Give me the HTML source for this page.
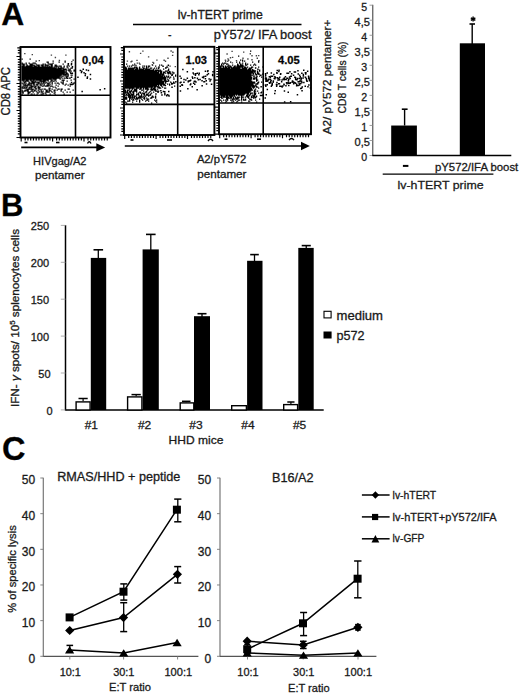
<!DOCTYPE html><html><head><meta charset="utf-8"><style>html,body{margin:0;padding:0;background:#fff;width:520px;height:694px;overflow:hidden;}body{position:relative;}text{stroke:#1a1a1a;stroke-width:.3px}</style></head><body><svg width="520" height="694" viewBox="0 0 520 694" style="position:absolute;left:0;top:0"><g font-family='"Liberation Sans", sans-serif' fill="#1a1a1a"><text x="1.20" y="24.80" font-size="31.5" font-weight="bold" textLength="23.00" lengthAdjust="spacingAndGlyphs" fill="#000">A</text><text x="1.00" y="215.90" font-size="31" font-weight="bold" fill="#000">B</text><text x="2.00" y="460.30" font-size="32.5" font-weight="bold" fill="#000">C</text><path d="M21.5 58.5h1.3v1.3h-1.3zM29.5 58.5h1.3v1.3h-1.3zM72.5 59.5h1.3v1.3h-1.3zM35.5 60.5h1.3v1.3h-1.3zM52.5 60.5h1.3v1.3h-1.3zM64.5 60.5h1.3v1.3h-1.3zM46.5 61.5h1.3v1.3h-1.3zM47.5 61.5h1.3v1.3h-1.3zM58.5 61.5h1.3v1.3h-1.3zM64.5 61.5h1.3v1.3h-1.3zM21.5 62.5h1.3v1.3h-1.3zM25.5 62.5h1.3v1.3h-1.3zM28.5 62.5h1.3v1.3h-1.3zM32.5 62.5h1.3v1.3h-1.3zM33.5 62.5h1.3v1.3h-1.3zM34.5 62.5h1.3v1.3h-1.3zM47.5 62.5h1.3v1.3h-1.3zM52.5 62.5h1.3v1.3h-1.3zM21.5 63.5h1.3v1.3h-1.3zM22.5 63.5h1.3v1.3h-1.3zM23.5 63.5h1.3v1.3h-1.3zM25.5 63.5h1.3v1.3h-1.3zM29.5 63.5h1.3v1.3h-1.3zM30.5 63.5h1.3v1.3h-1.3zM31.5 63.5h1.3v1.3h-1.3zM35.5 63.5h1.3v1.3h-1.3zM42.5 63.5h1.3v1.3h-1.3zM44.5 63.5h1.3v1.3h-1.3zM48.5 63.5h1.3v1.3h-1.3zM49.5 63.5h1.3v1.3h-1.3zM50.5 63.5h1.3v1.3h-1.3zM51.5 63.5h1.3v1.3h-1.3zM62.5 63.5h1.3v1.3h-1.3zM67.5 63.5h1.3v1.3h-1.3zM22.5 64.5h1.3v1.3h-1.3zM23.5 64.5h1.3v1.3h-1.3zM26.5 64.5h1.3v1.3h-1.3zM29.5 64.5h1.3v1.3h-1.3zM30.5 64.5h1.3v1.3h-1.3zM31.5 64.5h1.3v1.3h-1.3zM32.5 64.5h1.3v1.3h-1.3zM33.5 64.5h1.3v1.3h-1.3zM36.5 64.5h1.3v1.3h-1.3zM37.5 64.5h1.3v1.3h-1.3zM38.5 64.5h1.3v1.3h-1.3zM40.5 64.5h1.3v1.3h-1.3zM41.5 64.5h1.3v1.3h-1.3zM42.5 64.5h1.3v1.3h-1.3zM44.5 64.5h1.3v1.3h-1.3zM45.5 64.5h1.3v1.3h-1.3zM46.5 64.5h1.3v1.3h-1.3zM47.5 64.5h1.3v1.3h-1.3zM50.5 64.5h1.3v1.3h-1.3zM51.5 64.5h1.3v1.3h-1.3zM54.5 64.5h1.3v1.3h-1.3zM55.5 64.5h1.3v1.3h-1.3zM67.5 64.5h1.3v1.3h-1.3zM21.5 65.5h1.3v1.3h-1.3zM22.5 65.5h1.3v1.3h-1.3zM23.5 65.5h1.3v1.3h-1.3zM25.5 65.5h1.3v1.3h-1.3zM26.5 65.5h1.3v1.3h-1.3zM27.5 65.5h1.3v1.3h-1.3zM28.5 65.5h1.3v1.3h-1.3zM29.5 65.5h1.3v1.3h-1.3zM30.5 65.5h1.3v1.3h-1.3zM31.5 65.5h1.3v1.3h-1.3zM33.5 65.5h1.3v1.3h-1.3zM34.5 65.5h1.3v1.3h-1.3zM35.5 65.5h1.3v1.3h-1.3zM37.5 65.5h1.3v1.3h-1.3zM38.5 65.5h1.3v1.3h-1.3zM41.5 65.5h1.3v1.3h-1.3zM42.5 65.5h1.3v1.3h-1.3zM44.5 65.5h1.3v1.3h-1.3zM46.5 65.5h1.3v1.3h-1.3zM48.5 65.5h1.3v1.3h-1.3zM50.5 65.5h1.3v1.3h-1.3zM51.5 65.5h1.3v1.3h-1.3zM54.5 65.5h1.3v1.3h-1.3zM55.5 65.5h1.3v1.3h-1.3zM56.5 65.5h1.3v1.3h-1.3zM58.5 65.5h1.3v1.3h-1.3zM59.5 65.5h1.3v1.3h-1.3zM60.5 65.5h1.3v1.3h-1.3zM63.5 65.5h1.3v1.3h-1.3zM66.5 65.5h1.3v1.3h-1.3zM68.5 65.5h1.3v1.3h-1.3zM21.5 66.5h1.3v1.3h-1.3zM22.5 66.5h1.3v1.3h-1.3zM23.5 66.5h1.3v1.3h-1.3zM24.5 66.5h1.3v1.3h-1.3zM25.5 66.5h1.3v1.3h-1.3zM26.5 66.5h1.3v1.3h-1.3zM27.5 66.5h1.3v1.3h-1.3zM28.5 66.5h1.3v1.3h-1.3zM29.5 66.5h1.3v1.3h-1.3zM30.5 66.5h1.3v1.3h-1.3zM31.5 66.5h1.3v1.3h-1.3zM32.5 66.5h1.3v1.3h-1.3zM33.5 66.5h1.3v1.3h-1.3zM34.5 66.5h1.3v1.3h-1.3zM35.5 66.5h1.3v1.3h-1.3zM36.5 66.5h1.3v1.3h-1.3zM37.5 66.5h1.3v1.3h-1.3zM38.5 66.5h1.3v1.3h-1.3zM39.5 66.5h1.3v1.3h-1.3zM40.5 66.5h1.3v1.3h-1.3zM41.5 66.5h1.3v1.3h-1.3zM42.5 66.5h1.3v1.3h-1.3zM43.5 66.5h1.3v1.3h-1.3zM44.5 66.5h1.3v1.3h-1.3zM45.5 66.5h1.3v1.3h-1.3zM46.5 66.5h1.3v1.3h-1.3zM47.5 66.5h1.3v1.3h-1.3zM48.5 66.5h1.3v1.3h-1.3zM49.5 66.5h1.3v1.3h-1.3zM50.5 66.5h1.3v1.3h-1.3zM51.5 66.5h1.3v1.3h-1.3zM53.5 66.5h1.3v1.3h-1.3zM55.5 66.5h1.3v1.3h-1.3zM57.5 66.5h1.3v1.3h-1.3zM60.5 66.5h1.3v1.3h-1.3zM63.5 66.5h1.3v1.3h-1.3zM66.5 66.5h1.3v1.3h-1.3zM21.5 67.5h1.3v1.3h-1.3zM22.5 67.5h1.3v1.3h-1.3zM23.5 67.5h1.3v1.3h-1.3zM24.5 67.5h1.3v1.3h-1.3zM25.5 67.5h1.3v1.3h-1.3zM26.5 67.5h1.3v1.3h-1.3zM27.5 67.5h1.3v1.3h-1.3zM28.5 67.5h1.3v1.3h-1.3zM29.5 67.5h1.3v1.3h-1.3zM30.5 67.5h1.3v1.3h-1.3zM31.5 67.5h1.3v1.3h-1.3zM32.5 67.5h1.3v1.3h-1.3zM33.5 67.5h1.3v1.3h-1.3zM34.5 67.5h1.3v1.3h-1.3zM35.5 67.5h1.3v1.3h-1.3zM36.5 67.5h1.3v1.3h-1.3zM37.5 67.5h1.3v1.3h-1.3zM38.5 67.5h1.3v1.3h-1.3zM39.5 67.5h1.3v1.3h-1.3zM40.5 67.5h1.3v1.3h-1.3zM41.5 67.5h1.3v1.3h-1.3zM42.5 67.5h1.3v1.3h-1.3zM43.5 67.5h1.3v1.3h-1.3zM44.5 67.5h1.3v1.3h-1.3zM45.5 67.5h1.3v1.3h-1.3zM46.5 67.5h1.3v1.3h-1.3zM47.5 67.5h1.3v1.3h-1.3zM48.5 67.5h1.3v1.3h-1.3zM49.5 67.5h1.3v1.3h-1.3zM50.5 67.5h1.3v1.3h-1.3zM51.5 67.5h1.3v1.3h-1.3zM52.5 67.5h1.3v1.3h-1.3zM53.5 67.5h1.3v1.3h-1.3zM54.5 67.5h1.3v1.3h-1.3zM55.5 67.5h1.3v1.3h-1.3zM57.5 67.5h1.3v1.3h-1.3zM58.5 67.5h1.3v1.3h-1.3zM59.5 67.5h1.3v1.3h-1.3zM60.5 67.5h1.3v1.3h-1.3zM61.5 67.5h1.3v1.3h-1.3zM62.5 67.5h1.3v1.3h-1.3zM67.5 67.5h1.3v1.3h-1.3zM70.5 67.5h1.3v1.3h-1.3zM71.5 67.5h1.3v1.3h-1.3zM21.5 68.5h1.3v1.3h-1.3zM22.5 68.5h1.3v1.3h-1.3zM23.5 68.5h1.3v1.3h-1.3zM24.5 68.5h1.3v1.3h-1.3zM25.5 68.5h1.3v1.3h-1.3zM26.5 68.5h1.3v1.3h-1.3zM27.5 68.5h1.3v1.3h-1.3zM28.5 68.5h1.3v1.3h-1.3zM29.5 68.5h1.3v1.3h-1.3zM30.5 68.5h1.3v1.3h-1.3zM31.5 68.5h1.3v1.3h-1.3zM32.5 68.5h1.3v1.3h-1.3zM33.5 68.5h1.3v1.3h-1.3zM34.5 68.5h1.3v1.3h-1.3zM35.5 68.5h1.3v1.3h-1.3zM36.5 68.5h1.3v1.3h-1.3zM37.5 68.5h1.3v1.3h-1.3zM38.5 68.5h1.3v1.3h-1.3zM39.5 68.5h1.3v1.3h-1.3zM40.5 68.5h1.3v1.3h-1.3zM41.5 68.5h1.3v1.3h-1.3zM42.5 68.5h1.3v1.3h-1.3zM43.5 68.5h1.3v1.3h-1.3zM44.5 68.5h1.3v1.3h-1.3zM45.5 68.5h1.3v1.3h-1.3zM46.5 68.5h1.3v1.3h-1.3zM47.5 68.5h1.3v1.3h-1.3zM48.5 68.5h1.3v1.3h-1.3zM49.5 68.5h1.3v1.3h-1.3zM50.5 68.5h1.3v1.3h-1.3zM51.5 68.5h1.3v1.3h-1.3zM52.5 68.5h1.3v1.3h-1.3zM53.5 68.5h1.3v1.3h-1.3zM54.5 68.5h1.3v1.3h-1.3zM55.5 68.5h1.3v1.3h-1.3zM56.5 68.5h1.3v1.3h-1.3zM57.5 68.5h1.3v1.3h-1.3zM58.5 68.5h1.3v1.3h-1.3zM59.5 68.5h1.3v1.3h-1.3zM60.5 68.5h1.3v1.3h-1.3zM62.5 68.5h1.3v1.3h-1.3zM63.5 68.5h1.3v1.3h-1.3zM64.5 68.5h1.3v1.3h-1.3zM65.5 68.5h1.3v1.3h-1.3zM69.5 68.5h1.3v1.3h-1.3zM21.5 69.5h1.3v1.3h-1.3zM22.5 69.5h1.3v1.3h-1.3zM23.5 69.5h1.3v1.3h-1.3zM24.5 69.5h1.3v1.3h-1.3zM25.5 69.5h1.3v1.3h-1.3zM26.5 69.5h1.3v1.3h-1.3zM27.5 69.5h1.3v1.3h-1.3zM28.5 69.5h1.3v1.3h-1.3zM29.5 69.5h1.3v1.3h-1.3zM30.5 69.5h1.3v1.3h-1.3zM31.5 69.5h1.3v1.3h-1.3zM32.5 69.5h1.3v1.3h-1.3zM33.5 69.5h1.3v1.3h-1.3zM34.5 69.5h1.3v1.3h-1.3zM35.5 69.5h1.3v1.3h-1.3zM36.5 69.5h1.3v1.3h-1.3zM37.5 69.5h1.3v1.3h-1.3zM38.5 69.5h1.3v1.3h-1.3zM39.5 69.5h1.3v1.3h-1.3zM40.5 69.5h1.3v1.3h-1.3zM41.5 69.5h1.3v1.3h-1.3zM42.5 69.5h1.3v1.3h-1.3zM43.5 69.5h1.3v1.3h-1.3zM44.5 69.5h1.3v1.3h-1.3zM45.5 69.5h1.3v1.3h-1.3zM46.5 69.5h1.3v1.3h-1.3zM47.5 69.5h1.3v1.3h-1.3zM48.5 69.5h1.3v1.3h-1.3zM49.5 69.5h1.3v1.3h-1.3zM50.5 69.5h1.3v1.3h-1.3zM51.5 69.5h1.3v1.3h-1.3zM52.5 69.5h1.3v1.3h-1.3zM53.5 69.5h1.3v1.3h-1.3zM54.5 69.5h1.3v1.3h-1.3zM55.5 69.5h1.3v1.3h-1.3zM56.5 69.5h1.3v1.3h-1.3zM57.5 69.5h1.3v1.3h-1.3zM58.5 69.5h1.3v1.3h-1.3zM59.5 69.5h1.3v1.3h-1.3zM60.5 69.5h1.3v1.3h-1.3zM61.5 69.5h1.3v1.3h-1.3zM62.5 69.5h1.3v1.3h-1.3zM63.5 69.5h1.3v1.3h-1.3zM65.5 69.5h1.3v1.3h-1.3zM67.5 69.5h1.3v1.3h-1.3zM68.5 69.5h1.3v1.3h-1.3zM69.5 69.5h1.3v1.3h-1.3zM73.5 69.5h1.3v1.3h-1.3zM74.5 69.5h1.3v1.3h-1.3zM21.5 70.5h1.3v1.3h-1.3zM22.5 70.5h1.3v1.3h-1.3zM23.5 70.5h1.3v1.3h-1.3zM24.5 70.5h1.3v1.3h-1.3zM25.5 70.5h1.3v1.3h-1.3zM26.5 70.5h1.3v1.3h-1.3zM27.5 70.5h1.3v1.3h-1.3zM28.5 70.5h1.3v1.3h-1.3zM29.5 70.5h1.3v1.3h-1.3zM30.5 70.5h1.3v1.3h-1.3zM31.5 70.5h1.3v1.3h-1.3zM32.5 70.5h1.3v1.3h-1.3zM33.5 70.5h1.3v1.3h-1.3zM34.5 70.5h1.3v1.3h-1.3zM35.5 70.5h1.3v1.3h-1.3zM36.5 70.5h1.3v1.3h-1.3zM37.5 70.5h1.3v1.3h-1.3zM38.5 70.5h1.3v1.3h-1.3zM39.5 70.5h1.3v1.3h-1.3zM40.5 70.5h1.3v1.3h-1.3zM41.5 70.5h1.3v1.3h-1.3zM42.5 70.5h1.3v1.3h-1.3zM43.5 70.5h1.3v1.3h-1.3zM44.5 70.5h1.3v1.3h-1.3zM45.5 70.5h1.3v1.3h-1.3zM46.5 70.5h1.3v1.3h-1.3zM47.5 70.5h1.3v1.3h-1.3zM48.5 70.5h1.3v1.3h-1.3zM49.5 70.5h1.3v1.3h-1.3zM50.5 70.5h1.3v1.3h-1.3zM51.5 70.5h1.3v1.3h-1.3zM52.5 70.5h1.3v1.3h-1.3zM53.5 70.5h1.3v1.3h-1.3zM54.5 70.5h1.3v1.3h-1.3zM55.5 70.5h1.3v1.3h-1.3zM56.5 70.5h1.3v1.3h-1.3zM57.5 70.5h1.3v1.3h-1.3zM58.5 70.5h1.3v1.3h-1.3zM59.5 70.5h1.3v1.3h-1.3zM60.5 70.5h1.3v1.3h-1.3zM61.5 70.5h1.3v1.3h-1.3zM62.5 70.5h1.3v1.3h-1.3zM63.5 70.5h1.3v1.3h-1.3zM65.5 70.5h1.3v1.3h-1.3zM68.5 70.5h1.3v1.3h-1.3zM70.5 70.5h1.3v1.3h-1.3zM73.5 70.5h1.3v1.3h-1.3zM21.5 71.5h1.3v1.3h-1.3zM22.5 71.5h1.3v1.3h-1.3zM23.5 71.5h1.3v1.3h-1.3zM24.5 71.5h1.3v1.3h-1.3zM25.5 71.5h1.3v1.3h-1.3zM26.5 71.5h1.3v1.3h-1.3zM27.5 71.5h1.3v1.3h-1.3zM28.5 71.5h1.3v1.3h-1.3zM29.5 71.5h1.3v1.3h-1.3zM30.5 71.5h1.3v1.3h-1.3zM31.5 71.5h1.3v1.3h-1.3zM32.5 71.5h1.3v1.3h-1.3zM33.5 71.5h1.3v1.3h-1.3zM34.5 71.5h1.3v1.3h-1.3zM35.5 71.5h1.3v1.3h-1.3zM36.5 71.5h1.3v1.3h-1.3zM37.5 71.5h1.3v1.3h-1.3zM38.5 71.5h1.3v1.3h-1.3zM39.5 71.5h1.3v1.3h-1.3zM40.5 71.5h1.3v1.3h-1.3zM41.5 71.5h1.3v1.3h-1.3zM42.5 71.5h1.3v1.3h-1.3zM43.5 71.5h1.3v1.3h-1.3zM44.5 71.5h1.3v1.3h-1.3zM45.5 71.5h1.3v1.3h-1.3zM46.5 71.5h1.3v1.3h-1.3zM47.5 71.5h1.3v1.3h-1.3zM48.5 71.5h1.3v1.3h-1.3zM49.5 71.5h1.3v1.3h-1.3zM50.5 71.5h1.3v1.3h-1.3zM51.5 71.5h1.3v1.3h-1.3zM52.5 71.5h1.3v1.3h-1.3zM53.5 71.5h1.3v1.3h-1.3zM54.5 71.5h1.3v1.3h-1.3zM55.5 71.5h1.3v1.3h-1.3zM56.5 71.5h1.3v1.3h-1.3zM57.5 71.5h1.3v1.3h-1.3zM58.5 71.5h1.3v1.3h-1.3zM59.5 71.5h1.3v1.3h-1.3zM60.5 71.5h1.3v1.3h-1.3zM61.5 71.5h1.3v1.3h-1.3zM62.5 71.5h1.3v1.3h-1.3zM63.5 71.5h1.3v1.3h-1.3zM64.5 71.5h1.3v1.3h-1.3zM65.5 71.5h1.3v1.3h-1.3zM69.5 71.5h1.3v1.3h-1.3zM21.5 72.5h1.3v1.3h-1.3zM22.5 72.5h1.3v1.3h-1.3zM23.5 72.5h1.3v1.3h-1.3zM24.5 72.5h1.3v1.3h-1.3zM25.5 72.5h1.3v1.3h-1.3zM26.5 72.5h1.3v1.3h-1.3zM27.5 72.5h1.3v1.3h-1.3zM28.5 72.5h1.3v1.3h-1.3zM29.5 72.5h1.3v1.3h-1.3zM30.5 72.5h1.3v1.3h-1.3zM31.5 72.5h1.3v1.3h-1.3zM32.5 72.5h1.3v1.3h-1.3zM33.5 72.5h1.3v1.3h-1.3zM34.5 72.5h1.3v1.3h-1.3zM35.5 72.5h1.3v1.3h-1.3zM36.5 72.5h1.3v1.3h-1.3zM37.5 72.5h1.3v1.3h-1.3zM38.5 72.5h1.3v1.3h-1.3zM39.5 72.5h1.3v1.3h-1.3zM40.5 72.5h1.3v1.3h-1.3zM41.5 72.5h1.3v1.3h-1.3zM42.5 72.5h1.3v1.3h-1.3zM43.5 72.5h1.3v1.3h-1.3zM44.5 72.5h1.3v1.3h-1.3zM45.5 72.5h1.3v1.3h-1.3zM46.5 72.5h1.3v1.3h-1.3zM47.5 72.5h1.3v1.3h-1.3zM48.5 72.5h1.3v1.3h-1.3zM49.5 72.5h1.3v1.3h-1.3zM50.5 72.5h1.3v1.3h-1.3zM51.5 72.5h1.3v1.3h-1.3zM52.5 72.5h1.3v1.3h-1.3zM53.5 72.5h1.3v1.3h-1.3zM54.5 72.5h1.3v1.3h-1.3zM55.5 72.5h1.3v1.3h-1.3zM56.5 72.5h1.3v1.3h-1.3zM57.5 72.5h1.3v1.3h-1.3zM58.5 72.5h1.3v1.3h-1.3zM59.5 72.5h1.3v1.3h-1.3zM60.5 72.5h1.3v1.3h-1.3zM62.5 72.5h1.3v1.3h-1.3zM63.5 72.5h1.3v1.3h-1.3zM65.5 72.5h1.3v1.3h-1.3zM66.5 72.5h1.3v1.3h-1.3zM21.5 73.5h1.3v1.3h-1.3zM22.5 73.5h1.3v1.3h-1.3zM23.5 73.5h1.3v1.3h-1.3zM24.5 73.5h1.3v1.3h-1.3zM25.5 73.5h1.3v1.3h-1.3zM26.5 73.5h1.3v1.3h-1.3zM27.5 73.5h1.3v1.3h-1.3zM28.5 73.5h1.3v1.3h-1.3zM29.5 73.5h1.3v1.3h-1.3zM30.5 73.5h1.3v1.3h-1.3zM31.5 73.5h1.3v1.3h-1.3zM32.5 73.5h1.3v1.3h-1.3zM33.5 73.5h1.3v1.3h-1.3zM34.5 73.5h1.3v1.3h-1.3zM35.5 73.5h1.3v1.3h-1.3zM36.5 73.5h1.3v1.3h-1.3zM37.5 73.5h1.3v1.3h-1.3zM38.5 73.5h1.3v1.3h-1.3zM39.5 73.5h1.3v1.3h-1.3zM40.5 73.5h1.3v1.3h-1.3zM41.5 73.5h1.3v1.3h-1.3zM42.5 73.5h1.3v1.3h-1.3zM43.5 73.5h1.3v1.3h-1.3zM44.5 73.5h1.3v1.3h-1.3zM45.5 73.5h1.3v1.3h-1.3zM46.5 73.5h1.3v1.3h-1.3zM47.5 73.5h1.3v1.3h-1.3zM48.5 73.5h1.3v1.3h-1.3zM49.5 73.5h1.3v1.3h-1.3zM50.5 73.5h1.3v1.3h-1.3zM51.5 73.5h1.3v1.3h-1.3zM52.5 73.5h1.3v1.3h-1.3zM53.5 73.5h1.3v1.3h-1.3zM54.5 73.5h1.3v1.3h-1.3zM55.5 73.5h1.3v1.3h-1.3zM56.5 73.5h1.3v1.3h-1.3zM57.5 73.5h1.3v1.3h-1.3zM58.5 73.5h1.3v1.3h-1.3zM59.5 73.5h1.3v1.3h-1.3zM60.5 73.5h1.3v1.3h-1.3zM61.5 73.5h1.3v1.3h-1.3zM63.5 73.5h1.3v1.3h-1.3zM64.5 73.5h1.3v1.3h-1.3zM65.5 73.5h1.3v1.3h-1.3zM66.5 73.5h1.3v1.3h-1.3zM67.5 73.5h1.3v1.3h-1.3zM21.5 74.5h1.3v1.3h-1.3zM22.5 74.5h1.3v1.3h-1.3zM23.5 74.5h1.3v1.3h-1.3zM24.5 74.5h1.3v1.3h-1.3zM25.5 74.5h1.3v1.3h-1.3zM26.5 74.5h1.3v1.3h-1.3zM27.5 74.5h1.3v1.3h-1.3zM28.5 74.5h1.3v1.3h-1.3zM29.5 74.5h1.3v1.3h-1.3zM30.5 74.5h1.3v1.3h-1.3zM31.5 74.5h1.3v1.3h-1.3zM32.5 74.5h1.3v1.3h-1.3zM33.5 74.5h1.3v1.3h-1.3zM34.5 74.5h1.3v1.3h-1.3zM35.5 74.5h1.3v1.3h-1.3zM36.5 74.5h1.3v1.3h-1.3zM37.5 74.5h1.3v1.3h-1.3zM38.5 74.5h1.3v1.3h-1.3zM39.5 74.5h1.3v1.3h-1.3zM40.5 74.5h1.3v1.3h-1.3zM41.5 74.5h1.3v1.3h-1.3zM42.5 74.5h1.3v1.3h-1.3zM43.5 74.5h1.3v1.3h-1.3zM44.5 74.5h1.3v1.3h-1.3zM45.5 74.5h1.3v1.3h-1.3zM46.5 74.5h1.3v1.3h-1.3zM47.5 74.5h1.3v1.3h-1.3zM48.5 74.5h1.3v1.3h-1.3zM49.5 74.5h1.3v1.3h-1.3zM50.5 74.5h1.3v1.3h-1.3zM51.5 74.5h1.3v1.3h-1.3zM52.5 74.5h1.3v1.3h-1.3zM53.5 74.5h1.3v1.3h-1.3zM54.5 74.5h1.3v1.3h-1.3zM55.5 74.5h1.3v1.3h-1.3zM56.5 74.5h1.3v1.3h-1.3zM57.5 74.5h1.3v1.3h-1.3zM58.5 74.5h1.3v1.3h-1.3zM59.5 74.5h1.3v1.3h-1.3zM60.5 74.5h1.3v1.3h-1.3zM63.5 74.5h1.3v1.3h-1.3zM67.5 74.5h1.3v1.3h-1.3zM70.5 74.5h1.3v1.3h-1.3zM71.5 74.5h1.3v1.3h-1.3zM21.5 75.5h1.3v1.3h-1.3zM22.5 75.5h1.3v1.3h-1.3zM23.5 75.5h1.3v1.3h-1.3zM24.5 75.5h1.3v1.3h-1.3zM25.5 75.5h1.3v1.3h-1.3zM26.5 75.5h1.3v1.3h-1.3zM27.5 75.5h1.3v1.3h-1.3zM28.5 75.5h1.3v1.3h-1.3zM29.5 75.5h1.3v1.3h-1.3zM30.5 75.5h1.3v1.3h-1.3zM31.5 75.5h1.3v1.3h-1.3zM32.5 75.5h1.3v1.3h-1.3zM33.5 75.5h1.3v1.3h-1.3zM34.5 75.5h1.3v1.3h-1.3zM35.5 75.5h1.3v1.3h-1.3zM36.5 75.5h1.3v1.3h-1.3zM37.5 75.5h1.3v1.3h-1.3zM38.5 75.5h1.3v1.3h-1.3zM39.5 75.5h1.3v1.3h-1.3zM40.5 75.5h1.3v1.3h-1.3zM41.5 75.5h1.3v1.3h-1.3zM42.5 75.5h1.3v1.3h-1.3zM43.5 75.5h1.3v1.3h-1.3zM44.5 75.5h1.3v1.3h-1.3zM45.5 75.5h1.3v1.3h-1.3zM46.5 75.5h1.3v1.3h-1.3zM47.5 75.5h1.3v1.3h-1.3zM48.5 75.5h1.3v1.3h-1.3zM49.5 75.5h1.3v1.3h-1.3zM50.5 75.5h1.3v1.3h-1.3zM51.5 75.5h1.3v1.3h-1.3zM52.5 75.5h1.3v1.3h-1.3zM53.5 75.5h1.3v1.3h-1.3zM54.5 75.5h1.3v1.3h-1.3zM55.5 75.5h1.3v1.3h-1.3zM56.5 75.5h1.3v1.3h-1.3zM57.5 75.5h1.3v1.3h-1.3zM58.5 75.5h1.3v1.3h-1.3zM59.5 75.5h1.3v1.3h-1.3zM61.5 75.5h1.3v1.3h-1.3zM62.5 75.5h1.3v1.3h-1.3zM64.5 75.5h1.3v1.3h-1.3zM67.5 75.5h1.3v1.3h-1.3zM21.5 76.5h1.3v1.3h-1.3zM22.5 76.5h1.3v1.3h-1.3zM23.5 76.5h1.3v1.3h-1.3zM24.5 76.5h1.3v1.3h-1.3zM25.5 76.5h1.3v1.3h-1.3zM26.5 76.5h1.3v1.3h-1.3zM27.5 76.5h1.3v1.3h-1.3zM28.5 76.5h1.3v1.3h-1.3zM29.5 76.5h1.3v1.3h-1.3zM30.5 76.5h1.3v1.3h-1.3zM31.5 76.5h1.3v1.3h-1.3zM32.5 76.5h1.3v1.3h-1.3zM33.5 76.5h1.3v1.3h-1.3zM34.5 76.5h1.3v1.3h-1.3zM35.5 76.5h1.3v1.3h-1.3zM36.5 76.5h1.3v1.3h-1.3zM37.5 76.5h1.3v1.3h-1.3zM38.5 76.5h1.3v1.3h-1.3zM39.5 76.5h1.3v1.3h-1.3zM40.5 76.5h1.3v1.3h-1.3zM41.5 76.5h1.3v1.3h-1.3zM42.5 76.5h1.3v1.3h-1.3zM43.5 76.5h1.3v1.3h-1.3zM44.5 76.5h1.3v1.3h-1.3zM45.5 76.5h1.3v1.3h-1.3zM46.5 76.5h1.3v1.3h-1.3zM47.5 76.5h1.3v1.3h-1.3zM48.5 76.5h1.3v1.3h-1.3zM49.5 76.5h1.3v1.3h-1.3zM50.5 76.5h1.3v1.3h-1.3zM51.5 76.5h1.3v1.3h-1.3zM52.5 76.5h1.3v1.3h-1.3zM53.5 76.5h1.3v1.3h-1.3zM54.5 76.5h1.3v1.3h-1.3zM55.5 76.5h1.3v1.3h-1.3zM56.5 76.5h1.3v1.3h-1.3zM57.5 76.5h1.3v1.3h-1.3zM58.5 76.5h1.3v1.3h-1.3zM60.5 76.5h1.3v1.3h-1.3zM21.5 77.5h1.3v1.3h-1.3zM22.5 77.5h1.3v1.3h-1.3zM23.5 77.5h1.3v1.3h-1.3zM24.5 77.5h1.3v1.3h-1.3zM25.5 77.5h1.3v1.3h-1.3zM26.5 77.5h1.3v1.3h-1.3zM27.5 77.5h1.3v1.3h-1.3zM28.5 77.5h1.3v1.3h-1.3zM29.5 77.5h1.3v1.3h-1.3zM30.5 77.5h1.3v1.3h-1.3zM31.5 77.5h1.3v1.3h-1.3zM32.5 77.5h1.3v1.3h-1.3zM33.5 77.5h1.3v1.3h-1.3zM34.5 77.5h1.3v1.3h-1.3zM35.5 77.5h1.3v1.3h-1.3zM36.5 77.5h1.3v1.3h-1.3zM37.5 77.5h1.3v1.3h-1.3zM38.5 77.5h1.3v1.3h-1.3zM39.5 77.5h1.3v1.3h-1.3zM40.5 77.5h1.3v1.3h-1.3zM41.5 77.5h1.3v1.3h-1.3zM42.5 77.5h1.3v1.3h-1.3zM43.5 77.5h1.3v1.3h-1.3zM44.5 77.5h1.3v1.3h-1.3zM45.5 77.5h1.3v1.3h-1.3zM46.5 77.5h1.3v1.3h-1.3zM47.5 77.5h1.3v1.3h-1.3zM48.5 77.5h1.3v1.3h-1.3zM49.5 77.5h1.3v1.3h-1.3zM50.5 77.5h1.3v1.3h-1.3zM51.5 77.5h1.3v1.3h-1.3zM52.5 77.5h1.3v1.3h-1.3zM53.5 77.5h1.3v1.3h-1.3zM54.5 77.5h1.3v1.3h-1.3zM55.5 77.5h1.3v1.3h-1.3zM56.5 77.5h1.3v1.3h-1.3zM57.5 77.5h1.3v1.3h-1.3zM58.5 77.5h1.3v1.3h-1.3zM59.5 77.5h1.3v1.3h-1.3zM61.5 77.5h1.3v1.3h-1.3zM63.5 77.5h1.3v1.3h-1.3zM64.5 77.5h1.3v1.3h-1.3zM66.5 77.5h1.3v1.3h-1.3zM68.5 77.5h1.3v1.3h-1.3zM69.5 77.5h1.3v1.3h-1.3zM21.5 78.5h1.3v1.3h-1.3zM22.5 78.5h1.3v1.3h-1.3zM23.5 78.5h1.3v1.3h-1.3zM24.5 78.5h1.3v1.3h-1.3zM25.5 78.5h1.3v1.3h-1.3zM26.5 78.5h1.3v1.3h-1.3zM27.5 78.5h1.3v1.3h-1.3zM28.5 78.5h1.3v1.3h-1.3zM29.5 78.5h1.3v1.3h-1.3zM30.5 78.5h1.3v1.3h-1.3zM31.5 78.5h1.3v1.3h-1.3zM32.5 78.5h1.3v1.3h-1.3zM33.5 78.5h1.3v1.3h-1.3zM34.5 78.5h1.3v1.3h-1.3zM35.5 78.5h1.3v1.3h-1.3zM36.5 78.5h1.3v1.3h-1.3zM37.5 78.5h1.3v1.3h-1.3zM38.5 78.5h1.3v1.3h-1.3zM39.5 78.5h1.3v1.3h-1.3zM40.5 78.5h1.3v1.3h-1.3zM41.5 78.5h1.3v1.3h-1.3zM42.5 78.5h1.3v1.3h-1.3zM43.5 78.5h1.3v1.3h-1.3zM44.5 78.5h1.3v1.3h-1.3zM45.5 78.5h1.3v1.3h-1.3zM46.5 78.5h1.3v1.3h-1.3zM47.5 78.5h1.3v1.3h-1.3zM48.5 78.5h1.3v1.3h-1.3zM49.5 78.5h1.3v1.3h-1.3zM50.5 78.5h1.3v1.3h-1.3zM52.5 78.5h1.3v1.3h-1.3zM53.5 78.5h1.3v1.3h-1.3zM54.5 78.5h1.3v1.3h-1.3zM55.5 78.5h1.3v1.3h-1.3zM59.5 78.5h1.3v1.3h-1.3zM73.5 78.5h1.3v1.3h-1.3zM21.5 79.5h1.3v1.3h-1.3zM22.5 79.5h1.3v1.3h-1.3zM23.5 79.5h1.3v1.3h-1.3zM25.5 79.5h1.3v1.3h-1.3zM26.5 79.5h1.3v1.3h-1.3zM27.5 79.5h1.3v1.3h-1.3zM29.5 79.5h1.3v1.3h-1.3zM30.5 79.5h1.3v1.3h-1.3zM32.5 79.5h1.3v1.3h-1.3zM33.5 79.5h1.3v1.3h-1.3zM35.5 79.5h1.3v1.3h-1.3zM36.5 79.5h1.3v1.3h-1.3zM37.5 79.5h1.3v1.3h-1.3zM38.5 79.5h1.3v1.3h-1.3zM39.5 79.5h1.3v1.3h-1.3zM40.5 79.5h1.3v1.3h-1.3zM42.5 79.5h1.3v1.3h-1.3zM43.5 79.5h1.3v1.3h-1.3zM44.5 79.5h1.3v1.3h-1.3zM45.5 79.5h1.3v1.3h-1.3zM46.5 79.5h1.3v1.3h-1.3zM47.5 79.5h1.3v1.3h-1.3zM50.5 79.5h1.3v1.3h-1.3zM51.5 79.5h1.3v1.3h-1.3zM54.5 79.5h1.3v1.3h-1.3zM61.5 79.5h1.3v1.3h-1.3zM62.5 79.5h1.3v1.3h-1.3zM63.5 79.5h1.3v1.3h-1.3zM70.5 79.5h1.3v1.3h-1.3zM22.5 80.5h1.3v1.3h-1.3zM24.5 80.5h1.3v1.3h-1.3zM25.5 80.5h1.3v1.3h-1.3zM26.5 80.5h1.3v1.3h-1.3zM27.5 80.5h1.3v1.3h-1.3zM30.5 80.5h1.3v1.3h-1.3zM31.5 80.5h1.3v1.3h-1.3zM32.5 80.5h1.3v1.3h-1.3zM34.5 80.5h1.3v1.3h-1.3zM39.5 80.5h1.3v1.3h-1.3zM40.5 80.5h1.3v1.3h-1.3zM41.5 80.5h1.3v1.3h-1.3zM42.5 80.5h1.3v1.3h-1.3zM43.5 80.5h1.3v1.3h-1.3zM44.5 80.5h1.3v1.3h-1.3zM47.5 80.5h1.3v1.3h-1.3zM50.5 80.5h1.3v1.3h-1.3zM52.5 80.5h1.3v1.3h-1.3zM53.5 80.5h1.3v1.3h-1.3zM55.5 80.5h1.3v1.3h-1.3zM62.5 80.5h1.3v1.3h-1.3zM66.5 80.5h1.3v1.3h-1.3zM23.5 81.5h1.3v1.3h-1.3zM24.5 81.5h1.3v1.3h-1.3zM28.5 81.5h1.3v1.3h-1.3zM31.5 81.5h1.3v1.3h-1.3zM32.5 81.5h1.3v1.3h-1.3zM33.5 81.5h1.3v1.3h-1.3zM34.5 81.5h1.3v1.3h-1.3zM35.5 81.5h1.3v1.3h-1.3zM36.5 81.5h1.3v1.3h-1.3zM37.5 81.5h1.3v1.3h-1.3zM38.5 81.5h1.3v1.3h-1.3zM40.5 81.5h1.3v1.3h-1.3zM42.5 81.5h1.3v1.3h-1.3zM43.5 81.5h1.3v1.3h-1.3zM45.5 81.5h1.3v1.3h-1.3zM49.5 81.5h1.3v1.3h-1.3zM51.5 81.5h1.3v1.3h-1.3zM60.5 81.5h1.3v1.3h-1.3zM62.5 81.5h1.3v1.3h-1.3zM21.5 82.5h1.3v1.3h-1.3zM23.5 82.5h1.3v1.3h-1.3zM25.5 82.5h1.3v1.3h-1.3zM28.5 82.5h1.3v1.3h-1.3zM29.5 82.5h1.3v1.3h-1.3zM30.5 82.5h1.3v1.3h-1.3zM31.5 82.5h1.3v1.3h-1.3zM32.5 82.5h1.3v1.3h-1.3zM33.5 82.5h1.3v1.3h-1.3zM37.5 82.5h1.3v1.3h-1.3zM38.5 82.5h1.3v1.3h-1.3zM40.5 82.5h1.3v1.3h-1.3zM42.5 82.5h1.3v1.3h-1.3zM44.5 82.5h1.3v1.3h-1.3zM46.5 82.5h1.3v1.3h-1.3zM47.5 82.5h1.3v1.3h-1.3zM48.5 82.5h1.3v1.3h-1.3zM51.5 82.5h1.3v1.3h-1.3zM54.5 82.5h1.3v1.3h-1.3zM56.5 82.5h1.3v1.3h-1.3zM57.5 82.5h1.3v1.3h-1.3zM61.5 82.5h1.3v1.3h-1.3zM62.5 82.5h1.3v1.3h-1.3zM22.5 83.5h1.3v1.3h-1.3zM24.5 83.5h1.3v1.3h-1.3zM27.5 83.5h1.3v1.3h-1.3zM28.5 83.5h1.3v1.3h-1.3zM30.5 83.5h1.3v1.3h-1.3zM32.5 83.5h1.3v1.3h-1.3zM33.5 83.5h1.3v1.3h-1.3zM35.5 83.5h1.3v1.3h-1.3zM36.5 83.5h1.3v1.3h-1.3zM37.5 83.5h1.3v1.3h-1.3zM39.5 83.5h1.3v1.3h-1.3zM41.5 83.5h1.3v1.3h-1.3zM43.5 83.5h1.3v1.3h-1.3zM47.5 83.5h1.3v1.3h-1.3zM49.5 83.5h1.3v1.3h-1.3zM51.5 83.5h1.3v1.3h-1.3zM58.5 83.5h1.3v1.3h-1.3zM62.5 83.5h1.3v1.3h-1.3zM65.5 83.5h1.3v1.3h-1.3zM69.5 83.5h1.3v1.3h-1.3zM23.5 84.5h1.3v1.3h-1.3zM24.5 84.5h1.3v1.3h-1.3zM25.5 84.5h1.3v1.3h-1.3zM26.5 84.5h1.3v1.3h-1.3zM27.5 84.5h1.3v1.3h-1.3zM28.5 84.5h1.3v1.3h-1.3zM29.5 84.5h1.3v1.3h-1.3zM30.5 84.5h1.3v1.3h-1.3zM33.5 84.5h1.3v1.3h-1.3zM36.5 84.5h1.3v1.3h-1.3zM39.5 84.5h1.3v1.3h-1.3zM40.5 84.5h1.3v1.3h-1.3zM43.5 84.5h1.3v1.3h-1.3zM46.5 84.5h1.3v1.3h-1.3zM47.5 84.5h1.3v1.3h-1.3zM48.5 84.5h1.3v1.3h-1.3zM55.5 84.5h1.3v1.3h-1.3zM64.5 84.5h1.3v1.3h-1.3zM67.5 84.5h1.3v1.3h-1.3zM22.5 85.5h1.3v1.3h-1.3zM24.5 85.5h1.3v1.3h-1.3zM26.5 85.5h1.3v1.3h-1.3zM30.5 85.5h1.3v1.3h-1.3zM31.5 85.5h1.3v1.3h-1.3zM32.5 85.5h1.3v1.3h-1.3zM34.5 85.5h1.3v1.3h-1.3zM35.5 85.5h1.3v1.3h-1.3zM37.5 85.5h1.3v1.3h-1.3zM41.5 85.5h1.3v1.3h-1.3zM42.5 85.5h1.3v1.3h-1.3zM44.5 85.5h1.3v1.3h-1.3zM45.5 85.5h1.3v1.3h-1.3zM46.5 85.5h1.3v1.3h-1.3zM47.5 85.5h1.3v1.3h-1.3zM49.5 85.5h1.3v1.3h-1.3zM50.5 85.5h1.3v1.3h-1.3zM51.5 85.5h1.3v1.3h-1.3zM57.5 85.5h1.3v1.3h-1.3zM69.5 85.5h1.3v1.3h-1.3zM21.5 86.5h1.3v1.3h-1.3zM23.5 86.5h1.3v1.3h-1.3zM25.5 86.5h1.3v1.3h-1.3zM26.5 86.5h1.3v1.3h-1.3zM28.5 86.5h1.3v1.3h-1.3zM29.5 86.5h1.3v1.3h-1.3zM30.5 86.5h1.3v1.3h-1.3zM31.5 86.5h1.3v1.3h-1.3zM33.5 86.5h1.3v1.3h-1.3zM34.5 86.5h1.3v1.3h-1.3zM37.5 86.5h1.3v1.3h-1.3zM38.5 86.5h1.3v1.3h-1.3zM39.5 86.5h1.3v1.3h-1.3zM52.5 86.5h1.3v1.3h-1.3zM54.5 86.5h1.3v1.3h-1.3zM21.5 87.5h1.3v1.3h-1.3zM22.5 87.5h1.3v1.3h-1.3zM23.5 87.5h1.3v1.3h-1.3zM24.5 87.5h1.3v1.3h-1.3zM25.5 87.5h1.3v1.3h-1.3zM28.5 87.5h1.3v1.3h-1.3zM30.5 87.5h1.3v1.3h-1.3zM34.5 87.5h1.3v1.3h-1.3zM35.5 87.5h1.3v1.3h-1.3zM37.5 87.5h1.3v1.3h-1.3zM38.5 87.5h1.3v1.3h-1.3zM48.5 87.5h1.3v1.3h-1.3zM49.5 87.5h1.3v1.3h-1.3zM55.5 87.5h1.3v1.3h-1.3zM26.5 88.5h1.3v1.3h-1.3zM27.5 88.5h1.3v1.3h-1.3zM28.5 88.5h1.3v1.3h-1.3zM29.5 88.5h1.3v1.3h-1.3zM30.5 88.5h1.3v1.3h-1.3zM31.5 88.5h1.3v1.3h-1.3zM32.5 88.5h1.3v1.3h-1.3zM35.5 88.5h1.3v1.3h-1.3zM38.5 88.5h1.3v1.3h-1.3zM39.5 88.5h1.3v1.3h-1.3zM41.5 88.5h1.3v1.3h-1.3zM43.5 88.5h1.3v1.3h-1.3zM44.5 88.5h1.3v1.3h-1.3zM48.5 88.5h1.3v1.3h-1.3zM51.5 88.5h1.3v1.3h-1.3zM57.5 88.5h1.3v1.3h-1.3zM58.5 88.5h1.3v1.3h-1.3zM60.5 88.5h1.3v1.3h-1.3zM61.5 88.5h1.3v1.3h-1.3zM67.5 88.5h1.3v1.3h-1.3zM68.5 88.5h1.3v1.3h-1.3zM21.5 89.5h1.3v1.3h-1.3zM24.5 89.5h1.3v1.3h-1.3zM25.5 89.5h1.3v1.3h-1.3zM26.5 89.5h1.3v1.3h-1.3zM27.5 89.5h1.3v1.3h-1.3zM31.5 89.5h1.3v1.3h-1.3zM33.5 89.5h1.3v1.3h-1.3zM34.5 89.5h1.3v1.3h-1.3zM37.5 89.5h1.3v1.3h-1.3zM40.5 89.5h1.3v1.3h-1.3zM45.5 89.5h1.3v1.3h-1.3zM46.5 89.5h1.3v1.3h-1.3zM48.5 89.5h1.3v1.3h-1.3zM49.5 89.5h1.3v1.3h-1.3zM53.5 89.5h1.3v1.3h-1.3zM54.5 89.5h1.3v1.3h-1.3zM56.5 89.5h1.3v1.3h-1.3zM60.5 89.5h1.3v1.3h-1.3zM64.5 89.5h1.3v1.3h-1.3zM72.5 89.5h1.3v1.3h-1.3zM21.5 90.5h1.3v1.3h-1.3zM23.5 90.5h1.3v1.3h-1.3zM24.5 90.5h1.3v1.3h-1.3zM26.5 90.5h1.3v1.3h-1.3zM27.5 90.5h1.3v1.3h-1.3zM30.5 90.5h1.3v1.3h-1.3zM31.5 90.5h1.3v1.3h-1.3zM33.5 90.5h1.3v1.3h-1.3zM35.5 90.5h1.3v1.3h-1.3zM38.5 90.5h1.3v1.3h-1.3zM40.5 90.5h1.3v1.3h-1.3zM42.5 90.5h1.3v1.3h-1.3zM45.5 90.5h1.3v1.3h-1.3zM46.5 90.5h1.3v1.3h-1.3zM48.5 90.5h1.3v1.3h-1.3zM50.5 90.5h1.3v1.3h-1.3zM53.5 90.5h1.3v1.3h-1.3zM60.5 90.5h1.3v1.3h-1.3zM21.5 91.5h1.3v1.3h-1.3zM22.5 91.5h1.3v1.3h-1.3zM27.5 91.5h1.3v1.3h-1.3zM28.5 91.5h1.3v1.3h-1.3zM29.5 91.5h1.3v1.3h-1.3zM32.5 91.5h1.3v1.3h-1.3zM36.5 91.5h1.3v1.3h-1.3zM38.5 91.5h1.3v1.3h-1.3zM40.5 91.5h1.3v1.3h-1.3zM41.5 91.5h1.3v1.3h-1.3zM45.5 91.5h1.3v1.3h-1.3zM46.5 91.5h1.3v1.3h-1.3zM47.5 91.5h1.3v1.3h-1.3zM48.5 91.5h1.3v1.3h-1.3zM51.5 91.5h1.3v1.3h-1.3zM54.5 91.5h1.3v1.3h-1.3zM62.5 91.5h1.3v1.3h-1.3zM66.5 91.5h1.3v1.3h-1.3zM69.5 91.5h1.3v1.3h-1.3zM22.5 92.5h1.3v1.3h-1.3zM27.5 92.5h1.3v1.3h-1.3zM28.5 92.5h1.3v1.3h-1.3zM37.5 92.5h1.3v1.3h-1.3zM42.5 92.5h1.3v1.3h-1.3zM44.5 92.5h1.3v1.3h-1.3zM53.5 92.5h1.3v1.3h-1.3zM21.5 93.5h1.3v1.3h-1.3zM27.5 93.5h1.3v1.3h-1.3zM30.5 93.5h1.3v1.3h-1.3zM31.5 93.5h1.3v1.3h-1.3zM33.5 93.5h1.3v1.3h-1.3zM36.5 93.5h1.3v1.3h-1.3zM40.5 93.5h1.3v1.3h-1.3zM41.5 93.5h1.3v1.3h-1.3zM42.5 93.5h1.3v1.3h-1.3zM45.5 93.5h1.3v1.3h-1.3zM49.5 93.5h1.3v1.3h-1.3zM54.5 93.5h1.3v1.3h-1.3zM63.5 93.5h1.3v1.3h-1.3zM65.1 73.9h1.5v1.5h-1.5zM68.0 69.2h1.5v1.5h-1.5zM71.7 65.9h1.5v1.5h-1.5zM70.1 72.6h1.5v1.5h-1.5zM67.6 63.0h1.5v1.5h-1.5zM70.9 72.5h1.5v1.5h-1.5zM73.4 82.2h1.5v1.5h-1.5zM61.1 72.2h1.5v1.5h-1.5zM64.8 68.8h1.5v1.5h-1.5zM62.9 72.1h1.5v1.5h-1.5zM61.1 70.1h1.5v1.5h-1.5zM70.8 81.8h1.5v1.5h-1.5zM70.1 83.7h1.5v1.5h-1.5zM71.6 72.6h1.5v1.5h-1.5zM66.1 75.5h1.5v1.5h-1.5zM70.7 64.0h1.5v1.5h-1.5zM71.3 83.8h1.5v1.5h-1.5zM66.0 76.9h1.5v1.5h-1.5zM70.8 76.6h1.5v1.5h-1.5zM62.7 73.5h1.5v1.5h-1.5zM66.6 77.5h1.5v1.5h-1.5zM72.4 83.2h1.5v1.5h-1.5zM70.8 62.7h1.5v1.5h-1.5zM86.5 77.4h1.5v1.5h-1.5zM87.7 69.8h1.5v1.5h-1.5zM85.7 69.3h1.5v1.5h-1.5zM79.6 69.8h1.5v1.5h-1.5zM84.5 74.7h1.5v1.5h-1.5zM77.2 76.4h1.5v1.5h-1.5zM89.7 78.3h1.5v1.5h-1.5zM84.7 73.0h1.5v1.5h-1.5zM81.1 70.4h1.5v1.5h-1.5zM82.5 68.6h1.5v1.5h-1.5zM89.7 73.7h1.5v1.5h-1.5zM86.7 76.2h1.5v1.5h-1.5zM80.7 71.8h1.5v1.5h-1.5zM83.3 71.9h1.5v1.5h-1.5zM103.9 88.0h1.5v1.5h-1.5zM99.4 89.0h1.5v1.5h-1.5zM81.4 90.8h1.5v1.5h-1.5zM153.0 62.5h1.3v1.3h-1.3zM126.0 63.5h1.3v1.3h-1.3zM134.0 63.5h1.3v1.3h-1.3zM132.0 64.5h1.3v1.3h-1.3zM152.0 64.5h1.3v1.3h-1.3zM159.0 64.5h1.3v1.3h-1.3zM161.0 64.5h1.3v1.3h-1.3zM127.0 65.5h1.3v1.3h-1.3zM129.0 65.5h1.3v1.3h-1.3zM131.0 65.5h1.3v1.3h-1.3zM144.0 65.5h1.3v1.3h-1.3zM146.0 65.5h1.3v1.3h-1.3zM148.0 65.5h1.3v1.3h-1.3zM149.0 65.5h1.3v1.3h-1.3zM155.0 65.5h1.3v1.3h-1.3zM125.0 66.5h1.3v1.3h-1.3zM134.0 66.5h1.3v1.3h-1.3zM135.0 66.5h1.3v1.3h-1.3zM136.0 66.5h1.3v1.3h-1.3zM139.0 66.5h1.3v1.3h-1.3zM142.0 66.5h1.3v1.3h-1.3zM146.0 66.5h1.3v1.3h-1.3zM148.0 66.5h1.3v1.3h-1.3zM125.0 67.5h1.3v1.3h-1.3zM126.0 67.5h1.3v1.3h-1.3zM128.0 67.5h1.3v1.3h-1.3zM129.0 67.5h1.3v1.3h-1.3zM130.0 67.5h1.3v1.3h-1.3zM131.0 67.5h1.3v1.3h-1.3zM132.0 67.5h1.3v1.3h-1.3zM133.0 67.5h1.3v1.3h-1.3zM134.0 67.5h1.3v1.3h-1.3zM136.0 67.5h1.3v1.3h-1.3zM137.0 67.5h1.3v1.3h-1.3zM139.0 67.5h1.3v1.3h-1.3zM143.0 67.5h1.3v1.3h-1.3zM144.0 67.5h1.3v1.3h-1.3zM146.0 67.5h1.3v1.3h-1.3zM150.0 67.5h1.3v1.3h-1.3zM151.0 67.5h1.3v1.3h-1.3zM154.0 67.5h1.3v1.3h-1.3zM156.0 67.5h1.3v1.3h-1.3zM158.0 67.5h1.3v1.3h-1.3zM165.0 67.5h1.3v1.3h-1.3zM125.0 68.5h1.3v1.3h-1.3zM126.0 68.5h1.3v1.3h-1.3zM128.0 68.5h1.3v1.3h-1.3zM129.0 68.5h1.3v1.3h-1.3zM130.0 68.5h1.3v1.3h-1.3zM131.0 68.5h1.3v1.3h-1.3zM132.0 68.5h1.3v1.3h-1.3zM133.0 68.5h1.3v1.3h-1.3zM135.0 68.5h1.3v1.3h-1.3zM136.0 68.5h1.3v1.3h-1.3zM137.0 68.5h1.3v1.3h-1.3zM139.0 68.5h1.3v1.3h-1.3zM140.0 68.5h1.3v1.3h-1.3zM141.0 68.5h1.3v1.3h-1.3zM142.0 68.5h1.3v1.3h-1.3zM143.0 68.5h1.3v1.3h-1.3zM145.0 68.5h1.3v1.3h-1.3zM146.0 68.5h1.3v1.3h-1.3zM147.0 68.5h1.3v1.3h-1.3zM148.0 68.5h1.3v1.3h-1.3zM149.0 68.5h1.3v1.3h-1.3zM153.0 68.5h1.3v1.3h-1.3zM163.0 68.5h1.3v1.3h-1.3zM168.0 68.5h1.3v1.3h-1.3zM125.0 69.5h1.3v1.3h-1.3zM126.0 69.5h1.3v1.3h-1.3zM127.0 69.5h1.3v1.3h-1.3zM128.0 69.5h1.3v1.3h-1.3zM129.0 69.5h1.3v1.3h-1.3zM130.0 69.5h1.3v1.3h-1.3zM131.0 69.5h1.3v1.3h-1.3zM132.0 69.5h1.3v1.3h-1.3zM133.0 69.5h1.3v1.3h-1.3zM134.0 69.5h1.3v1.3h-1.3zM135.0 69.5h1.3v1.3h-1.3zM136.0 69.5h1.3v1.3h-1.3zM137.0 69.5h1.3v1.3h-1.3zM138.0 69.5h1.3v1.3h-1.3zM139.0 69.5h1.3v1.3h-1.3zM140.0 69.5h1.3v1.3h-1.3zM141.0 69.5h1.3v1.3h-1.3zM142.0 69.5h1.3v1.3h-1.3zM143.0 69.5h1.3v1.3h-1.3zM144.0 69.5h1.3v1.3h-1.3zM145.0 69.5h1.3v1.3h-1.3zM146.0 69.5h1.3v1.3h-1.3zM147.0 69.5h1.3v1.3h-1.3zM148.0 69.5h1.3v1.3h-1.3zM149.0 69.5h1.3v1.3h-1.3zM150.0 69.5h1.3v1.3h-1.3zM151.0 69.5h1.3v1.3h-1.3zM152.0 69.5h1.3v1.3h-1.3zM153.0 69.5h1.3v1.3h-1.3zM155.0 69.5h1.3v1.3h-1.3zM156.0 69.5h1.3v1.3h-1.3zM157.0 69.5h1.3v1.3h-1.3zM158.0 69.5h1.3v1.3h-1.3zM125.0 70.5h1.3v1.3h-1.3zM126.0 70.5h1.3v1.3h-1.3zM127.0 70.5h1.3v1.3h-1.3zM128.0 70.5h1.3v1.3h-1.3zM129.0 70.5h1.3v1.3h-1.3zM130.0 70.5h1.3v1.3h-1.3zM131.0 70.5h1.3v1.3h-1.3zM132.0 70.5h1.3v1.3h-1.3zM133.0 70.5h1.3v1.3h-1.3zM134.0 70.5h1.3v1.3h-1.3zM135.0 70.5h1.3v1.3h-1.3zM136.0 70.5h1.3v1.3h-1.3zM137.0 70.5h1.3v1.3h-1.3zM138.0 70.5h1.3v1.3h-1.3zM139.0 70.5h1.3v1.3h-1.3zM140.0 70.5h1.3v1.3h-1.3zM141.0 70.5h1.3v1.3h-1.3zM142.0 70.5h1.3v1.3h-1.3zM143.0 70.5h1.3v1.3h-1.3zM144.0 70.5h1.3v1.3h-1.3zM145.0 70.5h1.3v1.3h-1.3zM146.0 70.5h1.3v1.3h-1.3zM147.0 70.5h1.3v1.3h-1.3zM148.0 70.5h1.3v1.3h-1.3zM149.0 70.5h1.3v1.3h-1.3zM150.0 70.5h1.3v1.3h-1.3zM151.0 70.5h1.3v1.3h-1.3zM152.0 70.5h1.3v1.3h-1.3zM153.0 70.5h1.3v1.3h-1.3zM154.0 70.5h1.3v1.3h-1.3zM155.0 70.5h1.3v1.3h-1.3zM156.0 70.5h1.3v1.3h-1.3zM158.0 70.5h1.3v1.3h-1.3zM159.0 70.5h1.3v1.3h-1.3zM160.0 70.5h1.3v1.3h-1.3zM161.0 70.5h1.3v1.3h-1.3zM165.0 70.5h1.3v1.3h-1.3zM166.0 70.5h1.3v1.3h-1.3zM167.0 70.5h1.3v1.3h-1.3zM125.0 71.5h1.3v1.3h-1.3zM126.0 71.5h1.3v1.3h-1.3zM127.0 71.5h1.3v1.3h-1.3zM128.0 71.5h1.3v1.3h-1.3zM129.0 71.5h1.3v1.3h-1.3zM130.0 71.5h1.3v1.3h-1.3zM131.0 71.5h1.3v1.3h-1.3zM132.0 71.5h1.3v1.3h-1.3zM133.0 71.5h1.3v1.3h-1.3zM134.0 71.5h1.3v1.3h-1.3zM135.0 71.5h1.3v1.3h-1.3zM136.0 71.5h1.3v1.3h-1.3zM137.0 71.5h1.3v1.3h-1.3zM138.0 71.5h1.3v1.3h-1.3zM139.0 71.5h1.3v1.3h-1.3zM140.0 71.5h1.3v1.3h-1.3zM141.0 71.5h1.3v1.3h-1.3zM142.0 71.5h1.3v1.3h-1.3zM143.0 71.5h1.3v1.3h-1.3zM144.0 71.5h1.3v1.3h-1.3zM145.0 71.5h1.3v1.3h-1.3zM146.0 71.5h1.3v1.3h-1.3zM147.0 71.5h1.3v1.3h-1.3zM148.0 71.5h1.3v1.3h-1.3zM149.0 71.5h1.3v1.3h-1.3zM150.0 71.5h1.3v1.3h-1.3zM151.0 71.5h1.3v1.3h-1.3zM152.0 71.5h1.3v1.3h-1.3zM153.0 71.5h1.3v1.3h-1.3zM154.0 71.5h1.3v1.3h-1.3zM155.0 71.5h1.3v1.3h-1.3zM156.0 71.5h1.3v1.3h-1.3zM157.0 71.5h1.3v1.3h-1.3zM158.0 71.5h1.3v1.3h-1.3zM160.0 71.5h1.3v1.3h-1.3zM161.0 71.5h1.3v1.3h-1.3zM163.0 71.5h1.3v1.3h-1.3zM164.0 71.5h1.3v1.3h-1.3zM170.0 71.5h1.3v1.3h-1.3zM172.0 71.5h1.3v1.3h-1.3zM125.0 72.5h1.3v1.3h-1.3zM126.0 72.5h1.3v1.3h-1.3zM127.0 72.5h1.3v1.3h-1.3zM128.0 72.5h1.3v1.3h-1.3zM129.0 72.5h1.3v1.3h-1.3zM130.0 72.5h1.3v1.3h-1.3zM131.0 72.5h1.3v1.3h-1.3zM132.0 72.5h1.3v1.3h-1.3zM133.0 72.5h1.3v1.3h-1.3zM134.0 72.5h1.3v1.3h-1.3zM135.0 72.5h1.3v1.3h-1.3zM136.0 72.5h1.3v1.3h-1.3zM137.0 72.5h1.3v1.3h-1.3zM138.0 72.5h1.3v1.3h-1.3zM139.0 72.5h1.3v1.3h-1.3zM140.0 72.5h1.3v1.3h-1.3zM141.0 72.5h1.3v1.3h-1.3zM142.0 72.5h1.3v1.3h-1.3zM143.0 72.5h1.3v1.3h-1.3zM144.0 72.5h1.3v1.3h-1.3zM145.0 72.5h1.3v1.3h-1.3zM146.0 72.5h1.3v1.3h-1.3zM147.0 72.5h1.3v1.3h-1.3zM148.0 72.5h1.3v1.3h-1.3zM149.0 72.5h1.3v1.3h-1.3zM150.0 72.5h1.3v1.3h-1.3zM151.0 72.5h1.3v1.3h-1.3zM152.0 72.5h1.3v1.3h-1.3zM153.0 72.5h1.3v1.3h-1.3zM154.0 72.5h1.3v1.3h-1.3zM155.0 72.5h1.3v1.3h-1.3zM156.0 72.5h1.3v1.3h-1.3zM157.0 72.5h1.3v1.3h-1.3zM158.0 72.5h1.3v1.3h-1.3zM160.0 72.5h1.3v1.3h-1.3zM161.0 72.5h1.3v1.3h-1.3zM163.0 72.5h1.3v1.3h-1.3zM165.0 72.5h1.3v1.3h-1.3zM169.0 72.5h1.3v1.3h-1.3zM125.0 73.5h1.3v1.3h-1.3zM126.0 73.5h1.3v1.3h-1.3zM127.0 73.5h1.3v1.3h-1.3zM128.0 73.5h1.3v1.3h-1.3zM129.0 73.5h1.3v1.3h-1.3zM130.0 73.5h1.3v1.3h-1.3zM131.0 73.5h1.3v1.3h-1.3zM132.0 73.5h1.3v1.3h-1.3zM133.0 73.5h1.3v1.3h-1.3zM134.0 73.5h1.3v1.3h-1.3zM135.0 73.5h1.3v1.3h-1.3zM136.0 73.5h1.3v1.3h-1.3zM137.0 73.5h1.3v1.3h-1.3zM138.0 73.5h1.3v1.3h-1.3zM139.0 73.5h1.3v1.3h-1.3zM140.0 73.5h1.3v1.3h-1.3zM141.0 73.5h1.3v1.3h-1.3zM142.0 73.5h1.3v1.3h-1.3zM143.0 73.5h1.3v1.3h-1.3zM144.0 73.5h1.3v1.3h-1.3zM145.0 73.5h1.3v1.3h-1.3zM146.0 73.5h1.3v1.3h-1.3zM147.0 73.5h1.3v1.3h-1.3zM148.0 73.5h1.3v1.3h-1.3zM149.0 73.5h1.3v1.3h-1.3zM150.0 73.5h1.3v1.3h-1.3zM151.0 73.5h1.3v1.3h-1.3zM152.0 73.5h1.3v1.3h-1.3zM153.0 73.5h1.3v1.3h-1.3zM154.0 73.5h1.3v1.3h-1.3zM155.0 73.5h1.3v1.3h-1.3zM156.0 73.5h1.3v1.3h-1.3zM157.0 73.5h1.3v1.3h-1.3zM158.0 73.5h1.3v1.3h-1.3zM159.0 73.5h1.3v1.3h-1.3zM160.0 73.5h1.3v1.3h-1.3zM161.0 73.5h1.3v1.3h-1.3zM162.0 73.5h1.3v1.3h-1.3zM163.0 73.5h1.3v1.3h-1.3zM172.0 73.5h1.3v1.3h-1.3zM125.0 74.5h1.3v1.3h-1.3zM126.0 74.5h1.3v1.3h-1.3zM127.0 74.5h1.3v1.3h-1.3zM128.0 74.5h1.3v1.3h-1.3zM129.0 74.5h1.3v1.3h-1.3zM130.0 74.5h1.3v1.3h-1.3zM131.0 74.5h1.3v1.3h-1.3zM132.0 74.5h1.3v1.3h-1.3zM133.0 74.5h1.3v1.3h-1.3zM134.0 74.5h1.3v1.3h-1.3zM135.0 74.5h1.3v1.3h-1.3zM136.0 74.5h1.3v1.3h-1.3zM137.0 74.5h1.3v1.3h-1.3zM138.0 74.5h1.3v1.3h-1.3zM139.0 74.5h1.3v1.3h-1.3zM140.0 74.5h1.3v1.3h-1.3zM141.0 74.5h1.3v1.3h-1.3zM142.0 74.5h1.3v1.3h-1.3zM143.0 74.5h1.3v1.3h-1.3zM144.0 74.5h1.3v1.3h-1.3zM145.0 74.5h1.3v1.3h-1.3zM146.0 74.5h1.3v1.3h-1.3zM147.0 74.5h1.3v1.3h-1.3zM148.0 74.5h1.3v1.3h-1.3zM149.0 74.5h1.3v1.3h-1.3zM150.0 74.5h1.3v1.3h-1.3zM151.0 74.5h1.3v1.3h-1.3zM152.0 74.5h1.3v1.3h-1.3zM153.0 74.5h1.3v1.3h-1.3zM154.0 74.5h1.3v1.3h-1.3zM155.0 74.5h1.3v1.3h-1.3zM156.0 74.5h1.3v1.3h-1.3zM157.0 74.5h1.3v1.3h-1.3zM158.0 74.5h1.3v1.3h-1.3zM159.0 74.5h1.3v1.3h-1.3zM160.0 74.5h1.3v1.3h-1.3zM162.0 74.5h1.3v1.3h-1.3zM163.0 74.5h1.3v1.3h-1.3zM171.0 74.5h1.3v1.3h-1.3zM175.0 74.5h1.3v1.3h-1.3zM125.0 75.5h1.3v1.3h-1.3zM126.0 75.5h1.3v1.3h-1.3zM127.0 75.5h1.3v1.3h-1.3zM128.0 75.5h1.3v1.3h-1.3zM129.0 75.5h1.3v1.3h-1.3zM130.0 75.5h1.3v1.3h-1.3zM131.0 75.5h1.3v1.3h-1.3zM132.0 75.5h1.3v1.3h-1.3zM133.0 75.5h1.3v1.3h-1.3zM134.0 75.5h1.3v1.3h-1.3zM135.0 75.5h1.3v1.3h-1.3zM136.0 75.5h1.3v1.3h-1.3zM137.0 75.5h1.3v1.3h-1.3zM138.0 75.5h1.3v1.3h-1.3zM139.0 75.5h1.3v1.3h-1.3zM140.0 75.5h1.3v1.3h-1.3zM141.0 75.5h1.3v1.3h-1.3zM142.0 75.5h1.3v1.3h-1.3zM143.0 75.5h1.3v1.3h-1.3zM144.0 75.5h1.3v1.3h-1.3zM145.0 75.5h1.3v1.3h-1.3zM146.0 75.5h1.3v1.3h-1.3zM147.0 75.5h1.3v1.3h-1.3zM148.0 75.5h1.3v1.3h-1.3zM149.0 75.5h1.3v1.3h-1.3zM150.0 75.5h1.3v1.3h-1.3zM151.0 75.5h1.3v1.3h-1.3zM152.0 75.5h1.3v1.3h-1.3zM153.0 75.5h1.3v1.3h-1.3zM154.0 75.5h1.3v1.3h-1.3zM155.0 75.5h1.3v1.3h-1.3zM156.0 75.5h1.3v1.3h-1.3zM157.0 75.5h1.3v1.3h-1.3zM158.0 75.5h1.3v1.3h-1.3zM159.0 75.5h1.3v1.3h-1.3zM160.0 75.5h1.3v1.3h-1.3zM161.0 75.5h1.3v1.3h-1.3zM162.0 75.5h1.3v1.3h-1.3zM164.0 75.5h1.3v1.3h-1.3zM166.0 75.5h1.3v1.3h-1.3zM168.0 75.5h1.3v1.3h-1.3zM175.0 75.5h1.3v1.3h-1.3zM125.0 76.5h1.3v1.3h-1.3zM126.0 76.5h1.3v1.3h-1.3zM127.0 76.5h1.3v1.3h-1.3zM128.0 76.5h1.3v1.3h-1.3zM129.0 76.5h1.3v1.3h-1.3zM130.0 76.5h1.3v1.3h-1.3zM131.0 76.5h1.3v1.3h-1.3zM132.0 76.5h1.3v1.3h-1.3zM133.0 76.5h1.3v1.3h-1.3zM134.0 76.5h1.3v1.3h-1.3zM135.0 76.5h1.3v1.3h-1.3zM136.0 76.5h1.3v1.3h-1.3zM137.0 76.5h1.3v1.3h-1.3zM138.0 76.5h1.3v1.3h-1.3zM139.0 76.5h1.3v1.3h-1.3zM140.0 76.5h1.3v1.3h-1.3zM141.0 76.5h1.3v1.3h-1.3zM142.0 76.5h1.3v1.3h-1.3zM143.0 76.5h1.3v1.3h-1.3zM144.0 76.5h1.3v1.3h-1.3zM145.0 76.5h1.3v1.3h-1.3zM146.0 76.5h1.3v1.3h-1.3zM147.0 76.5h1.3v1.3h-1.3zM148.0 76.5h1.3v1.3h-1.3zM149.0 76.5h1.3v1.3h-1.3zM150.0 76.5h1.3v1.3h-1.3zM151.0 76.5h1.3v1.3h-1.3zM152.0 76.5h1.3v1.3h-1.3zM153.0 76.5h1.3v1.3h-1.3zM154.0 76.5h1.3v1.3h-1.3zM155.0 76.5h1.3v1.3h-1.3zM156.0 76.5h1.3v1.3h-1.3zM157.0 76.5h1.3v1.3h-1.3zM158.0 76.5h1.3v1.3h-1.3zM159.0 76.5h1.3v1.3h-1.3zM160.0 76.5h1.3v1.3h-1.3zM161.0 76.5h1.3v1.3h-1.3zM162.0 76.5h1.3v1.3h-1.3zM164.0 76.5h1.3v1.3h-1.3zM167.0 76.5h1.3v1.3h-1.3zM168.0 76.5h1.3v1.3h-1.3zM170.0 76.5h1.3v1.3h-1.3zM173.0 76.5h1.3v1.3h-1.3zM125.0 77.5h1.3v1.3h-1.3zM126.0 77.5h1.3v1.3h-1.3zM127.0 77.5h1.3v1.3h-1.3zM128.0 77.5h1.3v1.3h-1.3zM129.0 77.5h1.3v1.3h-1.3zM130.0 77.5h1.3v1.3h-1.3zM131.0 77.5h1.3v1.3h-1.3zM132.0 77.5h1.3v1.3h-1.3zM133.0 77.5h1.3v1.3h-1.3zM134.0 77.5h1.3v1.3h-1.3zM135.0 77.5h1.3v1.3h-1.3zM136.0 77.5h1.3v1.3h-1.3zM137.0 77.5h1.3v1.3h-1.3zM138.0 77.5h1.3v1.3h-1.3zM139.0 77.5h1.3v1.3h-1.3zM140.0 77.5h1.3v1.3h-1.3zM141.0 77.5h1.3v1.3h-1.3zM142.0 77.5h1.3v1.3h-1.3zM143.0 77.5h1.3v1.3h-1.3zM144.0 77.5h1.3v1.3h-1.3zM145.0 77.5h1.3v1.3h-1.3zM146.0 77.5h1.3v1.3h-1.3zM147.0 77.5h1.3v1.3h-1.3zM148.0 77.5h1.3v1.3h-1.3zM149.0 77.5h1.3v1.3h-1.3zM150.0 77.5h1.3v1.3h-1.3zM151.0 77.5h1.3v1.3h-1.3zM152.0 77.5h1.3v1.3h-1.3zM153.0 77.5h1.3v1.3h-1.3zM154.0 77.5h1.3v1.3h-1.3zM155.0 77.5h1.3v1.3h-1.3zM156.0 77.5h1.3v1.3h-1.3zM157.0 77.5h1.3v1.3h-1.3zM158.0 77.5h1.3v1.3h-1.3zM159.0 77.5h1.3v1.3h-1.3zM160.0 77.5h1.3v1.3h-1.3zM161.0 77.5h1.3v1.3h-1.3zM162.0 77.5h1.3v1.3h-1.3zM163.0 77.5h1.3v1.3h-1.3zM164.0 77.5h1.3v1.3h-1.3zM165.0 77.5h1.3v1.3h-1.3zM169.0 77.5h1.3v1.3h-1.3zM125.0 78.5h1.3v1.3h-1.3zM126.0 78.5h1.3v1.3h-1.3zM127.0 78.5h1.3v1.3h-1.3zM128.0 78.5h1.3v1.3h-1.3zM129.0 78.5h1.3v1.3h-1.3zM130.0 78.5h1.3v1.3h-1.3zM131.0 78.5h1.3v1.3h-1.3zM132.0 78.5h1.3v1.3h-1.3zM133.0 78.5h1.3v1.3h-1.3zM134.0 78.5h1.3v1.3h-1.3zM135.0 78.5h1.3v1.3h-1.3zM136.0 78.5h1.3v1.3h-1.3zM137.0 78.5h1.3v1.3h-1.3zM138.0 78.5h1.3v1.3h-1.3zM139.0 78.5h1.3v1.3h-1.3zM140.0 78.5h1.3v1.3h-1.3zM141.0 78.5h1.3v1.3h-1.3zM142.0 78.5h1.3v1.3h-1.3zM143.0 78.5h1.3v1.3h-1.3zM144.0 78.5h1.3v1.3h-1.3zM145.0 78.5h1.3v1.3h-1.3zM146.0 78.5h1.3v1.3h-1.3zM147.0 78.5h1.3v1.3h-1.3zM148.0 78.5h1.3v1.3h-1.3zM149.0 78.5h1.3v1.3h-1.3zM150.0 78.5h1.3v1.3h-1.3zM151.0 78.5h1.3v1.3h-1.3zM152.0 78.5h1.3v1.3h-1.3zM153.0 78.5h1.3v1.3h-1.3zM154.0 78.5h1.3v1.3h-1.3zM155.0 78.5h1.3v1.3h-1.3zM156.0 78.5h1.3v1.3h-1.3zM157.0 78.5h1.3v1.3h-1.3zM158.0 78.5h1.3v1.3h-1.3zM159.0 78.5h1.3v1.3h-1.3zM160.0 78.5h1.3v1.3h-1.3zM161.0 78.5h1.3v1.3h-1.3zM162.0 78.5h1.3v1.3h-1.3zM163.0 78.5h1.3v1.3h-1.3zM164.0 78.5h1.3v1.3h-1.3zM165.0 78.5h1.3v1.3h-1.3zM167.0 78.5h1.3v1.3h-1.3zM125.0 79.5h1.3v1.3h-1.3zM126.0 79.5h1.3v1.3h-1.3zM127.0 79.5h1.3v1.3h-1.3zM128.0 79.5h1.3v1.3h-1.3zM129.0 79.5h1.3v1.3h-1.3zM130.0 79.5h1.3v1.3h-1.3zM131.0 79.5h1.3v1.3h-1.3zM132.0 79.5h1.3v1.3h-1.3zM133.0 79.5h1.3v1.3h-1.3zM134.0 79.5h1.3v1.3h-1.3zM135.0 79.5h1.3v1.3h-1.3zM136.0 79.5h1.3v1.3h-1.3zM137.0 79.5h1.3v1.3h-1.3zM138.0 79.5h1.3v1.3h-1.3zM139.0 79.5h1.3v1.3h-1.3zM140.0 79.5h1.3v1.3h-1.3zM141.0 79.5h1.3v1.3h-1.3zM142.0 79.5h1.3v1.3h-1.3zM143.0 79.5h1.3v1.3h-1.3zM144.0 79.5h1.3v1.3h-1.3zM145.0 79.5h1.3v1.3h-1.3zM146.0 79.5h1.3v1.3h-1.3zM147.0 79.5h1.3v1.3h-1.3zM148.0 79.5h1.3v1.3h-1.3zM149.0 79.5h1.3v1.3h-1.3zM150.0 79.5h1.3v1.3h-1.3zM151.0 79.5h1.3v1.3h-1.3zM152.0 79.5h1.3v1.3h-1.3zM153.0 79.5h1.3v1.3h-1.3zM154.0 79.5h1.3v1.3h-1.3zM155.0 79.5h1.3v1.3h-1.3zM156.0 79.5h1.3v1.3h-1.3zM157.0 79.5h1.3v1.3h-1.3zM158.0 79.5h1.3v1.3h-1.3zM159.0 79.5h1.3v1.3h-1.3zM160.0 79.5h1.3v1.3h-1.3zM161.0 79.5h1.3v1.3h-1.3zM164.0 79.5h1.3v1.3h-1.3zM165.0 79.5h1.3v1.3h-1.3zM168.0 79.5h1.3v1.3h-1.3zM125.0 80.5h1.3v1.3h-1.3zM126.0 80.5h1.3v1.3h-1.3zM127.0 80.5h1.3v1.3h-1.3zM128.0 80.5h1.3v1.3h-1.3zM129.0 80.5h1.3v1.3h-1.3zM130.0 80.5h1.3v1.3h-1.3zM131.0 80.5h1.3v1.3h-1.3zM132.0 80.5h1.3v1.3h-1.3zM133.0 80.5h1.3v1.3h-1.3zM134.0 80.5h1.3v1.3h-1.3zM135.0 80.5h1.3v1.3h-1.3zM136.0 80.5h1.3v1.3h-1.3zM137.0 80.5h1.3v1.3h-1.3zM138.0 80.5h1.3v1.3h-1.3zM139.0 80.5h1.3v1.3h-1.3zM140.0 80.5h1.3v1.3h-1.3zM141.0 80.5h1.3v1.3h-1.3zM142.0 80.5h1.3v1.3h-1.3zM143.0 80.5h1.3v1.3h-1.3zM144.0 80.5h1.3v1.3h-1.3zM145.0 80.5h1.3v1.3h-1.3zM146.0 80.5h1.3v1.3h-1.3zM147.0 80.5h1.3v1.3h-1.3zM148.0 80.5h1.3v1.3h-1.3zM149.0 80.5h1.3v1.3h-1.3zM150.0 80.5h1.3v1.3h-1.3zM151.0 80.5h1.3v1.3h-1.3zM152.0 80.5h1.3v1.3h-1.3zM153.0 80.5h1.3v1.3h-1.3zM154.0 80.5h1.3v1.3h-1.3zM155.0 80.5h1.3v1.3h-1.3zM156.0 80.5h1.3v1.3h-1.3zM157.0 80.5h1.3v1.3h-1.3zM158.0 80.5h1.3v1.3h-1.3zM159.0 80.5h1.3v1.3h-1.3zM160.0 80.5h1.3v1.3h-1.3zM161.0 80.5h1.3v1.3h-1.3zM162.0 80.5h1.3v1.3h-1.3zM163.0 80.5h1.3v1.3h-1.3zM164.0 80.5h1.3v1.3h-1.3zM165.0 80.5h1.3v1.3h-1.3zM166.0 80.5h1.3v1.3h-1.3zM168.0 80.5h1.3v1.3h-1.3zM125.0 81.5h1.3v1.3h-1.3zM126.0 81.5h1.3v1.3h-1.3zM127.0 81.5h1.3v1.3h-1.3zM128.0 81.5h1.3v1.3h-1.3zM129.0 81.5h1.3v1.3h-1.3zM130.0 81.5h1.3v1.3h-1.3zM131.0 81.5h1.3v1.3h-1.3zM132.0 81.5h1.3v1.3h-1.3zM133.0 81.5h1.3v1.3h-1.3zM134.0 81.5h1.3v1.3h-1.3zM135.0 81.5h1.3v1.3h-1.3zM136.0 81.5h1.3v1.3h-1.3zM137.0 81.5h1.3v1.3h-1.3zM138.0 81.5h1.3v1.3h-1.3zM139.0 81.5h1.3v1.3h-1.3zM140.0 81.5h1.3v1.3h-1.3zM141.0 81.5h1.3v1.3h-1.3zM142.0 81.5h1.3v1.3h-1.3zM143.0 81.5h1.3v1.3h-1.3zM144.0 81.5h1.3v1.3h-1.3zM145.0 81.5h1.3v1.3h-1.3zM146.0 81.5h1.3v1.3h-1.3zM147.0 81.5h1.3v1.3h-1.3zM148.0 81.5h1.3v1.3h-1.3zM149.0 81.5h1.3v1.3h-1.3zM150.0 81.5h1.3v1.3h-1.3zM151.0 81.5h1.3v1.3h-1.3zM152.0 81.5h1.3v1.3h-1.3zM153.0 81.5h1.3v1.3h-1.3zM154.0 81.5h1.3v1.3h-1.3zM155.0 81.5h1.3v1.3h-1.3zM156.0 81.5h1.3v1.3h-1.3zM157.0 81.5h1.3v1.3h-1.3zM158.0 81.5h1.3v1.3h-1.3zM159.0 81.5h1.3v1.3h-1.3zM160.0 81.5h1.3v1.3h-1.3zM161.0 81.5h1.3v1.3h-1.3zM162.0 81.5h1.3v1.3h-1.3zM163.0 81.5h1.3v1.3h-1.3zM165.0 81.5h1.3v1.3h-1.3zM170.0 81.5h1.3v1.3h-1.3zM173.0 81.5h1.3v1.3h-1.3zM125.0 82.5h1.3v1.3h-1.3zM126.0 82.5h1.3v1.3h-1.3zM127.0 82.5h1.3v1.3h-1.3zM128.0 82.5h1.3v1.3h-1.3zM129.0 82.5h1.3v1.3h-1.3zM130.0 82.5h1.3v1.3h-1.3zM131.0 82.5h1.3v1.3h-1.3zM132.0 82.5h1.3v1.3h-1.3zM133.0 82.5h1.3v1.3h-1.3zM134.0 82.5h1.3v1.3h-1.3zM135.0 82.5h1.3v1.3h-1.3zM136.0 82.5h1.3v1.3h-1.3zM137.0 82.5h1.3v1.3h-1.3zM138.0 82.5h1.3v1.3h-1.3zM139.0 82.5h1.3v1.3h-1.3zM140.0 82.5h1.3v1.3h-1.3zM141.0 82.5h1.3v1.3h-1.3zM142.0 82.5h1.3v1.3h-1.3zM143.0 82.5h1.3v1.3h-1.3zM144.0 82.5h1.3v1.3h-1.3zM145.0 82.5h1.3v1.3h-1.3zM146.0 82.5h1.3v1.3h-1.3zM147.0 82.5h1.3v1.3h-1.3zM148.0 82.5h1.3v1.3h-1.3zM149.0 82.5h1.3v1.3h-1.3zM150.0 82.5h1.3v1.3h-1.3zM151.0 82.5h1.3v1.3h-1.3zM152.0 82.5h1.3v1.3h-1.3zM153.0 82.5h1.3v1.3h-1.3zM154.0 82.5h1.3v1.3h-1.3zM155.0 82.5h1.3v1.3h-1.3zM156.0 82.5h1.3v1.3h-1.3zM157.0 82.5h1.3v1.3h-1.3zM158.0 82.5h1.3v1.3h-1.3zM159.0 82.5h1.3v1.3h-1.3zM160.0 82.5h1.3v1.3h-1.3zM161.0 82.5h1.3v1.3h-1.3zM162.0 82.5h1.3v1.3h-1.3zM171.0 82.5h1.3v1.3h-1.3zM173.0 82.5h1.3v1.3h-1.3zM174.0 82.5h1.3v1.3h-1.3zM125.0 83.5h1.3v1.3h-1.3zM126.0 83.5h1.3v1.3h-1.3zM127.0 83.5h1.3v1.3h-1.3zM128.0 83.5h1.3v1.3h-1.3zM129.0 83.5h1.3v1.3h-1.3zM130.0 83.5h1.3v1.3h-1.3zM131.0 83.5h1.3v1.3h-1.3zM132.0 83.5h1.3v1.3h-1.3zM133.0 83.5h1.3v1.3h-1.3zM134.0 83.5h1.3v1.3h-1.3zM135.0 83.5h1.3v1.3h-1.3zM136.0 83.5h1.3v1.3h-1.3zM137.0 83.5h1.3v1.3h-1.3zM138.0 83.5h1.3v1.3h-1.3zM139.0 83.5h1.3v1.3h-1.3zM140.0 83.5h1.3v1.3h-1.3zM141.0 83.5h1.3v1.3h-1.3zM142.0 83.5h1.3v1.3h-1.3zM143.0 83.5h1.3v1.3h-1.3zM144.0 83.5h1.3v1.3h-1.3zM145.0 83.5h1.3v1.3h-1.3zM146.0 83.5h1.3v1.3h-1.3zM147.0 83.5h1.3v1.3h-1.3zM148.0 83.5h1.3v1.3h-1.3zM149.0 83.5h1.3v1.3h-1.3zM150.0 83.5h1.3v1.3h-1.3zM151.0 83.5h1.3v1.3h-1.3zM152.0 83.5h1.3v1.3h-1.3zM153.0 83.5h1.3v1.3h-1.3zM154.0 83.5h1.3v1.3h-1.3zM155.0 83.5h1.3v1.3h-1.3zM156.0 83.5h1.3v1.3h-1.3zM157.0 83.5h1.3v1.3h-1.3zM158.0 83.5h1.3v1.3h-1.3zM159.0 83.5h1.3v1.3h-1.3zM160.0 83.5h1.3v1.3h-1.3zM161.0 83.5h1.3v1.3h-1.3zM162.0 83.5h1.3v1.3h-1.3zM163.0 83.5h1.3v1.3h-1.3zM167.0 83.5h1.3v1.3h-1.3zM169.0 83.5h1.3v1.3h-1.3zM171.0 83.5h1.3v1.3h-1.3zM125.0 84.5h1.3v1.3h-1.3zM126.0 84.5h1.3v1.3h-1.3zM127.0 84.5h1.3v1.3h-1.3zM128.0 84.5h1.3v1.3h-1.3zM129.0 84.5h1.3v1.3h-1.3zM130.0 84.5h1.3v1.3h-1.3zM131.0 84.5h1.3v1.3h-1.3zM132.0 84.5h1.3v1.3h-1.3zM133.0 84.5h1.3v1.3h-1.3zM134.0 84.5h1.3v1.3h-1.3zM135.0 84.5h1.3v1.3h-1.3zM136.0 84.5h1.3v1.3h-1.3zM137.0 84.5h1.3v1.3h-1.3zM138.0 84.5h1.3v1.3h-1.3zM139.0 84.5h1.3v1.3h-1.3zM140.0 84.5h1.3v1.3h-1.3zM141.0 84.5h1.3v1.3h-1.3zM142.0 84.5h1.3v1.3h-1.3zM143.0 84.5h1.3v1.3h-1.3zM144.0 84.5h1.3v1.3h-1.3zM145.0 84.5h1.3v1.3h-1.3zM146.0 84.5h1.3v1.3h-1.3zM147.0 84.5h1.3v1.3h-1.3zM148.0 84.5h1.3v1.3h-1.3zM149.0 84.5h1.3v1.3h-1.3zM150.0 84.5h1.3v1.3h-1.3zM151.0 84.5h1.3v1.3h-1.3zM152.0 84.5h1.3v1.3h-1.3zM153.0 84.5h1.3v1.3h-1.3zM154.0 84.5h1.3v1.3h-1.3zM155.0 84.5h1.3v1.3h-1.3zM156.0 84.5h1.3v1.3h-1.3zM158.0 84.5h1.3v1.3h-1.3zM160.0 84.5h1.3v1.3h-1.3zM161.0 84.5h1.3v1.3h-1.3zM163.0 84.5h1.3v1.3h-1.3zM164.0 84.5h1.3v1.3h-1.3zM169.0 84.5h1.3v1.3h-1.3zM125.0 85.5h1.3v1.3h-1.3zM126.0 85.5h1.3v1.3h-1.3zM127.0 85.5h1.3v1.3h-1.3zM128.0 85.5h1.3v1.3h-1.3zM129.0 85.5h1.3v1.3h-1.3zM130.0 85.5h1.3v1.3h-1.3zM131.0 85.5h1.3v1.3h-1.3zM132.0 85.5h1.3v1.3h-1.3zM133.0 85.5h1.3v1.3h-1.3zM134.0 85.5h1.3v1.3h-1.3zM135.0 85.5h1.3v1.3h-1.3zM136.0 85.5h1.3v1.3h-1.3zM137.0 85.5h1.3v1.3h-1.3zM138.0 85.5h1.3v1.3h-1.3zM139.0 85.5h1.3v1.3h-1.3zM140.0 85.5h1.3v1.3h-1.3zM141.0 85.5h1.3v1.3h-1.3zM142.0 85.5h1.3v1.3h-1.3zM143.0 85.5h1.3v1.3h-1.3zM144.0 85.5h1.3v1.3h-1.3zM145.0 85.5h1.3v1.3h-1.3zM146.0 85.5h1.3v1.3h-1.3zM147.0 85.5h1.3v1.3h-1.3zM148.0 85.5h1.3v1.3h-1.3zM149.0 85.5h1.3v1.3h-1.3zM150.0 85.5h1.3v1.3h-1.3zM151.0 85.5h1.3v1.3h-1.3zM152.0 85.5h1.3v1.3h-1.3zM153.0 85.5h1.3v1.3h-1.3zM154.0 85.5h1.3v1.3h-1.3zM155.0 85.5h1.3v1.3h-1.3zM156.0 85.5h1.3v1.3h-1.3zM161.0 85.5h1.3v1.3h-1.3zM174.0 85.5h1.3v1.3h-1.3zM125.0 86.5h1.3v1.3h-1.3zM126.0 86.5h1.3v1.3h-1.3zM127.0 86.5h1.3v1.3h-1.3zM128.0 86.5h1.3v1.3h-1.3zM129.0 86.5h1.3v1.3h-1.3zM130.0 86.5h1.3v1.3h-1.3zM131.0 86.5h1.3v1.3h-1.3zM132.0 86.5h1.3v1.3h-1.3zM133.0 86.5h1.3v1.3h-1.3zM134.0 86.5h1.3v1.3h-1.3zM135.0 86.5h1.3v1.3h-1.3zM136.0 86.5h1.3v1.3h-1.3zM137.0 86.5h1.3v1.3h-1.3zM138.0 86.5h1.3v1.3h-1.3zM139.0 86.5h1.3v1.3h-1.3zM140.0 86.5h1.3v1.3h-1.3zM141.0 86.5h1.3v1.3h-1.3zM142.0 86.5h1.3v1.3h-1.3zM143.0 86.5h1.3v1.3h-1.3zM144.0 86.5h1.3v1.3h-1.3zM145.0 86.5h1.3v1.3h-1.3zM146.0 86.5h1.3v1.3h-1.3zM147.0 86.5h1.3v1.3h-1.3zM148.0 86.5h1.3v1.3h-1.3zM149.0 86.5h1.3v1.3h-1.3zM150.0 86.5h1.3v1.3h-1.3zM151.0 86.5h1.3v1.3h-1.3zM152.0 86.5h1.3v1.3h-1.3zM154.0 86.5h1.3v1.3h-1.3zM155.0 86.5h1.3v1.3h-1.3zM157.0 86.5h1.3v1.3h-1.3zM159.0 86.5h1.3v1.3h-1.3zM162.0 86.5h1.3v1.3h-1.3zM125.0 87.5h1.3v1.3h-1.3zM126.0 87.5h1.3v1.3h-1.3zM127.0 87.5h1.3v1.3h-1.3zM128.0 87.5h1.3v1.3h-1.3zM129.0 87.5h1.3v1.3h-1.3zM130.0 87.5h1.3v1.3h-1.3zM131.0 87.5h1.3v1.3h-1.3zM132.0 87.5h1.3v1.3h-1.3zM133.0 87.5h1.3v1.3h-1.3zM136.0 87.5h1.3v1.3h-1.3zM137.0 87.5h1.3v1.3h-1.3zM138.0 87.5h1.3v1.3h-1.3zM140.0 87.5h1.3v1.3h-1.3zM141.0 87.5h1.3v1.3h-1.3zM143.0 87.5h1.3v1.3h-1.3zM145.0 87.5h1.3v1.3h-1.3zM146.0 87.5h1.3v1.3h-1.3zM147.0 87.5h1.3v1.3h-1.3zM151.0 87.5h1.3v1.3h-1.3zM153.0 87.5h1.3v1.3h-1.3zM154.0 87.5h1.3v1.3h-1.3zM159.0 87.5h1.3v1.3h-1.3zM160.0 87.5h1.3v1.3h-1.3zM164.0 87.5h1.3v1.3h-1.3zM165.0 87.5h1.3v1.3h-1.3zM129.0 88.5h1.3v1.3h-1.3zM132.0 88.5h1.3v1.3h-1.3zM134.0 88.5h1.3v1.3h-1.3zM135.0 88.5h1.3v1.3h-1.3zM136.0 88.5h1.3v1.3h-1.3zM139.0 88.5h1.3v1.3h-1.3zM140.0 88.5h1.3v1.3h-1.3zM143.0 88.5h1.3v1.3h-1.3zM145.0 88.5h1.3v1.3h-1.3zM146.0 88.5h1.3v1.3h-1.3zM147.0 88.5h1.3v1.3h-1.3zM148.0 88.5h1.3v1.3h-1.3zM150.0 88.5h1.3v1.3h-1.3zM151.0 88.5h1.3v1.3h-1.3zM152.0 88.5h1.3v1.3h-1.3zM153.0 88.5h1.3v1.3h-1.3zM154.0 88.5h1.3v1.3h-1.3zM155.0 88.5h1.3v1.3h-1.3zM157.0 88.5h1.3v1.3h-1.3zM125.0 89.5h1.3v1.3h-1.3zM127.0 89.5h1.3v1.3h-1.3zM128.0 89.5h1.3v1.3h-1.3zM131.0 89.5h1.3v1.3h-1.3zM134.0 89.5h1.3v1.3h-1.3zM135.0 89.5h1.3v1.3h-1.3zM136.0 89.5h1.3v1.3h-1.3zM141.0 89.5h1.3v1.3h-1.3zM142.0 89.5h1.3v1.3h-1.3zM147.0 89.5h1.3v1.3h-1.3zM151.0 89.5h1.3v1.3h-1.3zM152.0 89.5h1.3v1.3h-1.3zM155.0 89.5h1.3v1.3h-1.3zM125.0 90.5h1.3v1.3h-1.3zM127.0 90.5h1.3v1.3h-1.3zM129.0 90.5h1.3v1.3h-1.3zM130.0 90.5h1.3v1.3h-1.3zM131.0 90.5h1.3v1.3h-1.3zM133.0 90.5h1.3v1.3h-1.3zM134.0 90.5h1.3v1.3h-1.3zM135.0 90.5h1.3v1.3h-1.3zM136.0 90.5h1.3v1.3h-1.3zM143.0 90.5h1.3v1.3h-1.3zM146.0 90.5h1.3v1.3h-1.3zM150.0 90.5h1.3v1.3h-1.3zM155.0 90.5h1.3v1.3h-1.3zM156.0 90.5h1.3v1.3h-1.3zM157.0 90.5h1.3v1.3h-1.3zM158.0 90.5h1.3v1.3h-1.3zM125.0 91.5h1.3v1.3h-1.3zM126.0 91.5h1.3v1.3h-1.3zM127.0 91.5h1.3v1.3h-1.3zM129.0 91.5h1.3v1.3h-1.3zM130.0 91.5h1.3v1.3h-1.3zM132.0 91.5h1.3v1.3h-1.3zM133.0 91.5h1.3v1.3h-1.3zM136.0 91.5h1.3v1.3h-1.3zM139.0 91.5h1.3v1.3h-1.3zM140.0 91.5h1.3v1.3h-1.3zM145.0 91.5h1.3v1.3h-1.3zM146.0 91.5h1.3v1.3h-1.3zM149.0 91.5h1.3v1.3h-1.3zM153.0 91.5h1.3v1.3h-1.3zM125.0 92.5h1.3v1.3h-1.3zM127.0 92.5h1.3v1.3h-1.3zM128.0 92.5h1.3v1.3h-1.3zM130.0 92.5h1.3v1.3h-1.3zM133.0 92.5h1.3v1.3h-1.3zM138.0 92.5h1.3v1.3h-1.3zM140.0 92.5h1.3v1.3h-1.3zM142.0 92.5h1.3v1.3h-1.3zM143.0 92.5h1.3v1.3h-1.3zM144.0 92.5h1.3v1.3h-1.3zM148.0 92.5h1.3v1.3h-1.3zM151.0 92.5h1.3v1.3h-1.3zM126.0 93.5h1.3v1.3h-1.3zM128.0 93.5h1.3v1.3h-1.3zM129.0 93.5h1.3v1.3h-1.3zM131.0 93.5h1.3v1.3h-1.3zM132.0 93.5h1.3v1.3h-1.3zM133.0 93.5h1.3v1.3h-1.3zM136.0 93.5h1.3v1.3h-1.3zM137.0 93.5h1.3v1.3h-1.3zM138.0 93.5h1.3v1.3h-1.3zM141.0 93.5h1.3v1.3h-1.3zM143.0 93.5h1.3v1.3h-1.3zM144.0 93.5h1.3v1.3h-1.3zM146.0 93.5h1.3v1.3h-1.3zM147.0 93.5h1.3v1.3h-1.3zM150.0 93.5h1.3v1.3h-1.3zM125.0 94.5h1.3v1.3h-1.3zM126.0 94.5h1.3v1.3h-1.3zM127.0 94.5h1.3v1.3h-1.3zM128.0 94.5h1.3v1.3h-1.3zM129.0 94.5h1.3v1.3h-1.3zM130.0 94.5h1.3v1.3h-1.3zM131.0 94.5h1.3v1.3h-1.3zM132.0 94.5h1.3v1.3h-1.3zM133.0 94.5h1.3v1.3h-1.3zM136.0 94.5h1.3v1.3h-1.3zM138.0 94.5h1.3v1.3h-1.3zM141.0 94.5h1.3v1.3h-1.3zM144.0 94.5h1.3v1.3h-1.3zM146.0 94.5h1.3v1.3h-1.3zM147.0 94.5h1.3v1.3h-1.3zM148.0 94.5h1.3v1.3h-1.3zM149.0 94.5h1.3v1.3h-1.3zM150.0 94.5h1.3v1.3h-1.3zM168.0 94.5h1.3v1.3h-1.3zM128.0 95.5h1.3v1.3h-1.3zM129.0 95.5h1.3v1.3h-1.3zM130.0 95.5h1.3v1.3h-1.3zM132.0 95.5h1.3v1.3h-1.3zM134.0 95.5h1.3v1.3h-1.3zM135.0 95.5h1.3v1.3h-1.3zM139.0 95.5h1.3v1.3h-1.3zM140.0 95.5h1.3v1.3h-1.3zM141.0 95.5h1.3v1.3h-1.3zM143.0 95.5h1.3v1.3h-1.3zM145.0 95.5h1.3v1.3h-1.3zM148.0 95.5h1.3v1.3h-1.3zM152.0 95.5h1.3v1.3h-1.3zM155.0 95.5h1.3v1.3h-1.3zM125.0 96.5h1.3v1.3h-1.3zM126.0 96.5h1.3v1.3h-1.3zM128.0 96.5h1.3v1.3h-1.3zM129.0 96.5h1.3v1.3h-1.3zM130.0 96.5h1.3v1.3h-1.3zM131.0 96.5h1.3v1.3h-1.3zM132.0 96.5h1.3v1.3h-1.3zM133.0 96.5h1.3v1.3h-1.3zM134.0 96.5h1.3v1.3h-1.3zM136.0 96.5h1.3v1.3h-1.3zM138.0 96.5h1.3v1.3h-1.3zM139.0 96.5h1.3v1.3h-1.3zM140.0 96.5h1.3v1.3h-1.3zM141.0 96.5h1.3v1.3h-1.3zM142.0 96.5h1.3v1.3h-1.3zM144.0 96.5h1.3v1.3h-1.3zM151.0 96.5h1.3v1.3h-1.3zM152.0 96.5h1.3v1.3h-1.3zM153.0 96.5h1.3v1.3h-1.3zM155.0 96.5h1.3v1.3h-1.3zM125.0 97.5h1.3v1.3h-1.3zM126.0 97.5h1.3v1.3h-1.3zM129.0 97.5h1.3v1.3h-1.3zM130.0 97.5h1.3v1.3h-1.3zM132.0 97.5h1.3v1.3h-1.3zM134.0 97.5h1.3v1.3h-1.3zM136.0 97.5h1.3v1.3h-1.3zM137.0 97.5h1.3v1.3h-1.3zM138.0 97.5h1.3v1.3h-1.3zM139.0 97.5h1.3v1.3h-1.3zM140.0 97.5h1.3v1.3h-1.3zM143.0 97.5h1.3v1.3h-1.3zM144.0 97.5h1.3v1.3h-1.3zM146.0 97.5h1.3v1.3h-1.3zM150.0 97.5h1.3v1.3h-1.3zM151.0 97.5h1.3v1.3h-1.3zM155.0 97.5h1.3v1.3h-1.3zM125.0 98.5h1.3v1.3h-1.3zM126.0 98.5h1.3v1.3h-1.3zM129.0 98.5h1.3v1.3h-1.3zM131.0 98.5h1.3v1.3h-1.3zM133.0 98.5h1.3v1.3h-1.3zM135.0 98.5h1.3v1.3h-1.3zM136.0 98.5h1.3v1.3h-1.3zM137.0 98.5h1.3v1.3h-1.3zM141.0 98.5h1.3v1.3h-1.3zM144.0 98.5h1.3v1.3h-1.3zM147.0 98.5h1.3v1.3h-1.3zM148.0 98.5h1.3v1.3h-1.3zM129.0 99.5h1.3v1.3h-1.3zM132.0 99.5h1.3v1.3h-1.3zM133.0 99.5h1.3v1.3h-1.3zM139.0 99.5h1.3v1.3h-1.3zM142.0 99.5h1.3v1.3h-1.3zM146.0 99.5h1.3v1.3h-1.3zM147.0 99.5h1.3v1.3h-1.3zM154.0 99.5h1.3v1.3h-1.3zM156.0 99.5h1.3v1.3h-1.3zM127.0 100.5h1.3v1.3h-1.3zM128.0 100.5h1.3v1.3h-1.3zM129.0 100.5h1.3v1.3h-1.3zM136.0 100.5h1.3v1.3h-1.3zM139.0 100.5h1.3v1.3h-1.3zM145.0 100.5h1.3v1.3h-1.3zM148.0 100.5h1.3v1.3h-1.3zM155.0 100.5h1.3v1.3h-1.3zM125.0 101.5h1.3v1.3h-1.3zM132.0 101.5h1.3v1.3h-1.3zM139.0 101.5h1.3v1.3h-1.3zM156.0 101.5h1.3v1.3h-1.3zM126.0 102.5h1.3v1.3h-1.3zM151.0 102.5h1.3v1.3h-1.3zM153.7 89.2h1.5v1.5h-1.5zM166.4 80.4h1.5v1.5h-1.5zM168.7 71.1h1.5v1.5h-1.5zM162.7 90.8h1.5v1.5h-1.5zM164.1 93.9h1.5v1.5h-1.5zM173.2 78.3h1.5v1.5h-1.5zM167.0 72.1h1.5v1.5h-1.5zM162.6 82.4h1.5v1.5h-1.5zM164.0 91.1h1.5v1.5h-1.5zM168.0 90.8h1.5v1.5h-1.5zM160.0 71.6h1.5v1.5h-1.5zM163.0 76.5h1.5v1.5h-1.5zM155.3 78.6h1.5v1.5h-1.5zM171.6 82.9h1.5v1.5h-1.5zM175.1 81.0h1.5v1.5h-1.5zM164.9 82.2h1.5v1.5h-1.5zM160.1 90.0h1.5v1.5h-1.5zM165.0 76.7h1.5v1.5h-1.5zM161.5 73.9h1.5v1.5h-1.5zM158.2 86.9h1.5v1.5h-1.5zM164.6 84.8h1.5v1.5h-1.5zM163.7 71.8h1.5v1.5h-1.5zM164.1 92.8h1.5v1.5h-1.5zM167.7 73.1h1.5v1.5h-1.5zM157.4 85.7h1.5v1.5h-1.5zM171.3 86.5h1.5v1.5h-1.5zM171.4 74.5h1.5v1.5h-1.5zM166.0 95.1h1.5v1.5h-1.5zM155.2 93.3h1.5v1.5h-1.5zM157.1 79.7h1.5v1.5h-1.5zM150.9 70.8h1.5v1.5h-1.5zM157.9 67.6h1.5v1.5h-1.5zM167.8 69.4h1.5v1.5h-1.5zM168.0 72.0h1.5v1.5h-1.5zM159.6 69.4h1.5v1.5h-1.5zM160.6 70.6h1.5v1.5h-1.5zM162.2 81.1h1.5v1.5h-1.5zM157.4 83.4h1.5v1.5h-1.5zM166.6 94.1h1.5v1.5h-1.5zM167.6 64.6h1.5v1.5h-1.5zM162.3 65.4h1.5v1.5h-1.5zM157.3 91.6h1.5v1.5h-1.5zM160.8 71.8h1.5v1.5h-1.5zM160.6 92.1h1.5v1.5h-1.5zM173.1 72.2h1.5v1.5h-1.5zM160.5 84.6h1.5v1.5h-1.5zM159.4 81.3h1.5v1.5h-1.5zM158.3 66.3h1.5v1.5h-1.5zM156.8 69.5h1.5v1.5h-1.5zM163.7 83.8h1.5v1.5h-1.5zM161.2 94.2h1.5v1.5h-1.5zM168.3 95.3h1.5v1.5h-1.5zM165.4 67.0h1.5v1.5h-1.5zM170.0 73.1h1.5v1.5h-1.5zM187.5 81.0h1.5v1.5h-1.5zM191.6 76.3h1.5v1.5h-1.5zM205.8 83.3h1.5v1.5h-1.5zM186.6 77.6h1.5v1.5h-1.5zM179.3 75.6h1.5v1.5h-1.5zM202.7 76.9h1.5v1.5h-1.5zM205.5 80.1h1.5v1.5h-1.5zM180.2 81.4h1.5v1.5h-1.5zM204.7 77.9h1.5v1.5h-1.5zM192.3 68.2h1.5v1.5h-1.5zM189.6 84.1h1.5v1.5h-1.5zM196.4 88.9h1.5v1.5h-1.5zM194.0 83.4h1.5v1.5h-1.5zM207.2 70.1h1.5v1.5h-1.5zM195.2 81.3h1.5v1.5h-1.5zM209.3 80.2h1.5v1.5h-1.5zM192.9 82.6h1.5v1.5h-1.5zM194.7 74.6h1.5v1.5h-1.5zM198.5 72.6h1.5v1.5h-1.5zM208.4 78.2h1.5v1.5h-1.5zM181.7 84.4h1.5v1.5h-1.5zM212.3 71.0h1.5v1.5h-1.5zM179.5 85.6h1.5v1.5h-1.5zM207.7 73.1h1.5v1.5h-1.5zM195.0 72.9h1.5v1.5h-1.5zM203.2 80.9h1.5v1.5h-1.5zM203.8 81.1h1.5v1.5h-1.5zM201.3 80.0h1.5v1.5h-1.5zM201.4 84.9h1.5v1.5h-1.5zM190.0 83.3h1.5v1.5h-1.5zM199.3 78.7h1.5v1.5h-1.5zM201.8 76.6h1.5v1.5h-1.5zM188.8 80.2h1.5v1.5h-1.5zM197.6 79.1h1.5v1.5h-1.5zM206.5 73.9h1.5v1.5h-1.5zM181.3 84.1h1.5v1.5h-1.5zM210.8 83.4h1.5v1.5h-1.5zM191.5 85.9h1.5v1.5h-1.5zM185.1 79.3h1.5v1.5h-1.5zM193.1 73.3h1.5v1.5h-1.5zM183.2 81.6h1.5v1.5h-1.5zM211.9 73.8h1.5v1.5h-1.5zM192.0 77.4h1.5v1.5h-1.5zM211.9 74.7h1.5v1.5h-1.5zM189.9 79.4h1.5v1.5h-1.5zM192.4 72.3h1.5v1.5h-1.5zM204.7 70.5h1.5v1.5h-1.5zM180.4 77.6h1.5v1.5h-1.5zM194.3 80.4h1.5v1.5h-1.5zM194.0 80.4h1.5v1.5h-1.5zM204.9 75.6h1.5v1.5h-1.5zM196.7 77.5h1.5v1.5h-1.5zM193.5 80.8h1.5v1.5h-1.5zM187.1 87.9h1.5v1.5h-1.5zM198.1 74.0h1.5v1.5h-1.5zM194.1 76.9h1.5v1.5h-1.5zM210.1 78.7h1.5v1.5h-1.5zM203.2 75.8h1.5v1.5h-1.5zM181.1 84.3h1.5v1.5h-1.5zM189.3 80.1h1.5v1.5h-1.5zM179.7 90.3h1.5v1.5h-1.5zM183.3 78.8h1.5v1.5h-1.5zM179.5 82.1h1.5v1.5h-1.5zM186.6 71.1h1.5v1.5h-1.5zM182.1 68.8h1.5v1.5h-1.5zM196.6 72.6h1.5v1.5h-1.5zM206.9 70.7h1.5v1.5h-1.5zM187.6 80.2h1.5v1.5h-1.5zM250.0 50.5h1.3v1.3h-1.3zM238.0 55.5h1.3v1.3h-1.3zM228.0 59.5h1.3v1.3h-1.3zM240.0 59.5h1.3v1.3h-1.3zM242.0 59.5h1.3v1.3h-1.3zM225.0 60.5h1.3v1.3h-1.3zM242.0 60.5h1.3v1.3h-1.3zM244.0 60.5h1.3v1.3h-1.3zM258.0 60.5h1.3v1.3h-1.3zM230.0 61.5h1.3v1.3h-1.3zM236.0 61.5h1.3v1.3h-1.3zM239.0 61.5h1.3v1.3h-1.3zM252.0 61.5h1.3v1.3h-1.3zM258.0 61.5h1.3v1.3h-1.3zM222.0 62.5h1.3v1.3h-1.3zM224.0 62.5h1.3v1.3h-1.3zM225.0 62.5h1.3v1.3h-1.3zM239.0 62.5h1.3v1.3h-1.3zM242.0 62.5h1.3v1.3h-1.3zM245.0 62.5h1.3v1.3h-1.3zM221.0 63.5h1.3v1.3h-1.3zM223.0 63.5h1.3v1.3h-1.3zM226.0 63.5h1.3v1.3h-1.3zM227.0 63.5h1.3v1.3h-1.3zM237.0 63.5h1.3v1.3h-1.3zM240.0 63.5h1.3v1.3h-1.3zM245.0 63.5h1.3v1.3h-1.3zM247.0 63.5h1.3v1.3h-1.3zM254.0 63.5h1.3v1.3h-1.3zM221.0 64.5h1.3v1.3h-1.3zM228.0 64.5h1.3v1.3h-1.3zM232.0 64.5h1.3v1.3h-1.3zM237.0 64.5h1.3v1.3h-1.3zM238.0 64.5h1.3v1.3h-1.3zM240.0 64.5h1.3v1.3h-1.3zM241.0 64.5h1.3v1.3h-1.3zM242.0 64.5h1.3v1.3h-1.3zM245.0 64.5h1.3v1.3h-1.3zM246.0 64.5h1.3v1.3h-1.3zM250.0 64.5h1.3v1.3h-1.3zM253.0 64.5h1.3v1.3h-1.3zM255.0 64.5h1.3v1.3h-1.3zM220.0 65.5h1.3v1.3h-1.3zM221.0 65.5h1.3v1.3h-1.3zM222.0 65.5h1.3v1.3h-1.3zM223.0 65.5h1.3v1.3h-1.3zM225.0 65.5h1.3v1.3h-1.3zM227.0 65.5h1.3v1.3h-1.3zM228.0 65.5h1.3v1.3h-1.3zM229.0 65.5h1.3v1.3h-1.3zM230.0 65.5h1.3v1.3h-1.3zM234.0 65.5h1.3v1.3h-1.3zM235.0 65.5h1.3v1.3h-1.3zM237.0 65.5h1.3v1.3h-1.3zM238.0 65.5h1.3v1.3h-1.3zM239.0 65.5h1.3v1.3h-1.3zM240.0 65.5h1.3v1.3h-1.3zM241.0 65.5h1.3v1.3h-1.3zM242.0 65.5h1.3v1.3h-1.3zM243.0 65.5h1.3v1.3h-1.3zM220.0 66.5h1.3v1.3h-1.3zM223.0 66.5h1.3v1.3h-1.3zM225.0 66.5h1.3v1.3h-1.3zM226.0 66.5h1.3v1.3h-1.3zM228.0 66.5h1.3v1.3h-1.3zM229.0 66.5h1.3v1.3h-1.3zM230.0 66.5h1.3v1.3h-1.3zM231.0 66.5h1.3v1.3h-1.3zM233.0 66.5h1.3v1.3h-1.3zM234.0 66.5h1.3v1.3h-1.3zM235.0 66.5h1.3v1.3h-1.3zM236.0 66.5h1.3v1.3h-1.3zM237.0 66.5h1.3v1.3h-1.3zM238.0 66.5h1.3v1.3h-1.3zM239.0 66.5h1.3v1.3h-1.3zM240.0 66.5h1.3v1.3h-1.3zM241.0 66.5h1.3v1.3h-1.3zM242.0 66.5h1.3v1.3h-1.3zM244.0 66.5h1.3v1.3h-1.3zM245.0 66.5h1.3v1.3h-1.3zM247.0 66.5h1.3v1.3h-1.3zM251.0 66.5h1.3v1.3h-1.3zM252.0 66.5h1.3v1.3h-1.3zM258.0 66.5h1.3v1.3h-1.3zM220.0 67.5h1.3v1.3h-1.3zM221.0 67.5h1.3v1.3h-1.3zM222.0 67.5h1.3v1.3h-1.3zM223.0 67.5h1.3v1.3h-1.3zM224.0 67.5h1.3v1.3h-1.3zM225.0 67.5h1.3v1.3h-1.3zM226.0 67.5h1.3v1.3h-1.3zM227.0 67.5h1.3v1.3h-1.3zM228.0 67.5h1.3v1.3h-1.3zM229.0 67.5h1.3v1.3h-1.3zM231.0 67.5h1.3v1.3h-1.3zM232.0 67.5h1.3v1.3h-1.3zM233.0 67.5h1.3v1.3h-1.3zM234.0 67.5h1.3v1.3h-1.3zM235.0 67.5h1.3v1.3h-1.3zM236.0 67.5h1.3v1.3h-1.3zM237.0 67.5h1.3v1.3h-1.3zM238.0 67.5h1.3v1.3h-1.3zM239.0 67.5h1.3v1.3h-1.3zM242.0 67.5h1.3v1.3h-1.3zM243.0 67.5h1.3v1.3h-1.3zM244.0 67.5h1.3v1.3h-1.3zM245.0 67.5h1.3v1.3h-1.3zM246.0 67.5h1.3v1.3h-1.3zM249.0 67.5h1.3v1.3h-1.3zM250.0 67.5h1.3v1.3h-1.3zM251.0 67.5h1.3v1.3h-1.3zM220.0 68.5h1.3v1.3h-1.3zM221.0 68.5h1.3v1.3h-1.3zM222.0 68.5h1.3v1.3h-1.3zM223.0 68.5h1.3v1.3h-1.3zM224.0 68.5h1.3v1.3h-1.3zM225.0 68.5h1.3v1.3h-1.3zM226.0 68.5h1.3v1.3h-1.3zM227.0 68.5h1.3v1.3h-1.3zM228.0 68.5h1.3v1.3h-1.3zM229.0 68.5h1.3v1.3h-1.3zM230.0 68.5h1.3v1.3h-1.3zM231.0 68.5h1.3v1.3h-1.3zM232.0 68.5h1.3v1.3h-1.3zM233.0 68.5h1.3v1.3h-1.3zM234.0 68.5h1.3v1.3h-1.3zM235.0 68.5h1.3v1.3h-1.3zM236.0 68.5h1.3v1.3h-1.3zM237.0 68.5h1.3v1.3h-1.3zM238.0 68.5h1.3v1.3h-1.3zM239.0 68.5h1.3v1.3h-1.3zM240.0 68.5h1.3v1.3h-1.3zM241.0 68.5h1.3v1.3h-1.3zM242.0 68.5h1.3v1.3h-1.3zM243.0 68.5h1.3v1.3h-1.3zM244.0 68.5h1.3v1.3h-1.3zM245.0 68.5h1.3v1.3h-1.3zM246.0 68.5h1.3v1.3h-1.3zM248.0 68.5h1.3v1.3h-1.3zM249.0 68.5h1.3v1.3h-1.3zM250.0 68.5h1.3v1.3h-1.3zM220.0 69.5h1.3v1.3h-1.3zM221.0 69.5h1.3v1.3h-1.3zM222.0 69.5h1.3v1.3h-1.3zM223.0 69.5h1.3v1.3h-1.3zM224.0 69.5h1.3v1.3h-1.3zM225.0 69.5h1.3v1.3h-1.3zM226.0 69.5h1.3v1.3h-1.3zM227.0 69.5h1.3v1.3h-1.3zM228.0 69.5h1.3v1.3h-1.3zM229.0 69.5h1.3v1.3h-1.3zM230.0 69.5h1.3v1.3h-1.3zM231.0 69.5h1.3v1.3h-1.3zM232.0 69.5h1.3v1.3h-1.3zM233.0 69.5h1.3v1.3h-1.3zM234.0 69.5h1.3v1.3h-1.3zM235.0 69.5h1.3v1.3h-1.3zM236.0 69.5h1.3v1.3h-1.3zM237.0 69.5h1.3v1.3h-1.3zM238.0 69.5h1.3v1.3h-1.3zM239.0 69.5h1.3v1.3h-1.3zM240.0 69.5h1.3v1.3h-1.3zM241.0 69.5h1.3v1.3h-1.3zM242.0 69.5h1.3v1.3h-1.3zM243.0 69.5h1.3v1.3h-1.3zM244.0 69.5h1.3v1.3h-1.3zM245.0 69.5h1.3v1.3h-1.3zM246.0 69.5h1.3v1.3h-1.3zM247.0 69.5h1.3v1.3h-1.3zM248.0 69.5h1.3v1.3h-1.3zM249.0 69.5h1.3v1.3h-1.3zM250.0 69.5h1.3v1.3h-1.3zM259.0 69.5h1.3v1.3h-1.3zM220.0 70.5h1.3v1.3h-1.3zM221.0 70.5h1.3v1.3h-1.3zM222.0 70.5h1.3v1.3h-1.3zM223.0 70.5h1.3v1.3h-1.3zM224.0 70.5h1.3v1.3h-1.3zM225.0 70.5h1.3v1.3h-1.3zM226.0 70.5h1.3v1.3h-1.3zM227.0 70.5h1.3v1.3h-1.3zM228.0 70.5h1.3v1.3h-1.3zM229.0 70.5h1.3v1.3h-1.3zM230.0 70.5h1.3v1.3h-1.3zM231.0 70.5h1.3v1.3h-1.3zM232.0 70.5h1.3v1.3h-1.3zM233.0 70.5h1.3v1.3h-1.3zM234.0 70.5h1.3v1.3h-1.3zM235.0 70.5h1.3v1.3h-1.3zM236.0 70.5h1.3v1.3h-1.3zM237.0 70.5h1.3v1.3h-1.3zM238.0 70.5h1.3v1.3h-1.3zM239.0 70.5h1.3v1.3h-1.3zM240.0 70.5h1.3v1.3h-1.3zM241.0 70.5h1.3v1.3h-1.3zM242.0 70.5h1.3v1.3h-1.3zM243.0 70.5h1.3v1.3h-1.3zM244.0 70.5h1.3v1.3h-1.3zM245.0 70.5h1.3v1.3h-1.3zM246.0 70.5h1.3v1.3h-1.3zM247.0 70.5h1.3v1.3h-1.3zM248.0 70.5h1.3v1.3h-1.3zM249.0 70.5h1.3v1.3h-1.3zM250.0 70.5h1.3v1.3h-1.3zM251.0 70.5h1.3v1.3h-1.3zM252.0 70.5h1.3v1.3h-1.3zM257.0 70.5h1.3v1.3h-1.3zM259.0 70.5h1.3v1.3h-1.3zM220.0 71.5h1.3v1.3h-1.3zM221.0 71.5h1.3v1.3h-1.3zM222.0 71.5h1.3v1.3h-1.3zM223.0 71.5h1.3v1.3h-1.3zM224.0 71.5h1.3v1.3h-1.3zM225.0 71.5h1.3v1.3h-1.3zM226.0 71.5h1.3v1.3h-1.3zM227.0 71.5h1.3v1.3h-1.3zM228.0 71.5h1.3v1.3h-1.3zM229.0 71.5h1.3v1.3h-1.3zM230.0 71.5h1.3v1.3h-1.3zM231.0 71.5h1.3v1.3h-1.3zM232.0 71.5h1.3v1.3h-1.3zM233.0 71.5h1.3v1.3h-1.3zM234.0 71.5h1.3v1.3h-1.3zM235.0 71.5h1.3v1.3h-1.3zM236.0 71.5h1.3v1.3h-1.3zM237.0 71.5h1.3v1.3h-1.3zM238.0 71.5h1.3v1.3h-1.3zM239.0 71.5h1.3v1.3h-1.3zM240.0 71.5h1.3v1.3h-1.3zM241.0 71.5h1.3v1.3h-1.3zM242.0 71.5h1.3v1.3h-1.3zM243.0 71.5h1.3v1.3h-1.3zM244.0 71.5h1.3v1.3h-1.3zM245.0 71.5h1.3v1.3h-1.3zM246.0 71.5h1.3v1.3h-1.3zM247.0 71.5h1.3v1.3h-1.3zM248.0 71.5h1.3v1.3h-1.3zM249.0 71.5h1.3v1.3h-1.3zM250.0 71.5h1.3v1.3h-1.3zM251.0 71.5h1.3v1.3h-1.3zM252.0 71.5h1.3v1.3h-1.3zM254.0 71.5h1.3v1.3h-1.3zM257.0 71.5h1.3v1.3h-1.3zM220.0 72.5h1.3v1.3h-1.3zM221.0 72.5h1.3v1.3h-1.3zM222.0 72.5h1.3v1.3h-1.3zM223.0 72.5h1.3v1.3h-1.3zM224.0 72.5h1.3v1.3h-1.3zM225.0 72.5h1.3v1.3h-1.3zM226.0 72.5h1.3v1.3h-1.3zM227.0 72.5h1.3v1.3h-1.3zM228.0 72.5h1.3v1.3h-1.3zM229.0 72.5h1.3v1.3h-1.3zM230.0 72.5h1.3v1.3h-1.3zM231.0 72.5h1.3v1.3h-1.3zM232.0 72.5h1.3v1.3h-1.3zM233.0 72.5h1.3v1.3h-1.3zM234.0 72.5h1.3v1.3h-1.3zM235.0 72.5h1.3v1.3h-1.3zM236.0 72.5h1.3v1.3h-1.3zM237.0 72.5h1.3v1.3h-1.3zM238.0 72.5h1.3v1.3h-1.3zM239.0 72.5h1.3v1.3h-1.3zM240.0 72.5h1.3v1.3h-1.3zM241.0 72.5h1.3v1.3h-1.3zM242.0 72.5h1.3v1.3h-1.3zM243.0 72.5h1.3v1.3h-1.3zM244.0 72.5h1.3v1.3h-1.3zM245.0 72.5h1.3v1.3h-1.3zM246.0 72.5h1.3v1.3h-1.3zM247.0 72.5h1.3v1.3h-1.3zM248.0 72.5h1.3v1.3h-1.3zM249.0 72.5h1.3v1.3h-1.3zM250.0 72.5h1.3v1.3h-1.3zM251.0 72.5h1.3v1.3h-1.3zM252.0 72.5h1.3v1.3h-1.3zM253.0 72.5h1.3v1.3h-1.3zM255.0 72.5h1.3v1.3h-1.3zM257.0 72.5h1.3v1.3h-1.3zM258.0 72.5h1.3v1.3h-1.3zM220.0 73.5h1.3v1.3h-1.3zM221.0 73.5h1.3v1.3h-1.3zM222.0 73.5h1.3v1.3h-1.3zM223.0 73.5h1.3v1.3h-1.3zM224.0 73.5h1.3v1.3h-1.3zM225.0 73.5h1.3v1.3h-1.3zM226.0 73.5h1.3v1.3h-1.3zM227.0 73.5h1.3v1.3h-1.3zM228.0 73.5h1.3v1.3h-1.3zM229.0 73.5h1.3v1.3h-1.3zM230.0 73.5h1.3v1.3h-1.3zM231.0 73.5h1.3v1.3h-1.3zM232.0 73.5h1.3v1.3h-1.3zM233.0 73.5h1.3v1.3h-1.3zM234.0 73.5h1.3v1.3h-1.3zM235.0 73.5h1.3v1.3h-1.3zM236.0 73.5h1.3v1.3h-1.3zM237.0 73.5h1.3v1.3h-1.3zM238.0 73.5h1.3v1.3h-1.3zM239.0 73.5h1.3v1.3h-1.3zM240.0 73.5h1.3v1.3h-1.3zM241.0 73.5h1.3v1.3h-1.3zM242.0 73.5h1.3v1.3h-1.3zM243.0 73.5h1.3v1.3h-1.3zM244.0 73.5h1.3v1.3h-1.3zM245.0 73.5h1.3v1.3h-1.3zM246.0 73.5h1.3v1.3h-1.3zM247.0 73.5h1.3v1.3h-1.3zM248.0 73.5h1.3v1.3h-1.3zM249.0 73.5h1.3v1.3h-1.3zM250.0 73.5h1.3v1.3h-1.3zM253.0 73.5h1.3v1.3h-1.3zM255.0 73.5h1.3v1.3h-1.3zM262.0 73.5h1.3v1.3h-1.3zM220.0 74.5h1.3v1.3h-1.3zM221.0 74.5h1.3v1.3h-1.3zM222.0 74.5h1.3v1.3h-1.3zM223.0 74.5h1.3v1.3h-1.3zM224.0 74.5h1.3v1.3h-1.3zM225.0 74.5h1.3v1.3h-1.3zM226.0 74.5h1.3v1.3h-1.3zM227.0 74.5h1.3v1.3h-1.3zM228.0 74.5h1.3v1.3h-1.3zM229.0 74.5h1.3v1.3h-1.3zM230.0 74.5h1.3v1.3h-1.3zM231.0 74.5h1.3v1.3h-1.3zM232.0 74.5h1.3v1.3h-1.3zM233.0 74.5h1.3v1.3h-1.3zM234.0 74.5h1.3v1.3h-1.3zM235.0 74.5h1.3v1.3h-1.3zM236.0 74.5h1.3v1.3h-1.3zM237.0 74.5h1.3v1.3h-1.3zM238.0 74.5h1.3v1.3h-1.3zM239.0 74.5h1.3v1.3h-1.3zM240.0 74.5h1.3v1.3h-1.3zM241.0 74.5h1.3v1.3h-1.3zM242.0 74.5h1.3v1.3h-1.3zM243.0 74.5h1.3v1.3h-1.3zM244.0 74.5h1.3v1.3h-1.3zM245.0 74.5h1.3v1.3h-1.3zM246.0 74.5h1.3v1.3h-1.3zM247.0 74.5h1.3v1.3h-1.3zM248.0 74.5h1.3v1.3h-1.3zM249.0 74.5h1.3v1.3h-1.3zM250.0 74.5h1.3v1.3h-1.3zM251.0 74.5h1.3v1.3h-1.3zM252.0 74.5h1.3v1.3h-1.3zM220.0 75.5h1.3v1.3h-1.3zM221.0 75.5h1.3v1.3h-1.3zM222.0 75.5h1.3v1.3h-1.3zM223.0 75.5h1.3v1.3h-1.3zM224.0 75.5h1.3v1.3h-1.3zM225.0 75.5h1.3v1.3h-1.3zM226.0 75.5h1.3v1.3h-1.3zM227.0 75.5h1.3v1.3h-1.3zM228.0 75.5h1.3v1.3h-1.3zM229.0 75.5h1.3v1.3h-1.3zM230.0 75.5h1.3v1.3h-1.3zM231.0 75.5h1.3v1.3h-1.3zM232.0 75.5h1.3v1.3h-1.3zM233.0 75.5h1.3v1.3h-1.3zM234.0 75.5h1.3v1.3h-1.3zM235.0 75.5h1.3v1.3h-1.3zM236.0 75.5h1.3v1.3h-1.3zM237.0 75.5h1.3v1.3h-1.3zM238.0 75.5h1.3v1.3h-1.3zM239.0 75.5h1.3v1.3h-1.3zM240.0 75.5h1.3v1.3h-1.3zM241.0 75.5h1.3v1.3h-1.3zM242.0 75.5h1.3v1.3h-1.3zM243.0 75.5h1.3v1.3h-1.3zM244.0 75.5h1.3v1.3h-1.3zM245.0 75.5h1.3v1.3h-1.3zM246.0 75.5h1.3v1.3h-1.3zM247.0 75.5h1.3v1.3h-1.3zM248.0 75.5h1.3v1.3h-1.3zM249.0 75.5h1.3v1.3h-1.3zM250.0 75.5h1.3v1.3h-1.3zM253.0 75.5h1.3v1.3h-1.3zM254.0 75.5h1.3v1.3h-1.3zM259.0 75.5h1.3v1.3h-1.3zM220.0 76.5h1.3v1.3h-1.3zM221.0 76.5h1.3v1.3h-1.3zM222.0 76.5h1.3v1.3h-1.3zM223.0 76.5h1.3v1.3h-1.3zM224.0 76.5h1.3v1.3h-1.3zM225.0 76.5h1.3v1.3h-1.3zM226.0 76.5h1.3v1.3h-1.3zM227.0 76.5h1.3v1.3h-1.3zM228.0 76.5h1.3v1.3h-1.3zM229.0 76.5h1.3v1.3h-1.3zM230.0 76.5h1.3v1.3h-1.3zM231.0 76.5h1.3v1.3h-1.3zM232.0 76.5h1.3v1.3h-1.3zM233.0 76.5h1.3v1.3h-1.3zM234.0 76.5h1.3v1.3h-1.3zM235.0 76.5h1.3v1.3h-1.3zM236.0 76.5h1.3v1.3h-1.3zM237.0 76.5h1.3v1.3h-1.3zM238.0 76.5h1.3v1.3h-1.3zM239.0 76.5h1.3v1.3h-1.3zM240.0 76.5h1.3v1.3h-1.3zM241.0 76.5h1.3v1.3h-1.3zM242.0 76.5h1.3v1.3h-1.3zM243.0 76.5h1.3v1.3h-1.3zM244.0 76.5h1.3v1.3h-1.3zM245.0 76.5h1.3v1.3h-1.3zM246.0 76.5h1.3v1.3h-1.3zM247.0 76.5h1.3v1.3h-1.3zM248.0 76.5h1.3v1.3h-1.3zM249.0 76.5h1.3v1.3h-1.3zM250.0 76.5h1.3v1.3h-1.3zM251.0 76.5h1.3v1.3h-1.3zM261.0 76.5h1.3v1.3h-1.3zM220.0 77.5h1.3v1.3h-1.3zM221.0 77.5h1.3v1.3h-1.3zM222.0 77.5h1.3v1.3h-1.3zM223.0 77.5h1.3v1.3h-1.3zM224.0 77.5h1.3v1.3h-1.3zM225.0 77.5h1.3v1.3h-1.3zM226.0 77.5h1.3v1.3h-1.3zM227.0 77.5h1.3v1.3h-1.3zM228.0 77.5h1.3v1.3h-1.3zM229.0 77.5h1.3v1.3h-1.3zM230.0 77.5h1.3v1.3h-1.3zM231.0 77.5h1.3v1.3h-1.3zM232.0 77.5h1.3v1.3h-1.3zM233.0 77.5h1.3v1.3h-1.3zM234.0 77.5h1.3v1.3h-1.3zM235.0 77.5h1.3v1.3h-1.3zM236.0 77.5h1.3v1.3h-1.3zM237.0 77.5h1.3v1.3h-1.3zM238.0 77.5h1.3v1.3h-1.3zM239.0 77.5h1.3v1.3h-1.3zM240.0 77.5h1.3v1.3h-1.3zM241.0 77.5h1.3v1.3h-1.3zM242.0 77.5h1.3v1.3h-1.3zM243.0 77.5h1.3v1.3h-1.3zM244.0 77.5h1.3v1.3h-1.3zM245.0 77.5h1.3v1.3h-1.3zM246.0 77.5h1.3v1.3h-1.3zM247.0 77.5h1.3v1.3h-1.3zM248.0 77.5h1.3v1.3h-1.3zM249.0 77.5h1.3v1.3h-1.3zM250.0 77.5h1.3v1.3h-1.3zM251.0 77.5h1.3v1.3h-1.3zM253.0 77.5h1.3v1.3h-1.3zM254.0 77.5h1.3v1.3h-1.3zM256.0 77.5h1.3v1.3h-1.3zM220.0 78.5h1.3v1.3h-1.3zM221.0 78.5h1.3v1.3h-1.3zM222.0 78.5h1.3v1.3h-1.3zM223.0 78.5h1.3v1.3h-1.3zM224.0 78.5h1.3v1.3h-1.3zM225.0 78.5h1.3v1.3h-1.3zM226.0 78.5h1.3v1.3h-1.3zM227.0 78.5h1.3v1.3h-1.3zM228.0 78.5h1.3v1.3h-1.3zM229.0 78.5h1.3v1.3h-1.3zM230.0 78.5h1.3v1.3h-1.3zM231.0 78.5h1.3v1.3h-1.3zM232.0 78.5h1.3v1.3h-1.3zM233.0 78.5h1.3v1.3h-1.3zM234.0 78.5h1.3v1.3h-1.3zM235.0 78.5h1.3v1.3h-1.3zM236.0 78.5h1.3v1.3h-1.3zM237.0 78.5h1.3v1.3h-1.3zM238.0 78.5h1.3v1.3h-1.3zM239.0 78.5h1.3v1.3h-1.3zM240.0 78.5h1.3v1.3h-1.3zM241.0 78.5h1.3v1.3h-1.3zM242.0 78.5h1.3v1.3h-1.3zM243.0 78.5h1.3v1.3h-1.3zM244.0 78.5h1.3v1.3h-1.3zM245.0 78.5h1.3v1.3h-1.3zM246.0 78.5h1.3v1.3h-1.3zM247.0 78.5h1.3v1.3h-1.3zM248.0 78.5h1.3v1.3h-1.3zM249.0 78.5h1.3v1.3h-1.3zM250.0 78.5h1.3v1.3h-1.3zM251.0 78.5h1.3v1.3h-1.3zM253.0 78.5h1.3v1.3h-1.3zM254.0 78.5h1.3v1.3h-1.3zM256.0 78.5h1.3v1.3h-1.3zM220.0 79.5h1.3v1.3h-1.3zM221.0 79.5h1.3v1.3h-1.3zM222.0 79.5h1.3v1.3h-1.3zM223.0 79.5h1.3v1.3h-1.3zM224.0 79.5h1.3v1.3h-1.3zM225.0 79.5h1.3v1.3h-1.3zM226.0 79.5h1.3v1.3h-1.3zM227.0 79.5h1.3v1.3h-1.3zM228.0 79.5h1.3v1.3h-1.3zM229.0 79.5h1.3v1.3h-1.3zM230.0 79.5h1.3v1.3h-1.3zM231.0 79.5h1.3v1.3h-1.3zM232.0 79.5h1.3v1.3h-1.3zM233.0 79.5h1.3v1.3h-1.3zM234.0 79.5h1.3v1.3h-1.3zM235.0 79.5h1.3v1.3h-1.3zM236.0 79.5h1.3v1.3h-1.3zM237.0 79.5h1.3v1.3h-1.3zM238.0 79.5h1.3v1.3h-1.3zM239.0 79.5h1.3v1.3h-1.3zM240.0 79.5h1.3v1.3h-1.3zM241.0 79.5h1.3v1.3h-1.3zM242.0 79.5h1.3v1.3h-1.3zM243.0 79.5h1.3v1.3h-1.3zM244.0 79.5h1.3v1.3h-1.3zM245.0 79.5h1.3v1.3h-1.3zM246.0 79.5h1.3v1.3h-1.3zM247.0 79.5h1.3v1.3h-1.3zM248.0 79.5h1.3v1.3h-1.3zM249.0 79.5h1.3v1.3h-1.3zM250.0 79.5h1.3v1.3h-1.3zM256.0 79.5h1.3v1.3h-1.3zM257.0 79.5h1.3v1.3h-1.3zM220.0 80.5h1.3v1.3h-1.3zM221.0 80.5h1.3v1.3h-1.3zM222.0 80.5h1.3v1.3h-1.3zM223.0 80.5h1.3v1.3h-1.3zM224.0 80.5h1.3v1.3h-1.3zM225.0 80.5h1.3v1.3h-1.3zM226.0 80.5h1.3v1.3h-1.3zM227.0 80.5h1.3v1.3h-1.3zM228.0 80.5h1.3v1.3h-1.3zM229.0 80.5h1.3v1.3h-1.3zM230.0 80.5h1.3v1.3h-1.3zM231.0 80.5h1.3v1.3h-1.3zM232.0 80.5h1.3v1.3h-1.3zM233.0 80.5h1.3v1.3h-1.3zM234.0 80.5h1.3v1.3h-1.3zM235.0 80.5h1.3v1.3h-1.3zM236.0 80.5h1.3v1.3h-1.3zM237.0 80.5h1.3v1.3h-1.3zM238.0 80.5h1.3v1.3h-1.3zM239.0 80.5h1.3v1.3h-1.3zM240.0 80.5h1.3v1.3h-1.3zM241.0 80.5h1.3v1.3h-1.3zM242.0 80.5h1.3v1.3h-1.3zM243.0 80.5h1.3v1.3h-1.3zM244.0 80.5h1.3v1.3h-1.3zM245.0 80.5h1.3v1.3h-1.3zM246.0 80.5h1.3v1.3h-1.3zM247.0 80.5h1.3v1.3h-1.3zM248.0 80.5h1.3v1.3h-1.3zM249.0 80.5h1.3v1.3h-1.3zM250.0 80.5h1.3v1.3h-1.3zM251.0 80.5h1.3v1.3h-1.3zM256.0 80.5h1.3v1.3h-1.3zM220.0 81.5h1.3v1.3h-1.3zM221.0 81.5h1.3v1.3h-1.3zM222.0 81.5h1.3v1.3h-1.3zM223.0 81.5h1.3v1.3h-1.3zM224.0 81.5h1.3v1.3h-1.3zM225.0 81.5h1.3v1.3h-1.3zM226.0 81.5h1.3v1.3h-1.3zM227.0 81.5h1.3v1.3h-1.3zM228.0 81.5h1.3v1.3h-1.3zM229.0 81.5h1.3v1.3h-1.3zM230.0 81.5h1.3v1.3h-1.3zM231.0 81.5h1.3v1.3h-1.3zM232.0 81.5h1.3v1.3h-1.3zM233.0 81.5h1.3v1.3h-1.3zM234.0 81.5h1.3v1.3h-1.3zM235.0 81.5h1.3v1.3h-1.3zM236.0 81.5h1.3v1.3h-1.3zM237.0 81.5h1.3v1.3h-1.3zM238.0 81.5h1.3v1.3h-1.3zM239.0 81.5h1.3v1.3h-1.3zM240.0 81.5h1.3v1.3h-1.3zM241.0 81.5h1.3v1.3h-1.3zM242.0 81.5h1.3v1.3h-1.3zM243.0 81.5h1.3v1.3h-1.3zM244.0 81.5h1.3v1.3h-1.3zM245.0 81.5h1.3v1.3h-1.3zM246.0 81.5h1.3v1.3h-1.3zM247.0 81.5h1.3v1.3h-1.3zM248.0 81.5h1.3v1.3h-1.3zM249.0 81.5h1.3v1.3h-1.3zM250.0 81.5h1.3v1.3h-1.3zM251.0 81.5h1.3v1.3h-1.3zM252.0 81.5h1.3v1.3h-1.3zM253.0 81.5h1.3v1.3h-1.3zM254.0 81.5h1.3v1.3h-1.3zM258.0 81.5h1.3v1.3h-1.3zM261.0 81.5h1.3v1.3h-1.3zM220.0 82.5h1.3v1.3h-1.3zM221.0 82.5h1.3v1.3h-1.3zM222.0 82.5h1.3v1.3h-1.3zM223.0 82.5h1.3v1.3h-1.3zM224.0 82.5h1.3v1.3h-1.3zM225.0 82.5h1.3v1.3h-1.3zM226.0 82.5h1.3v1.3h-1.3zM227.0 82.5h1.3v1.3h-1.3zM228.0 82.5h1.3v1.3h-1.3zM229.0 82.5h1.3v1.3h-1.3zM230.0 82.5h1.3v1.3h-1.3zM231.0 82.5h1.3v1.3h-1.3zM232.0 82.5h1.3v1.3h-1.3zM233.0 82.5h1.3v1.3h-1.3zM234.0 82.5h1.3v1.3h-1.3zM235.0 82.5h1.3v1.3h-1.3zM236.0 82.5h1.3v1.3h-1.3zM237.0 82.5h1.3v1.3h-1.3zM238.0 82.5h1.3v1.3h-1.3zM239.0 82.5h1.3v1.3h-1.3zM240.0 82.5h1.3v1.3h-1.3zM241.0 82.5h1.3v1.3h-1.3zM242.0 82.5h1.3v1.3h-1.3zM243.0 82.5h1.3v1.3h-1.3zM244.0 82.5h1.3v1.3h-1.3zM245.0 82.5h1.3v1.3h-1.3zM246.0 82.5h1.3v1.3h-1.3zM247.0 82.5h1.3v1.3h-1.3zM248.0 82.5h1.3v1.3h-1.3zM249.0 82.5h1.3v1.3h-1.3zM250.0 82.5h1.3v1.3h-1.3zM251.0 82.5h1.3v1.3h-1.3zM252.0 82.5h1.3v1.3h-1.3zM253.0 82.5h1.3v1.3h-1.3zM254.0 82.5h1.3v1.3h-1.3zM257.0 82.5h1.3v1.3h-1.3zM220.0 83.5h1.3v1.3h-1.3zM221.0 83.5h1.3v1.3h-1.3zM222.0 83.5h1.3v1.3h-1.3zM223.0 83.5h1.3v1.3h-1.3zM224.0 83.5h1.3v1.3h-1.3zM225.0 83.5h1.3v1.3h-1.3zM226.0 83.5h1.3v1.3h-1.3zM227.0 83.5h1.3v1.3h-1.3zM228.0 83.5h1.3v1.3h-1.3zM229.0 83.5h1.3v1.3h-1.3zM230.0 83.5h1.3v1.3h-1.3zM231.0 83.5h1.3v1.3h-1.3zM232.0 83.5h1.3v1.3h-1.3zM233.0 83.5h1.3v1.3h-1.3zM234.0 83.5h1.3v1.3h-1.3zM235.0 83.5h1.3v1.3h-1.3zM236.0 83.5h1.3v1.3h-1.3zM237.0 83.5h1.3v1.3h-1.3zM238.0 83.5h1.3v1.3h-1.3zM239.0 83.5h1.3v1.3h-1.3zM240.0 83.5h1.3v1.3h-1.3zM241.0 83.5h1.3v1.3h-1.3zM242.0 83.5h1.3v1.3h-1.3zM243.0 83.5h1.3v1.3h-1.3zM244.0 83.5h1.3v1.3h-1.3zM245.0 83.5h1.3v1.3h-1.3zM246.0 83.5h1.3v1.3h-1.3zM247.0 83.5h1.3v1.3h-1.3zM248.0 83.5h1.3v1.3h-1.3zM249.0 83.5h1.3v1.3h-1.3zM250.0 83.5h1.3v1.3h-1.3zM251.0 83.5h1.3v1.3h-1.3zM252.0 83.5h1.3v1.3h-1.3zM257.0 83.5h1.3v1.3h-1.3zM220.0 84.5h1.3v1.3h-1.3zM221.0 84.5h1.3v1.3h-1.3zM222.0 84.5h1.3v1.3h-1.3zM223.0 84.5h1.3v1.3h-1.3zM224.0 84.5h1.3v1.3h-1.3zM225.0 84.5h1.3v1.3h-1.3zM226.0 84.5h1.3v1.3h-1.3zM227.0 84.5h1.3v1.3h-1.3zM228.0 84.5h1.3v1.3h-1.3zM229.0 84.5h1.3v1.3h-1.3zM230.0 84.5h1.3v1.3h-1.3zM231.0 84.5h1.3v1.3h-1.3zM232.0 84.5h1.3v1.3h-1.3zM233.0 84.5h1.3v1.3h-1.3zM234.0 84.5h1.3v1.3h-1.3zM235.0 84.5h1.3v1.3h-1.3zM236.0 84.5h1.3v1.3h-1.3zM237.0 84.5h1.3v1.3h-1.3zM238.0 84.5h1.3v1.3h-1.3zM239.0 84.5h1.3v1.3h-1.3zM240.0 84.5h1.3v1.3h-1.3zM241.0 84.5h1.3v1.3h-1.3zM242.0 84.5h1.3v1.3h-1.3zM243.0 84.5h1.3v1.3h-1.3zM244.0 84.5h1.3v1.3h-1.3zM245.0 84.5h1.3v1.3h-1.3zM246.0 84.5h1.3v1.3h-1.3zM247.0 84.5h1.3v1.3h-1.3zM248.0 84.5h1.3v1.3h-1.3zM249.0 84.5h1.3v1.3h-1.3zM250.0 84.5h1.3v1.3h-1.3zM251.0 84.5h1.3v1.3h-1.3zM252.0 84.5h1.3v1.3h-1.3zM253.0 84.5h1.3v1.3h-1.3zM255.0 84.5h1.3v1.3h-1.3zM220.0 85.5h1.3v1.3h-1.3zM221.0 85.5h1.3v1.3h-1.3zM222.0 85.5h1.3v1.3h-1.3zM223.0 85.5h1.3v1.3h-1.3zM224.0 85.5h1.3v1.3h-1.3zM225.0 85.5h1.3v1.3h-1.3zM226.0 85.5h1.3v1.3h-1.3zM227.0 85.5h1.3v1.3h-1.3zM228.0 85.5h1.3v1.3h-1.3zM229.0 85.5h1.3v1.3h-1.3zM230.0 85.5h1.3v1.3h-1.3zM231.0 85.5h1.3v1.3h-1.3zM232.0 85.5h1.3v1.3h-1.3zM233.0 85.5h1.3v1.3h-1.3zM234.0 85.5h1.3v1.3h-1.3zM235.0 85.5h1.3v1.3h-1.3zM236.0 85.5h1.3v1.3h-1.3zM237.0 85.5h1.3v1.3h-1.3zM238.0 85.5h1.3v1.3h-1.3zM239.0 85.5h1.3v1.3h-1.3zM240.0 85.5h1.3v1.3h-1.3zM241.0 85.5h1.3v1.3h-1.3zM242.0 85.5h1.3v1.3h-1.3zM243.0 85.5h1.3v1.3h-1.3zM244.0 85.5h1.3v1.3h-1.3zM245.0 85.5h1.3v1.3h-1.3zM246.0 85.5h1.3v1.3h-1.3zM247.0 85.5h1.3v1.3h-1.3zM248.0 85.5h1.3v1.3h-1.3zM249.0 85.5h1.3v1.3h-1.3zM250.0 85.5h1.3v1.3h-1.3zM251.0 85.5h1.3v1.3h-1.3zM252.0 85.5h1.3v1.3h-1.3zM253.0 85.5h1.3v1.3h-1.3zM254.0 85.5h1.3v1.3h-1.3zM220.0 86.5h1.3v1.3h-1.3zM221.0 86.5h1.3v1.3h-1.3zM222.0 86.5h1.3v1.3h-1.3zM223.0 86.5h1.3v1.3h-1.3zM224.0 86.5h1.3v1.3h-1.3zM225.0 86.5h1.3v1.3h-1.3zM226.0 86.5h1.3v1.3h-1.3zM227.0 86.5h1.3v1.3h-1.3zM228.0 86.5h1.3v1.3h-1.3zM229.0 86.5h1.3v1.3h-1.3zM230.0 86.5h1.3v1.3h-1.3zM231.0 86.5h1.3v1.3h-1.3zM232.0 86.5h1.3v1.3h-1.3zM233.0 86.5h1.3v1.3h-1.3zM234.0 86.5h1.3v1.3h-1.3zM235.0 86.5h1.3v1.3h-1.3zM236.0 86.5h1.3v1.3h-1.3zM237.0 86.5h1.3v1.3h-1.3zM238.0 86.5h1.3v1.3h-1.3zM239.0 86.5h1.3v1.3h-1.3zM240.0 86.5h1.3v1.3h-1.3zM241.0 86.5h1.3v1.3h-1.3zM242.0 86.5h1.3v1.3h-1.3zM243.0 86.5h1.3v1.3h-1.3zM244.0 86.5h1.3v1.3h-1.3zM245.0 86.5h1.3v1.3h-1.3zM246.0 86.5h1.3v1.3h-1.3zM247.0 86.5h1.3v1.3h-1.3zM248.0 86.5h1.3v1.3h-1.3zM249.0 86.5h1.3v1.3h-1.3zM250.0 86.5h1.3v1.3h-1.3zM252.0 86.5h1.3v1.3h-1.3zM253.0 86.5h1.3v1.3h-1.3zM254.0 86.5h1.3v1.3h-1.3zM256.0 86.5h1.3v1.3h-1.3zM257.0 86.5h1.3v1.3h-1.3zM220.0 87.5h1.3v1.3h-1.3zM221.0 87.5h1.3v1.3h-1.3zM222.0 87.5h1.3v1.3h-1.3zM223.0 87.5h1.3v1.3h-1.3zM224.0 87.5h1.3v1.3h-1.3zM225.0 87.5h1.3v1.3h-1.3zM226.0 87.5h1.3v1.3h-1.3zM227.0 87.5h1.3v1.3h-1.3zM228.0 87.5h1.3v1.3h-1.3zM229.0 87.5h1.3v1.3h-1.3zM230.0 87.5h1.3v1.3h-1.3zM231.0 87.5h1.3v1.3h-1.3zM232.0 87.5h1.3v1.3h-1.3zM233.0 87.5h1.3v1.3h-1.3zM234.0 87.5h1.3v1.3h-1.3zM235.0 87.5h1.3v1.3h-1.3zM236.0 87.5h1.3v1.3h-1.3zM237.0 87.5h1.3v1.3h-1.3zM238.0 87.5h1.3v1.3h-1.3zM239.0 87.5h1.3v1.3h-1.3zM240.0 87.5h1.3v1.3h-1.3zM241.0 87.5h1.3v1.3h-1.3zM242.0 87.5h1.3v1.3h-1.3zM243.0 87.5h1.3v1.3h-1.3zM244.0 87.5h1.3v1.3h-1.3zM245.0 87.5h1.3v1.3h-1.3zM246.0 87.5h1.3v1.3h-1.3zM247.0 87.5h1.3v1.3h-1.3zM248.0 87.5h1.3v1.3h-1.3zM249.0 87.5h1.3v1.3h-1.3zM250.0 87.5h1.3v1.3h-1.3zM251.0 87.5h1.3v1.3h-1.3zM253.0 87.5h1.3v1.3h-1.3zM258.0 87.5h1.3v1.3h-1.3zM220.0 88.5h1.3v1.3h-1.3zM221.0 88.5h1.3v1.3h-1.3zM222.0 88.5h1.3v1.3h-1.3zM223.0 88.5h1.3v1.3h-1.3zM224.0 88.5h1.3v1.3h-1.3zM225.0 88.5h1.3v1.3h-1.3zM226.0 88.5h1.3v1.3h-1.3zM227.0 88.5h1.3v1.3h-1.3zM228.0 88.5h1.3v1.3h-1.3zM229.0 88.5h1.3v1.3h-1.3zM230.0 88.5h1.3v1.3h-1.3zM231.0 88.5h1.3v1.3h-1.3zM232.0 88.5h1.3v1.3h-1.3zM233.0 88.5h1.3v1.3h-1.3zM234.0 88.5h1.3v1.3h-1.3zM235.0 88.5h1.3v1.3h-1.3zM236.0 88.5h1.3v1.3h-1.3zM237.0 88.5h1.3v1.3h-1.3zM238.0 88.5h1.3v1.3h-1.3zM239.0 88.5h1.3v1.3h-1.3zM240.0 88.5h1.3v1.3h-1.3zM241.0 88.5h1.3v1.3h-1.3zM242.0 88.5h1.3v1.3h-1.3zM243.0 88.5h1.3v1.3h-1.3zM244.0 88.5h1.3v1.3h-1.3zM245.0 88.5h1.3v1.3h-1.3zM246.0 88.5h1.3v1.3h-1.3zM247.0 88.5h1.3v1.3h-1.3zM248.0 88.5h1.3v1.3h-1.3zM249.0 88.5h1.3v1.3h-1.3zM250.0 88.5h1.3v1.3h-1.3zM251.0 88.5h1.3v1.3h-1.3zM255.0 88.5h1.3v1.3h-1.3zM220.0 89.5h1.3v1.3h-1.3zM221.0 89.5h1.3v1.3h-1.3zM222.0 89.5h1.3v1.3h-1.3zM223.0 89.5h1.3v1.3h-1.3zM224.0 89.5h1.3v1.3h-1.3zM225.0 89.5h1.3v1.3h-1.3zM226.0 89.5h1.3v1.3h-1.3zM227.0 89.5h1.3v1.3h-1.3zM228.0 89.5h1.3v1.3h-1.3zM229.0 89.5h1.3v1.3h-1.3zM230.0 89.5h1.3v1.3h-1.3zM231.0 89.5h1.3v1.3h-1.3zM232.0 89.5h1.3v1.3h-1.3zM233.0 89.5h1.3v1.3h-1.3zM234.0 89.5h1.3v1.3h-1.3zM235.0 89.5h1.3v1.3h-1.3zM236.0 89.5h1.3v1.3h-1.3zM237.0 89.5h1.3v1.3h-1.3zM238.0 89.5h1.3v1.3h-1.3zM239.0 89.5h1.3v1.3h-1.3zM240.0 89.5h1.3v1.3h-1.3zM241.0 89.5h1.3v1.3h-1.3zM242.0 89.5h1.3v1.3h-1.3zM243.0 89.5h1.3v1.3h-1.3zM244.0 89.5h1.3v1.3h-1.3zM245.0 89.5h1.3v1.3h-1.3zM246.0 89.5h1.3v1.3h-1.3zM247.0 89.5h1.3v1.3h-1.3zM248.0 89.5h1.3v1.3h-1.3zM249.0 89.5h1.3v1.3h-1.3zM250.0 89.5h1.3v1.3h-1.3zM251.0 89.5h1.3v1.3h-1.3zM252.0 89.5h1.3v1.3h-1.3zM254.0 89.5h1.3v1.3h-1.3zM220.0 90.5h1.3v1.3h-1.3zM221.0 90.5h1.3v1.3h-1.3zM222.0 90.5h1.3v1.3h-1.3zM223.0 90.5h1.3v1.3h-1.3zM224.0 90.5h1.3v1.3h-1.3zM225.0 90.5h1.3v1.3h-1.3zM226.0 90.5h1.3v1.3h-1.3zM227.0 90.5h1.3v1.3h-1.3zM228.0 90.5h1.3v1.3h-1.3zM229.0 90.5h1.3v1.3h-1.3zM230.0 90.5h1.3v1.3h-1.3zM231.0 90.5h1.3v1.3h-1.3zM232.0 90.5h1.3v1.3h-1.3zM233.0 90.5h1.3v1.3h-1.3zM234.0 90.5h1.3v1.3h-1.3zM235.0 90.5h1.3v1.3h-1.3zM236.0 90.5h1.3v1.3h-1.3zM237.0 90.5h1.3v1.3h-1.3zM238.0 90.5h1.3v1.3h-1.3zM239.0 90.5h1.3v1.3h-1.3zM240.0 90.5h1.3v1.3h-1.3zM241.0 90.5h1.3v1.3h-1.3zM242.0 90.5h1.3v1.3h-1.3zM243.0 90.5h1.3v1.3h-1.3zM244.0 90.5h1.3v1.3h-1.3zM245.0 90.5h1.3v1.3h-1.3zM246.0 90.5h1.3v1.3h-1.3zM247.0 90.5h1.3v1.3h-1.3zM248.0 90.5h1.3v1.3h-1.3zM249.0 90.5h1.3v1.3h-1.3zM250.0 90.5h1.3v1.3h-1.3zM254.0 90.5h1.3v1.3h-1.3zM255.0 90.5h1.3v1.3h-1.3zM257.0 90.5h1.3v1.3h-1.3zM220.0 91.5h1.3v1.3h-1.3zM221.0 91.5h1.3v1.3h-1.3zM222.0 91.5h1.3v1.3h-1.3zM223.0 91.5h1.3v1.3h-1.3zM224.0 91.5h1.3v1.3h-1.3zM225.0 91.5h1.3v1.3h-1.3zM226.0 91.5h1.3v1.3h-1.3zM227.0 91.5h1.3v1.3h-1.3zM228.0 91.5h1.3v1.3h-1.3zM229.0 91.5h1.3v1.3h-1.3zM230.0 91.5h1.3v1.3h-1.3zM231.0 91.5h1.3v1.3h-1.3zM232.0 91.5h1.3v1.3h-1.3zM233.0 91.5h1.3v1.3h-1.3zM234.0 91.5h1.3v1.3h-1.3zM235.0 91.5h1.3v1.3h-1.3zM236.0 91.5h1.3v1.3h-1.3zM237.0 91.5h1.3v1.3h-1.3zM238.0 91.5h1.3v1.3h-1.3zM239.0 91.5h1.3v1.3h-1.3zM240.0 91.5h1.3v1.3h-1.3zM241.0 91.5h1.3v1.3h-1.3zM242.0 91.5h1.3v1.3h-1.3zM243.0 91.5h1.3v1.3h-1.3zM244.0 91.5h1.3v1.3h-1.3zM245.0 91.5h1.3v1.3h-1.3zM246.0 91.5h1.3v1.3h-1.3zM247.0 91.5h1.3v1.3h-1.3zM248.0 91.5h1.3v1.3h-1.3zM249.0 91.5h1.3v1.3h-1.3zM254.0 91.5h1.3v1.3h-1.3zM261.0 91.5h1.3v1.3h-1.3zM220.0 92.5h1.3v1.3h-1.3zM221.0 92.5h1.3v1.3h-1.3zM222.0 92.5h1.3v1.3h-1.3zM223.0 92.5h1.3v1.3h-1.3zM224.0 92.5h1.3v1.3h-1.3zM225.0 92.5h1.3v1.3h-1.3zM226.0 92.5h1.3v1.3h-1.3zM227.0 92.5h1.3v1.3h-1.3zM228.0 92.5h1.3v1.3h-1.3zM229.0 92.5h1.3v1.3h-1.3zM230.0 92.5h1.3v1.3h-1.3zM231.0 92.5h1.3v1.3h-1.3zM232.0 92.5h1.3v1.3h-1.3zM233.0 92.5h1.3v1.3h-1.3zM234.0 92.5h1.3v1.3h-1.3zM235.0 92.5h1.3v1.3h-1.3zM236.0 92.5h1.3v1.3h-1.3zM237.0 92.5h1.3v1.3h-1.3zM238.0 92.5h1.3v1.3h-1.3zM239.0 92.5h1.3v1.3h-1.3zM240.0 92.5h1.3v1.3h-1.3zM241.0 92.5h1.3v1.3h-1.3zM242.0 92.5h1.3v1.3h-1.3zM243.0 92.5h1.3v1.3h-1.3zM244.0 92.5h1.3v1.3h-1.3zM245.0 92.5h1.3v1.3h-1.3zM246.0 92.5h1.3v1.3h-1.3zM247.0 92.5h1.3v1.3h-1.3zM248.0 92.5h1.3v1.3h-1.3zM250.0 92.5h1.3v1.3h-1.3zM251.0 92.5h1.3v1.3h-1.3zM252.0 92.5h1.3v1.3h-1.3zM254.0 92.5h1.3v1.3h-1.3zM255.0 92.5h1.3v1.3h-1.3zM258.0 92.5h1.3v1.3h-1.3zM220.0 93.5h1.3v1.3h-1.3zM221.0 93.5h1.3v1.3h-1.3zM222.0 93.5h1.3v1.3h-1.3zM223.0 93.5h1.3v1.3h-1.3zM224.0 93.5h1.3v1.3h-1.3zM225.0 93.5h1.3v1.3h-1.3zM226.0 93.5h1.3v1.3h-1.3zM227.0 93.5h1.3v1.3h-1.3zM228.0 93.5h1.3v1.3h-1.3zM229.0 93.5h1.3v1.3h-1.3zM230.0 93.5h1.3v1.3h-1.3zM231.0 93.5h1.3v1.3h-1.3zM232.0 93.5h1.3v1.3h-1.3zM233.0 93.5h1.3v1.3h-1.3zM234.0 93.5h1.3v1.3h-1.3zM235.0 93.5h1.3v1.3h-1.3zM236.0 93.5h1.3v1.3h-1.3zM237.0 93.5h1.3v1.3h-1.3zM238.0 93.5h1.3v1.3h-1.3zM239.0 93.5h1.3v1.3h-1.3zM240.0 93.5h1.3v1.3h-1.3zM241.0 93.5h1.3v1.3h-1.3zM242.0 93.5h1.3v1.3h-1.3zM243.0 93.5h1.3v1.3h-1.3zM244.0 93.5h1.3v1.3h-1.3zM247.0 93.5h1.3v1.3h-1.3zM248.0 93.5h1.3v1.3h-1.3zM250.0 93.5h1.3v1.3h-1.3zM220.0 94.5h1.3v1.3h-1.3zM221.0 94.5h1.3v1.3h-1.3zM222.0 94.5h1.3v1.3h-1.3zM223.0 94.5h1.3v1.3h-1.3zM224.0 94.5h1.3v1.3h-1.3zM225.0 94.5h1.3v1.3h-1.3zM226.0 94.5h1.3v1.3h-1.3zM227.0 94.5h1.3v1.3h-1.3zM228.0 94.5h1.3v1.3h-1.3zM229.0 94.5h1.3v1.3h-1.3zM230.0 94.5h1.3v1.3h-1.3zM231.0 94.5h1.3v1.3h-1.3zM232.0 94.5h1.3v1.3h-1.3zM233.0 94.5h1.3v1.3h-1.3zM234.0 94.5h1.3v1.3h-1.3zM236.0 94.5h1.3v1.3h-1.3zM238.0 94.5h1.3v1.3h-1.3zM239.0 94.5h1.3v1.3h-1.3zM240.0 94.5h1.3v1.3h-1.3zM241.0 94.5h1.3v1.3h-1.3zM242.0 94.5h1.3v1.3h-1.3zM243.0 94.5h1.3v1.3h-1.3zM246.0 94.5h1.3v1.3h-1.3zM247.0 94.5h1.3v1.3h-1.3zM249.0 94.5h1.3v1.3h-1.3zM252.0 94.5h1.3v1.3h-1.3zM262.0 94.5h1.3v1.3h-1.3zM221.0 95.5h1.3v1.3h-1.3zM222.0 95.5h1.3v1.3h-1.3zM223.0 95.5h1.3v1.3h-1.3zM224.0 95.5h1.3v1.3h-1.3zM226.0 95.5h1.3v1.3h-1.3zM227.0 95.5h1.3v1.3h-1.3zM229.0 95.5h1.3v1.3h-1.3zM230.0 95.5h1.3v1.3h-1.3zM231.0 95.5h1.3v1.3h-1.3zM232.0 95.5h1.3v1.3h-1.3zM234.0 95.5h1.3v1.3h-1.3zM241.0 95.5h1.3v1.3h-1.3zM246.0 95.5h1.3v1.3h-1.3zM247.0 95.5h1.3v1.3h-1.3zM248.0 95.5h1.3v1.3h-1.3zM251.0 95.5h1.3v1.3h-1.3zM253.0 95.5h1.3v1.3h-1.3zM254.0 95.5h1.3v1.3h-1.3zM256.0 95.5h1.3v1.3h-1.3zM220.0 96.5h1.3v1.3h-1.3zM221.0 96.5h1.3v1.3h-1.3zM223.0 96.5h1.3v1.3h-1.3zM224.0 96.5h1.3v1.3h-1.3zM225.0 96.5h1.3v1.3h-1.3zM226.0 96.5h1.3v1.3h-1.3zM227.0 96.5h1.3v1.3h-1.3zM228.0 96.5h1.3v1.3h-1.3zM230.0 96.5h1.3v1.3h-1.3zM231.0 96.5h1.3v1.3h-1.3zM233.0 96.5h1.3v1.3h-1.3zM235.0 96.5h1.3v1.3h-1.3zM237.0 96.5h1.3v1.3h-1.3zM238.0 96.5h1.3v1.3h-1.3zM239.0 96.5h1.3v1.3h-1.3zM241.0 96.5h1.3v1.3h-1.3zM242.0 96.5h1.3v1.3h-1.3zM243.0 96.5h1.3v1.3h-1.3zM245.0 96.5h1.3v1.3h-1.3zM247.0 96.5h1.3v1.3h-1.3zM248.0 96.5h1.3v1.3h-1.3zM252.0 96.5h1.3v1.3h-1.3zM221.0 97.5h1.3v1.3h-1.3zM222.0 97.5h1.3v1.3h-1.3zM226.0 97.5h1.3v1.3h-1.3zM227.0 97.5h1.3v1.3h-1.3zM228.0 97.5h1.3v1.3h-1.3zM229.0 97.5h1.3v1.3h-1.3zM230.0 97.5h1.3v1.3h-1.3zM231.0 97.5h1.3v1.3h-1.3zM233.0 97.5h1.3v1.3h-1.3zM235.0 97.5h1.3v1.3h-1.3zM236.0 97.5h1.3v1.3h-1.3zM237.0 97.5h1.3v1.3h-1.3zM238.0 97.5h1.3v1.3h-1.3zM241.0 97.5h1.3v1.3h-1.3zM248.0 97.5h1.3v1.3h-1.3zM253.0 97.5h1.3v1.3h-1.3zM226.0 98.5h1.3v1.3h-1.3zM227.0 98.5h1.3v1.3h-1.3zM232.0 98.5h1.3v1.3h-1.3zM233.0 98.5h1.3v1.3h-1.3zM234.0 98.5h1.3v1.3h-1.3zM236.0 98.5h1.3v1.3h-1.3zM237.0 98.5h1.3v1.3h-1.3zM241.0 98.5h1.3v1.3h-1.3zM243.0 98.5h1.3v1.3h-1.3zM245.0 98.5h1.3v1.3h-1.3zM249.0 98.5h1.3v1.3h-1.3zM259.0 98.5h1.3v1.3h-1.3zM220.0 99.5h1.3v1.3h-1.3zM223.0 99.5h1.3v1.3h-1.3zM225.0 99.5h1.3v1.3h-1.3zM227.0 99.5h1.3v1.3h-1.3zM230.0 99.5h1.3v1.3h-1.3zM231.0 99.5h1.3v1.3h-1.3zM232.0 99.5h1.3v1.3h-1.3zM235.0 99.5h1.3v1.3h-1.3zM238.0 99.5h1.3v1.3h-1.3zM239.0 99.5h1.3v1.3h-1.3zM241.0 99.5h1.3v1.3h-1.3zM243.0 99.5h1.3v1.3h-1.3zM244.0 99.5h1.3v1.3h-1.3zM245.0 99.5h1.3v1.3h-1.3zM251.0 99.5h1.3v1.3h-1.3zM255.0 99.5h1.3v1.3h-1.3zM221.0 100.5h1.3v1.3h-1.3zM226.0 100.5h1.3v1.3h-1.3zM233.0 100.5h1.3v1.3h-1.3zM237.0 100.5h1.3v1.3h-1.3zM248.0 100.5h1.3v1.3h-1.3zM249.0 100.5h1.3v1.3h-1.3zM225.0 101.5h1.3v1.3h-1.3zM231.0 101.5h1.3v1.3h-1.3zM232.0 101.5h1.3v1.3h-1.3zM236.0 101.5h1.3v1.3h-1.3zM241.0 101.5h1.3v1.3h-1.3zM256.0 101.5h1.3v1.3h-1.3zM254.9 67.2h1.5v1.5h-1.5zM260.4 91.9h1.5v1.5h-1.5zM254.7 70.2h1.5v1.5h-1.5zM257.6 82.0h1.5v1.5h-1.5zM255.6 77.8h1.5v1.5h-1.5zM250.2 98.8h1.5v1.5h-1.5zM261.3 94.7h1.5v1.5h-1.5zM253.0 85.2h1.5v1.5h-1.5zM255.5 76.9h1.5v1.5h-1.5zM258.3 73.5h1.5v1.5h-1.5zM247.6 92.1h1.5v1.5h-1.5zM251.8 69.0h1.5v1.5h-1.5zM248.9 94.8h1.5v1.5h-1.5zM255.7 74.1h1.5v1.5h-1.5zM249.4 89.7h1.5v1.5h-1.5zM260.4 85.9h1.5v1.5h-1.5zM253.4 70.8h1.5v1.5h-1.5zM248.4 87.5h1.5v1.5h-1.5zM253.8 77.2h1.5v1.5h-1.5zM247.8 82.2h1.5v1.5h-1.5zM257.2 68.5h1.5v1.5h-1.5zM255.6 83.3h1.5v1.5h-1.5zM257.2 73.0h1.5v1.5h-1.5zM255.6 95.9h1.5v1.5h-1.5zM252.1 84.8h1.5v1.5h-1.5zM262.4 66.3h1.5v1.5h-1.5zM253.1 69.8h1.5v1.5h-1.5zM248.6 83.6h1.5v1.5h-1.5zM256.2 75.8h1.5v1.5h-1.5zM254.6 96.9h1.5v1.5h-1.5zM254.6 93.8h1.5v1.5h-1.5zM253.4 96.1h1.5v1.5h-1.5zM260.1 74.4h1.5v1.5h-1.5zM253.8 93.3h1.5v1.5h-1.5zM250.8 96.7h1.5v1.5h-1.5zM255.6 85.5h1.5v1.5h-1.5zM253.6 91.0h1.5v1.5h-1.5zM251.6 83.0h1.5v1.5h-1.5zM256.8 83.3h1.5v1.5h-1.5zM259.8 94.7h1.5v1.5h-1.5zM253.5 94.8h1.5v1.5h-1.5zM287.7 72.5h1.5v1.5h-1.5zM264.8 73.0h1.5v1.5h-1.5zM284.7 76.0h1.5v1.5h-1.5zM285.8 82.0h1.5v1.5h-1.5zM268.0 78.4h1.5v1.5h-1.5zM266.0 78.7h1.5v1.5h-1.5zM300.8 87.4h1.5v1.5h-1.5zM276.2 81.7h1.5v1.5h-1.5zM306.9 70.4h1.5v1.5h-1.5zM307.8 75.6h1.5v1.5h-1.5zM289.3 82.6h1.5v1.5h-1.5zM264.7 78.1h1.5v1.5h-1.5zM276.5 77.0h1.5v1.5h-1.5zM275.9 85.6h1.5v1.5h-1.5zM308.1 84.2h1.5v1.5h-1.5zM296.8 77.7h1.5v1.5h-1.5zM279.0 76.4h1.5v1.5h-1.5zM302.4 77.2h1.5v1.5h-1.5zM300.3 78.7h1.5v1.5h-1.5zM280.0 73.0h1.5v1.5h-1.5zM270.3 75.6h1.5v1.5h-1.5zM290.1 75.6h1.5v1.5h-1.5zM270.6 85.6h1.5v1.5h-1.5zM265.2 79.3h1.5v1.5h-1.5zM266.5 84.1h1.5v1.5h-1.5zM304.9 76.7h1.5v1.5h-1.5zM270.4 79.7h1.5v1.5h-1.5zM278.9 79.0h1.5v1.5h-1.5zM289.2 71.0h1.5v1.5h-1.5zM282.1 85.2h1.5v1.5h-1.5zM308.9 78.7h1.5v1.5h-1.5zM278.6 78.3h1.5v1.5h-1.5zM283.7 90.2h1.5v1.5h-1.5zM304.6 76.4h1.5v1.5h-1.5zM295.9 85.0h1.5v1.5h-1.5zM297.4 84.7h1.5v1.5h-1.5zM287.5 91.5h1.5v1.5h-1.5zM291.7 80.3h1.5v1.5h-1.5zM300.3 77.3h1.5v1.5h-1.5zM267.3 80.1h1.5v1.5h-1.5zM286.3 72.4h1.5v1.5h-1.5zM282.6 78.3h1.5v1.5h-1.5zM285.2 85.1h1.5v1.5h-1.5zM305.0 73.2h1.5v1.5h-1.5zM277.3 77.6h1.5v1.5h-1.5zM269.6 78.6h1.5v1.5h-1.5zM303.1 81.8h1.5v1.5h-1.5zM280.9 81.0h1.5v1.5h-1.5zM305.6 77.9h1.5v1.5h-1.5zM309.7 87.2h1.5v1.5h-1.5zM278.3 69.6h1.5v1.5h-1.5zM287.4 82.1h1.5v1.5h-1.5zM265.2 80.4h1.5v1.5h-1.5zM295.5 78.9h1.5v1.5h-1.5zM271.5 84.1h1.5v1.5h-1.5zM268.6 81.9h1.5v1.5h-1.5zM270.1 81.8h1.5v1.5h-1.5zM304.5 85.4h1.5v1.5h-1.5zM266.4 83.9h1.5v1.5h-1.5zM294.1 81.9h1.5v1.5h-1.5zM278.1 70.8h1.5v1.5h-1.5zM266.6 79.8h1.5v1.5h-1.5zM307.9 77.3h1.5v1.5h-1.5zM298.8 80.8h1.5v1.5h-1.5zM266.6 88.8h1.5v1.5h-1.5zM271.1 84.4h1.5v1.5h-1.5zM294.8 82.6h1.5v1.5h-1.5zM286.2 77.5h1.5v1.5h-1.5zM274.1 76.1h1.5v1.5h-1.5zM295.9 83.4h1.5v1.5h-1.5zM292.8 74.4h1.5v1.5h-1.5zM300.0 87.7h1.5v1.5h-1.5zM287.9 82.5h1.5v1.5h-1.5zM298.9 74.6h1.5v1.5h-1.5zM288.8 76.2h1.5v1.5h-1.5zM274.2 78.1h1.5v1.5h-1.5zM264.7 84.3h1.5v1.5h-1.5zM297.2 70.0h1.5v1.5h-1.5zM274.0 77.8h1.5v1.5h-1.5zM290.9 73.1h1.5v1.5h-1.5zM285.4 78.7h1.5v1.5h-1.5zM304.6 72.1h1.5v1.5h-1.5zM288.0 78.6h1.5v1.5h-1.5zM269.9 80.4h1.5v1.5h-1.5zM276.3 72.4h1.5v1.5h-1.5zM286.8 77.4h1.5v1.5h-1.5zM277.9 82.9h1.5v1.5h-1.5zM281.4 86.3h1.5v1.5h-1.5zM296.3 78.9h1.5v1.5h-1.5zM293.1 81.4h1.5v1.5h-1.5zM308.1 77.8h1.5v1.5h-1.5zM301.1 72.5h1.5v1.5h-1.5zM279.1 85.5h1.5v1.5h-1.5zM283.4 84.0h1.5v1.5h-1.5zM280.4 85.4h1.5v1.5h-1.5zM305.2 71.9h1.5v1.5h-1.5zM306.2 80.6h1.5v1.5h-1.5zM281.3 79.3h1.5v1.5h-1.5zM264.8 76.2h1.5v1.5h-1.5zM272.6 80.3h1.5v1.5h-1.5zM286.2 82.9h1.5v1.5h-1.5zM283.2 83.4h1.5v1.5h-1.5zM275.7 83.8h1.5v1.5h-1.5zM265.6 77.4h1.5v1.5h-1.5zM302.6 75.3h1.5v1.5h-1.5zM277.9 79.2h1.5v1.5h-1.5zM276.5 69.8h1.5v1.5h-1.5zM308.5 78.2h1.5v1.5h-1.5zM294.2 76.6h1.5v1.5h-1.5zM277.4 77.6h1.5v1.5h-1.5zM283.8 78.6h1.5v1.5h-1.5zM291.4 81.5h1.5v1.5h-1.5zM268.0 78.7h1.5v1.5h-1.5zM301.5 86.3h1.5v1.5h-1.5zM298.6 77.7h1.5v1.5h-1.5zM266.3 80.4h1.5v1.5h-1.5zM289.6 82.0h1.5v1.5h-1.5zM272.4 81.5h1.5v1.5h-1.5zM306.4 80.4h1.5v1.5h-1.5zM308.7 79.9h1.5v1.5h-1.5zM271.8 75.4h1.5v1.5h-1.5zM301.2 81.8h1.5v1.5h-1.5zM269.0 82.4h1.5v1.5h-1.5zM300.8 80.4h1.5v1.5h-1.5zM279.8 73.5h1.5v1.5h-1.5zM297.4 81.0h1.5v1.5h-1.5zM287.6 79.5h1.5v1.5h-1.5zM277.2 79.3h1.5v1.5h-1.5zM274.1 76.0h1.5v1.5h-1.5zM271.5 83.1h1.5v1.5h-1.5zM297.5 73.3h1.5v1.5h-1.5zM276.2 83.9h1.5v1.5h-1.5zM299.3 80.2h1.5v1.5h-1.5zM273.5 77.7h1.5v1.5h-1.5zM266.5 72.3h1.5v1.5h-1.5zM264.9 74.6h1.5v1.5h-1.5zM302.6 73.7h1.5v1.5h-1.5zM288.1 82.4h1.5v1.5h-1.5zM294.1 76.4h1.5v1.5h-1.5zM288.0 84.8h1.5v1.5h-1.5zM299.5 76.1h1.5v1.5h-1.5zM289.4 77.8h1.5v1.5h-1.5zM283.3 79.1h1.5v1.5h-1.5zM274.6 76.7h1.5v1.5h-1.5zM278.7 82.9h1.5v1.5h-1.5zM285.3 78.8h1.5v1.5h-1.5zM303.0 69.6h1.5v1.5h-1.5zM298.4 82.8h1.5v1.5h-1.5zM300.0 82.8h1.5v1.5h-1.5zM308.2 76.9h1.5v1.5h-1.5zM292.2 80.8h1.5v1.5h-1.5zM269.6 76.6h1.5v1.5h-1.5zM290.5 75.6h1.5v1.5h-1.5zM294.7 71.2h1.5v1.5h-1.5zM298.9 84.3h1.5v1.5h-1.5zM270.6 72.2h1.5v1.5h-1.5zM309.8 75.8h1.5v1.5h-1.5zM273.1 73.7h1.5v1.5h-1.5zM268.6 76.1h1.5v1.5h-1.5zM294.8 77.0h1.5v1.5h-1.5zM276.1 72.0h1.5v1.5h-1.5zM293.6 71.3h1.5v1.5h-1.5zM305.9 79.6h1.5v1.5h-1.5zM265.1 85.6h1.5v1.5h-1.5zM292.9 83.1h1.5v1.5h-1.5zM283.6 77.3h1.5v1.5h-1.5zM294.9 78.6h1.5v1.5h-1.5zM287.7 80.2h1.5v1.5h-1.5zM300.7 77.7h1.5v1.5h-1.5zM307.2 86.1h1.5v1.5h-1.5zM274.0 92.8h1.5v1.5h-1.5zM274.5 90.0h1.5v1.5h-1.5zM296.7 93.9h1.5v1.5h-1.5zM289.9 101.1h1.5v1.5h-1.5zM283.9 101.3h1.5v1.5h-1.5zM264.5 97.2h1.5v1.5h-1.5zM265.5 93.9h1.5v1.5h-1.5zM301.3 89.9h1.5v1.5h-1.5z" fill="#000"/><path d="M31.6 53.9h1.4v1.4h-1.4zM38.6 59.9h1.4v1.4h-1.4zM50.7 54.4h1.4v1.4h-1.4zM65.2 54.4h1.4v1.4h-1.4zM24.1 52.9h1.4v1.4h-1.4zM54.7 56.8h1.4v1.4h-1.4zM58.7 59.8h1.4v1.4h-1.4zM71.1 60.9h1.4v1.4h-1.4zM164.8 60.5h1.4v1.4h-1.4zM136.3 59.7h1.4v1.4h-1.4zM167.3 57.5h1.4v1.4h-1.4zM163.4 59.6h1.4v1.4h-1.4zM147.9 56.2h1.4v1.4h-1.4zM166.9 66.5h1.4v1.4h-1.4zM130.4 61.1h1.4v1.4h-1.4zM126.7 60.4h1.4v1.4h-1.4zM174.6 65.9h1.4v1.4h-1.4zM138.6 62.4h1.4v1.4h-1.4zM134.0 64.4h1.4v1.4h-1.4zM151.6 64.1h1.4v1.4h-1.4zM170.4 50.3h1.4v1.4h-1.4zM167.3 57.5h1.4v1.4h-1.4zM152.2 61.7h1.4v1.4h-1.4zM135.4 64.7h1.4v1.4h-1.4zM142.3 65.3h1.4v1.4h-1.4zM142.2 50.4h1.4v1.4h-1.4zM128.7 51.1h1.4v1.4h-1.4zM131.2 60.6h1.4v1.4h-1.4zM139.9 52.7h1.4v1.4h-1.4zM171.9 54.7h1.4v1.4h-1.4zM169.4 65.4h1.4v1.4h-1.4zM147.4 66.8h1.4v1.4h-1.4zM139.3 63.5h1.4v1.4h-1.4zM166.3 65.8h1.4v1.4h-1.4zM136.6 62.4h1.4v1.4h-1.4zM172.2 51.6h1.4v1.4h-1.4zM156.2 59.4h1.4v1.4h-1.4zM132.3 64.7h1.4v1.4h-1.4zM226.4 53.3h1.4v1.4h-1.4zM241.7 63.6h1.4v1.4h-1.4zM231.4 50.7h1.4v1.4h-1.4zM227.3 58.2h1.4v1.4h-1.4zM258.0 54.9h1.4v1.4h-1.4zM229.8 57.1h1.4v1.4h-1.4zM224.7 59.6h1.4v1.4h-1.4zM247.2 58.3h1.4v1.4h-1.4zM243.0 51.4h1.4v1.4h-1.4zM251.3 55.0h1.4v1.4h-1.4zM258.2 59.9h1.4v1.4h-1.4zM227.7 59.7h1.4v1.4h-1.4zM249.6 53.0h1.4v1.4h-1.4zM222.6 63.0h1.4v1.4h-1.4zM231.9 56.7h1.4v1.4h-1.4zM256.6 57.5h1.4v1.4h-1.4zM251.3 59.0h1.4v1.4h-1.4zM231.7 62.2h1.4v1.4h-1.4zM235.8 59.9h1.4v1.4h-1.4zM242.3 57.6h1.4v1.4h-1.4zM227.1 60.7h1.4v1.4h-1.4zM226.8 63.4h1.4v1.4h-1.4zM255.7 55.0h1.4v1.4h-1.4zM235.4 65.8h1.4v1.4h-1.4zM221.6 65.2h1.4v1.4h-1.4zM228.4 65.3h1.4v1.4h-1.4z" fill="#444"/><rect x="20.5" y="47" width="90.00" height="90.50" fill="none" stroke="#000" stroke-width="1.9"/><line x1="75.50" y1="47.00" x2="75.50" y2="137.50" stroke="#000" stroke-width="1.6"/><line x1="20.50" y1="95.30" x2="110.50" y2="95.30" stroke="#000" stroke-width="1.6"/><path d="M16.50 137.50H20.50M17.80 113.50H20.50M17.80 116.05H20.50M17.80 118.60H20.50M17.80 121.15H20.50M17.80 123.70H20.50M17.80 126.25H20.50M17.80 128.80H20.50M17.80 131.35H20.50M17.80 133.90H20.50M16.50 110.50H20.50M17.80 86.50H20.50M17.80 89.05H20.50M17.80 91.60H20.50M17.80 94.15H20.50M17.80 96.70H20.50M17.80 99.25H20.50M17.80 101.80H20.50M17.80 104.35H20.50M17.80 106.90H20.50M16.50 83.50H20.50M17.80 59.50H20.50M17.80 62.05H20.50M17.80 64.60H20.50M17.80 67.15H20.50M17.80 69.70H20.50M17.80 72.25H20.50M17.80 74.80H20.50M17.80 77.35H20.50M17.80 79.90H20.50M16.50 56.50H20.50M17.80 47.80H20.50M17.80 50.35H20.50M17.80 52.90H20.50M17.30 47.80H20.50M21.20 137.50V141.50M25.20 137.50V140.50M27.95 137.50V140.50M30.70 137.50V140.50M33.45 137.50V140.50M36.20 137.50V140.50M38.95 137.50V140.50M41.70 137.50V140.50M44.45 137.50V140.50M47.20 137.50V140.50M49.95 137.50V140.50M52.60 137.50V141.50M56.60 137.50V140.50M59.35 137.50V140.50M62.10 137.50V140.50M64.85 137.50V140.50M67.60 137.50V140.50M70.35 137.50V140.50M73.10 137.50V140.50M75.85 137.50V140.50M78.60 137.50V140.50M81.35 137.50V140.50M84.00 137.50V141.50M88.00 137.50V140.50M90.75 137.50V140.50M93.50 137.50V140.50M96.25 137.50V140.50M99.00 137.50V140.50M101.75 137.50V140.50M104.50 137.50V140.50M107.25 137.50V140.50" stroke="#000" stroke-width="1.2" fill="none"/><rect x="24.50" y="141.70" width="3.00" height="1.6" fill="#000"/><rect x="56.00" y="141.70" width="3.50" height="1.6" fill="#000"/><path d="M87.50 143.50Q89.25 140.10 91.00 143.50" stroke="#000" stroke-width="1.4" fill="none"/><rect x="124" y="46.8" width="90.40" height="88.20" fill="none" stroke="#000" stroke-width="1.9"/><line x1="177.70" y1="46.80" x2="177.70" y2="135.00" stroke="#000" stroke-width="1.6"/><line x1="124.00" y1="104.40" x2="214.40" y2="104.40" stroke="#000" stroke-width="1.6"/><path d="M120.00 135.00H124.00M121.30 111.00H124.00M121.30 113.55H124.00M121.30 116.10H124.00M121.30 118.65H124.00M121.30 121.20H124.00M121.30 123.75H124.00M121.30 126.30H124.00M121.30 128.85H124.00M121.30 131.40H124.00M120.00 108.00H124.00M121.30 84.00H124.00M121.30 86.55H124.00M121.30 89.10H124.00M121.30 91.65H124.00M121.30 94.20H124.00M121.30 96.75H124.00M121.30 99.30H124.00M121.30 101.85H124.00M121.30 104.40H124.00M120.00 81.00H124.00M121.30 57.00H124.00M121.30 59.55H124.00M121.30 62.10H124.00M121.30 64.65H124.00M121.30 67.20H124.00M121.30 69.75H124.00M121.30 72.30H124.00M121.30 74.85H124.00M121.30 77.40H124.00M120.00 54.00H124.00M121.30 47.85H124.00M121.30 50.40H124.00M120.80 47.60H124.00M124.70 135.00V139.00M128.70 135.00V138.00M131.45 135.00V138.00M134.20 135.00V138.00M136.95 135.00V138.00M139.70 135.00V138.00M142.45 135.00V138.00M145.20 135.00V138.00M147.95 135.00V138.00M150.70 135.00V138.00M153.45 135.00V138.00M156.10 135.00V139.00M160.10 135.00V138.00M162.85 135.00V138.00M165.60 135.00V138.00M168.35 135.00V138.00M171.10 135.00V138.00M173.85 135.00V138.00M176.60 135.00V138.00M179.35 135.00V138.00M182.10 135.00V138.00M184.85 135.00V138.00M187.50 135.00V139.00M191.50 135.00V138.00M194.25 135.00V138.00M197.00 135.00V138.00M199.75 135.00V138.00M202.50 135.00V138.00M205.25 135.00V138.00M208.00 135.00V138.00M210.75 135.00V138.00" stroke="#000" stroke-width="1.2" fill="none"/><rect x="130.50" y="139.20" width="3.00" height="1.6" fill="#000"/><rect x="167.00" y="139.20" width="5.00" height="1.6" fill="#000"/><path d="M208.00 141.00Q210.50 137.60 213.00 141.00" stroke="#000" stroke-width="1.4" fill="none"/><rect x="219" y="46.8" width="92.00" height="87.40" fill="none" stroke="#000" stroke-width="1.9"/><line x1="263.20" y1="46.80" x2="263.20" y2="134.20" stroke="#000" stroke-width="1.6"/><line x1="219.00" y1="103.00" x2="311.00" y2="103.00" stroke="#000" stroke-width="1.6"/><path d="M215.00 134.20H219.00M216.30 110.20H219.00M216.30 112.75H219.00M216.30 115.30H219.00M216.30 117.85H219.00M216.30 120.40H219.00M216.30 122.95H219.00M216.30 125.50H219.00M216.30 128.05H219.00M216.30 130.60H219.00M215.00 107.20H219.00M216.30 83.20H219.00M216.30 85.75H219.00M216.30 88.30H219.00M216.30 90.85H219.00M216.30 93.40H219.00M216.30 95.95H219.00M216.30 98.50H219.00M216.30 101.05H219.00M216.30 103.60H219.00M215.00 80.20H219.00M216.30 56.20H219.00M216.30 58.75H219.00M216.30 61.30H219.00M216.30 63.85H219.00M216.30 66.40H219.00M216.30 68.95H219.00M216.30 71.50H219.00M216.30 74.05H219.00M216.30 76.60H219.00M215.00 53.20H219.00M216.30 49.60H219.00M215.80 47.60H219.00M219.70 134.20V138.20M223.70 134.20V137.20M226.45 134.20V137.20M229.20 134.20V137.20M231.95 134.20V137.20M234.70 134.20V137.20M237.45 134.20V137.20M240.20 134.20V137.20M242.95 134.20V137.20M245.70 134.20V137.20M248.45 134.20V137.20M251.10 134.20V138.20M255.10 134.20V137.20M257.85 134.20V137.20M260.60 134.20V137.20M263.35 134.20V137.20M266.10 134.20V137.20M268.85 134.20V137.20M271.60 134.20V137.20M274.35 134.20V137.20M277.10 134.20V137.20M279.85 134.20V137.20M282.50 134.20V138.20M286.50 134.20V137.20M289.25 134.20V137.20M292.00 134.20V137.20M294.75 134.20V137.20M297.50 134.20V137.20M300.25 134.20V137.20M303.00 134.20V137.20M305.75 134.20V137.20M308.50 134.20V137.20" stroke="#000" stroke-width="1.2" fill="none"/><rect x="224.50" y="138.40" width="3.00" height="1.6" fill="#000"/><rect x="257.00" y="138.40" width="4.00" height="1.6" fill="#000"/><path d="M289.00 140.20Q291.50 136.80 294.00 140.20" stroke="#000" stroke-width="1.4" fill="none"/><text x="82.10" y="64.20" font-size="11.2" font-weight="bold" textLength="21.70" lengthAdjust="spacingAndGlyphs" fill="#000">0,04</text><text x="185.50" y="63.80" font-size="11.2" font-weight="bold" textLength="21.50" lengthAdjust="spacingAndGlyphs" fill="#000">1.03</text><text x="278.00" y="63.70" font-size="11.2" font-weight="bold" textLength="21.70" lengthAdjust="spacingAndGlyphs" fill="#000">4.05</text><line x1="21.20" y1="147.40" x2="97.00" y2="147.40" stroke="#000" stroke-width="1.6"/><path d="M96.3 143.2L105.2 147.4L96.3 151.6Z" fill="#000"/><line x1="124.80" y1="146.00" x2="302.00" y2="146.00" stroke="#000" stroke-width="1.6"/><path d="M301 141.7L309.8 146L301 150.3Z" fill="#000"/><text x="10.40" y="91.30" font-size="12.3" text-anchor="middle" textLength="48.40" lengthAdjust="spacingAndGlyphs" transform="rotate(-90 10.40 91.30)">CD8 APC</text><text x="33.10" y="165.40" font-size="11" textLength="53.40" lengthAdjust="spacingAndGlyphs">HIVgag/A2</text><text x="35.00" y="179.40" font-size="11" textLength="49.60" lengthAdjust="spacingAndGlyphs">pentamer</text><text x="196.90" y="163.20" font-size="11" textLength="49.30" lengthAdjust="spacingAndGlyphs">A2/pY572</text><text x="197.20" y="178.10" font-size="11" textLength="49.30" lengthAdjust="spacingAndGlyphs">pentamer</text><text x="177.70" y="19.20" font-size="12" textLength="85.10" lengthAdjust="spacingAndGlyphs">lv-hTERT prime</text><line x1="133.00" y1="24.50" x2="301.50" y2="24.50" stroke="#000" stroke-width="1.3"/><text x="168.00" y="38.60" font-size="12" textLength="3.50" lengthAdjust="spacingAndGlyphs">-</text><text x="213.80" y="39.20" font-size="12" textLength="97.70" lengthAdjust="spacingAndGlyphs">pY572/ IFA boost</text><line x1="372.80" y1="4.80" x2="372.80" y2="155.80" stroke="#333" stroke-width="1.0"/><line x1="369.50" y1="155.50" x2="372.80" y2="155.50" stroke="#888" stroke-width="0.8"/><text x="361.30" y="161.20" font-size="11" textLength="5.90" lengthAdjust="spacingAndGlyphs">0</text><line x1="369.50" y1="140.47" x2="372.80" y2="140.47" stroke="#888" stroke-width="0.8"/><text x="354.60" y="146.07" font-size="11" textLength="15.40" lengthAdjust="spacingAndGlyphs">0,5</text><line x1="369.50" y1="125.44" x2="372.80" y2="125.44" stroke="#888" stroke-width="0.8"/><text x="361.30" y="131.14" font-size="11" textLength="5.90" lengthAdjust="spacingAndGlyphs">1</text><line x1="369.50" y1="110.41" x2="372.80" y2="110.41" stroke="#888" stroke-width="0.8"/><text x="354.60" y="116.01" font-size="11" textLength="15.40" lengthAdjust="spacingAndGlyphs">1,5</text><line x1="369.50" y1="95.38" x2="372.80" y2="95.38" stroke="#888" stroke-width="0.8"/><text x="361.30" y="101.08" font-size="11" textLength="5.90" lengthAdjust="spacingAndGlyphs">2</text><line x1="369.50" y1="80.35" x2="372.80" y2="80.35" stroke="#888" stroke-width="0.8"/><text x="354.60" y="85.95" font-size="11" textLength="15.40" lengthAdjust="spacingAndGlyphs">2,5</text><line x1="369.50" y1="65.32" x2="372.80" y2="65.32" stroke="#888" stroke-width="0.8"/><text x="361.30" y="71.02" font-size="11" textLength="5.90" lengthAdjust="spacingAndGlyphs">3</text><line x1="369.50" y1="50.29" x2="372.80" y2="50.29" stroke="#888" stroke-width="0.8"/><text x="354.60" y="55.89" font-size="11" textLength="15.40" lengthAdjust="spacingAndGlyphs">3,5</text><line x1="369.50" y1="35.26" x2="372.80" y2="35.26" stroke="#888" stroke-width="0.8"/><text x="361.30" y="40.96" font-size="11" textLength="5.90" lengthAdjust="spacingAndGlyphs">4</text><line x1="369.50" y1="20.23" x2="372.80" y2="20.23" stroke="#888" stroke-width="0.8"/><text x="354.60" y="25.83" font-size="11" textLength="15.40" lengthAdjust="spacingAndGlyphs">4,5</text><line x1="369.50" y1="5.20" x2="372.80" y2="5.20" stroke="#888" stroke-width="0.8"/><text x="361.30" y="10.90" font-size="11" textLength="5.90" lengthAdjust="spacingAndGlyphs">5</text><line x1="372.30" y1="155.60" x2="511.30" y2="155.60" stroke="#000" stroke-width="1.5"/><rect x="391.20" y="125.53" width="25.70" height="29.97" fill="#000"/><line x1="404.60" y1="109.20" x2="404.60" y2="125.53" stroke="#000" stroke-width="1.4"/><line x1="401.80" y1="109.20" x2="407.60" y2="109.20" stroke="#000" stroke-width="1.6"/><rect x="459.80" y="43.30" width="25.20" height="112.20" fill="#000"/><line x1="472.20" y1="24.00" x2="472.20" y2="44.00" stroke="#000" stroke-width="1.4"/><line x1="469.50" y1="24.00" x2="475.00" y2="24.00" stroke="#000" stroke-width="1.6"/><line x1="473.10" y1="16.60" x2="473.10" y2="21.60" stroke="#000" stroke-width="1.4"/><line x1="470.85" y1="17.85" x2="475.35" y2="20.35" stroke="#000" stroke-width="1.4"/><line x1="475.35" y1="17.85" x2="470.85" y2="20.35" stroke="#000" stroke-width="1.4"/><line x1="402.90" y1="165.90" x2="408.40" y2="165.90" stroke="#000" stroke-width="2.0"/><text x="435.00" y="170.50" font-size="11" textLength="83.20" lengthAdjust="spacingAndGlyphs">pY572/IFA boost</text><line x1="382.70" y1="174.10" x2="493.40" y2="174.10" stroke="#000" stroke-width="1.3"/><text x="397.50" y="188.80" font-size="11.8" textLength="86.20" lengthAdjust="spacingAndGlyphs">lv-hTERT prime</text><text x="330.60" y="77.00" font-size="11.5" text-anchor="middle" textLength="114.70" lengthAdjust="spacingAndGlyphs" transform="rotate(-90 330.60 77.00)">A2/ pY572 pentamer+</text><text x="345.80" y="77.50" font-size="11.2" text-anchor="middle" textLength="72.10" lengthAdjust="spacingAndGlyphs" transform="rotate(-90 345.80 77.50)">CD8 T cells (%)</text><line x1="65.50" y1="225.20" x2="65.50" y2="410.50" stroke="#000" stroke-width="1.5"/><line x1="60.80" y1="225.40" x2="65.50" y2="225.40" stroke="#999" stroke-width="0.8"/><text x="49.20" y="230.40" font-size="11" text-anchor="end">250</text><line x1="60.80" y1="262.30" x2="65.50" y2="262.30" stroke="#999" stroke-width="0.8"/><text x="49.20" y="267.30" font-size="11" text-anchor="end">200</text><line x1="60.80" y1="299.20" x2="65.50" y2="299.20" stroke="#999" stroke-width="0.8"/><text x="49.00" y="304.20" font-size="11" text-anchor="end">150</text><line x1="60.80" y1="336.10" x2="65.50" y2="336.10" stroke="#999" stroke-width="0.8"/><text x="49.00" y="341.10" font-size="11" text-anchor="end">100</text><line x1="60.80" y1="373.00" x2="65.50" y2="373.00" stroke="#999" stroke-width="0.8"/><text x="50.60" y="378.00" font-size="11" text-anchor="end">50</text><line x1="60.80" y1="409.90" x2="65.50" y2="409.90" stroke="#999" stroke-width="0.8"/><text x="52.60" y="414.90" font-size="11" text-anchor="end">0</text><line x1="65.50" y1="410.00" x2="323.70" y2="410.00" stroke="#000" stroke-width="1.5"/><line x1="83.10" y1="398.50" x2="83.10" y2="401.20" stroke="#000" stroke-width="1.2"/><line x1="78.50" y1="398.50" x2="87.70" y2="398.50" stroke="#000" stroke-width="1.5"/><rect x="76.10" y="401.90" width="14.00" height="8.10" fill="#fff" stroke="#000" stroke-width="1.4"/><line x1="136.15" y1="394.60" x2="136.15" y2="396.20" stroke="#000" stroke-width="1.2"/><line x1="131.50" y1="394.60" x2="140.80" y2="394.60" stroke="#000" stroke-width="1.5"/><rect x="127.60" y="396.90" width="14.30" height="13.10" fill="#fff" stroke="#000" stroke-width="1.4"/><line x1="186.25" y1="401.30" x2="186.25" y2="402.20" stroke="#000" stroke-width="1.2"/><line x1="182.00" y1="401.30" x2="190.50" y2="401.30" stroke="#000" stroke-width="1.5"/><rect x="180.20" y="402.90" width="13.60" height="7.10" fill="#fff" stroke="#000" stroke-width="1.4"/><rect x="231.70" y="405.70" width="14.70" height="4.30" fill="#fff" stroke="#000" stroke-width="1.4"/><line x1="290.90" y1="402.00" x2="290.90" y2="403.90" stroke="#000" stroke-width="1.2"/><line x1="287.30" y1="402.00" x2="294.50" y2="402.00" stroke="#000" stroke-width="1.5"/><rect x="283.70" y="404.60" width="13.90" height="5.40" fill="#fff" stroke="#000" stroke-width="1.4"/><line x1="98.30" y1="249.80" x2="98.30" y2="258.90" stroke="#000" stroke-width="1.3"/><line x1="93.50" y1="249.80" x2="103.10" y2="249.80" stroke="#000" stroke-width="1.6"/><rect x="90.80" y="257.90" width="15.40" height="152.10" fill="#000"/><line x1="150.80" y1="234.40" x2="150.80" y2="250.40" stroke="#000" stroke-width="1.3"/><line x1="146.00" y1="234.40" x2="155.60" y2="234.40" stroke="#000" stroke-width="1.6"/><rect x="142.60" y="249.40" width="16.20" height="160.60" fill="#000"/><line x1="202.00" y1="313.70" x2="202.00" y2="317.20" stroke="#000" stroke-width="1.3"/><line x1="197.50" y1="313.70" x2="206.50" y2="313.70" stroke="#000" stroke-width="1.6"/><rect x="194.00" y="316.20" width="16.00" height="93.80" fill="#000"/><line x1="254.50" y1="254.60" x2="254.50" y2="261.80" stroke="#000" stroke-width="1.3"/><line x1="250.20" y1="254.60" x2="258.80" y2="254.60" stroke="#000" stroke-width="1.6"/><rect x="247.10" y="260.80" width="15.40" height="149.20" fill="#000"/><line x1="306.25" y1="245.60" x2="306.25" y2="248.90" stroke="#000" stroke-width="1.3"/><line x1="301.70" y1="245.60" x2="310.80" y2="245.60" stroke="#000" stroke-width="1.6"/><rect x="298.30" y="247.90" width="15.40" height="162.10" fill="#000"/><text x="91.30" y="428.50" font-size="11.5" text-anchor="middle" textLength="13.30" lengthAdjust="spacingAndGlyphs">#1</text><text x="144.60" y="428.50" font-size="11.5" text-anchor="middle" textLength="13.30" lengthAdjust="spacingAndGlyphs">#2</text><text x="196.00" y="428.50" font-size="11.5" text-anchor="middle" textLength="13.30" lengthAdjust="spacingAndGlyphs">#3</text><text x="248.00" y="428.50" font-size="11.5" text-anchor="middle" textLength="13.30" lengthAdjust="spacingAndGlyphs">#4</text><text x="299.60" y="428.50" font-size="11.5" text-anchor="middle" textLength="13.30" lengthAdjust="spacingAndGlyphs">#5</text><text x="168.50" y="444.20" font-size="11.5" textLength="54.90" lengthAdjust="spacingAndGlyphs">HHD mice</text><text x="19.10" y="318.00" font-size="10.5" text-anchor="middle" textLength="178.00" lengthAdjust="spacingAndGlyphs" transform="rotate(-90 19.10 318.00)">IFN- <tspan font-style="italic">&#947;</tspan> spots/ 10<tspan font-size="7" dy="-4">5</tspan><tspan dy="4"> splenocytes cells</tspan></text><rect x="324.00" y="311.30" width="7.10" height="6.60" fill="#fff" stroke="#000" stroke-width="1.1"/><text x="336.50" y="320.00" font-size="12" textLength="46.50" lengthAdjust="spacingAndGlyphs">medium</text><rect x="323.50" y="331.50" width="8.10" height="7.00" fill="#000"/><text x="336.50" y="340.30" font-size="12" textLength="28.00" lengthAdjust="spacingAndGlyphs">p572</text><line x1="43.30" y1="477.80" x2="43.30" y2="656.80" stroke="#777" stroke-width="1.2"/><line x1="40.30" y1="656.30" x2="43.30" y2="656.30" stroke="#777" stroke-width="0.9"/><text x="35.10" y="662.70" font-size="12" text-anchor="end">0</text><line x1="40.30" y1="620.64" x2="43.30" y2="620.64" stroke="#777" stroke-width="0.9"/><text x="35.10" y="627.04" font-size="12" text-anchor="end">10</text><line x1="40.30" y1="584.98" x2="43.30" y2="584.98" stroke="#777" stroke-width="0.9"/><text x="35.10" y="591.38" font-size="12" text-anchor="end">20</text><line x1="40.30" y1="549.32" x2="43.30" y2="549.32" stroke="#777" stroke-width="0.9"/><text x="35.10" y="555.72" font-size="12" text-anchor="end">30</text><line x1="40.30" y1="513.66" x2="43.30" y2="513.66" stroke="#777" stroke-width="0.9"/><text x="35.10" y="520.06" font-size="12" text-anchor="end">40</text><line x1="40.30" y1="478.00" x2="43.30" y2="478.00" stroke="#777" stroke-width="0.9"/><text x="35.10" y="484.40" font-size="12" text-anchor="end">50</text><line x1="43.30" y1="656.30" x2="198.40" y2="656.30" stroke="#555" stroke-width="1.3"/><line x1="69.80" y1="656.30" x2="69.80" y2="659.50" stroke="#777" stroke-width="0.9"/><line x1="123.60" y1="656.30" x2="123.60" y2="659.50" stroke="#777" stroke-width="0.9"/><line x1="177.60" y1="656.30" x2="177.60" y2="659.50" stroke="#777" stroke-width="0.9"/><line x1="220.00" y1="477.80" x2="220.00" y2="656.80" stroke="#777" stroke-width="1.2"/><line x1="217.00" y1="656.30" x2="220.00" y2="656.30" stroke="#777" stroke-width="0.9"/><text x="211.20" y="662.70" font-size="12" text-anchor="end">0</text><line x1="217.00" y1="620.64" x2="220.00" y2="620.64" stroke="#777" stroke-width="0.9"/><text x="211.20" y="627.04" font-size="12" text-anchor="end">10</text><line x1="217.00" y1="584.98" x2="220.00" y2="584.98" stroke="#777" stroke-width="0.9"/><text x="211.20" y="591.38" font-size="12" text-anchor="end">20</text><line x1="217.00" y1="549.32" x2="220.00" y2="549.32" stroke="#777" stroke-width="0.9"/><text x="211.20" y="555.72" font-size="12" text-anchor="end">30</text><line x1="217.00" y1="513.66" x2="220.00" y2="513.66" stroke="#777" stroke-width="0.9"/><text x="211.20" y="520.06" font-size="12" text-anchor="end">40</text><line x1="217.00" y1="478.00" x2="220.00" y2="478.00" stroke="#777" stroke-width="0.9"/><text x="211.20" y="484.40" font-size="12" text-anchor="end">50</text><line x1="220.00" y1="656.30" x2="376.40" y2="656.30" stroke="#555" stroke-width="1.3"/><line x1="247.50" y1="656.30" x2="247.50" y2="659.50" stroke="#777" stroke-width="0.9"/><line x1="303.20" y1="656.30" x2="303.20" y2="659.50" stroke="#777" stroke-width="0.9"/><line x1="358.00" y1="656.30" x2="358.00" y2="659.50" stroke="#777" stroke-width="0.9"/><text x="57.20" y="480.80" font-size="12.5" textLength="123.20" lengthAdjust="spacingAndGlyphs">RMAS/HHD + peptide</text><text x="272.00" y="481.50" font-size="12.5" textLength="41.50" lengthAdjust="spacingAndGlyphs">B16/A2</text><text x="16.00" y="569.00" font-size="11.5" text-anchor="middle" textLength="87.40" lengthAdjust="spacingAndGlyphs" transform="rotate(-90 16.00 569.00)">% of specific lysis</text><text x="70.30" y="676.10" font-size="11" text-anchor="middle" textLength="21.30" lengthAdjust="spacingAndGlyphs">10:1</text><text x="123.80" y="676.10" font-size="11" text-anchor="middle" textLength="21.30" lengthAdjust="spacingAndGlyphs">30:1</text><text x="178.30" y="676.10" font-size="11" text-anchor="middle" textLength="27.70" lengthAdjust="spacingAndGlyphs">100:1</text><text x="248.00" y="676.10" font-size="11" text-anchor="middle" textLength="21.30" lengthAdjust="spacingAndGlyphs">10:1</text><text x="303.70" y="676.10" font-size="11" text-anchor="middle" textLength="21.30" lengthAdjust="spacingAndGlyphs">30:1</text><text x="358.20" y="676.10" font-size="11" text-anchor="middle" textLength="27.70" lengthAdjust="spacingAndGlyphs">100:1</text><text x="109.00" y="691.40" font-size="11" textLength="42.00" lengthAdjust="spacingAndGlyphs">E:T ratio</text><text x="288.00" y="691.50" font-size="11" textLength="41.60" lengthAdjust="spacingAndGlyphs">E:T ratio</text><line x1="69.70" y1="615.00" x2="69.70" y2="620.00" stroke="#000" stroke-width="1.3"/><line x1="66.40" y1="615.00" x2="73.00" y2="615.00" stroke="#000" stroke-width="1.5"/><line x1="66.40" y1="620.00" x2="73.00" y2="620.00" stroke="#000" stroke-width="1.5"/><line x1="123.80" y1="583.90" x2="123.80" y2="600.10" stroke="#000" stroke-width="1.3"/><line x1="120.30" y1="583.90" x2="127.30" y2="583.90" stroke="#000" stroke-width="1.5"/><line x1="120.30" y1="600.10" x2="127.30" y2="600.10" stroke="#000" stroke-width="1.5"/><line x1="177.80" y1="499.10" x2="177.80" y2="521.80" stroke="#000" stroke-width="1.3"/><line x1="174.20" y1="499.10" x2="181.40" y2="499.10" stroke="#000" stroke-width="1.5"/><line x1="174.20" y1="521.80" x2="181.40" y2="521.80" stroke="#000" stroke-width="1.5"/><line x1="123.70" y1="602.70" x2="123.70" y2="631.60" stroke="#000" stroke-width="1.3"/><line x1="120.20" y1="602.70" x2="127.20" y2="602.70" stroke="#000" stroke-width="1.5"/><line x1="120.20" y1="631.60" x2="127.20" y2="631.60" stroke="#000" stroke-width="1.5"/><line x1="177.70" y1="566.60" x2="177.70" y2="583.00" stroke="#000" stroke-width="1.3"/><line x1="174.20" y1="566.60" x2="181.20" y2="566.60" stroke="#000" stroke-width="1.5"/><line x1="174.20" y1="583.00" x2="181.20" y2="583.00" stroke="#000" stroke-width="1.5"/><line x1="69.80" y1="645.40" x2="69.80" y2="652.00" stroke="#000" stroke-width="1.3"/><line x1="66.50" y1="645.40" x2="73.10" y2="645.40" stroke="#000" stroke-width="1.5"/><line x1="66.50" y1="652.00" x2="73.10" y2="652.00" stroke="#000" stroke-width="1.5"/><path d="M69.70 630.50L123.50 617.60L177.40 574.30" fill="none" stroke="#000" stroke-width="1.5"/><path d="M69.60 617.40L123.50 591.70L176.90 509.70" fill="none" stroke="#000" stroke-width="1.5"/><path d="M69.60 650.00L123.70 653.00L177.10 642.60" fill="none" stroke="#000" stroke-width="1.5"/><path d="M65.10 630.50L69.70 625.90L74.30 630.50L69.70 635.10Z" fill="#000"/><path d="M118.90 617.60L123.50 613.00L128.10 617.60L123.50 622.20Z" fill="#000"/><path d="M172.80 574.30L177.40 569.70L182.00 574.30L177.40 578.90Z" fill="#000"/><rect x="65.60" y="613.40" width="8.00" height="8.00" fill="#000"/><rect x="119.50" y="587.70" width="8.00" height="8.00" fill="#000"/><rect x="172.90" y="505.70" width="8.00" height="8.00" fill="#000"/><path d="M65.00 653.60L69.60 646.20L74.20 653.60Z" fill="#000"/><path d="M119.10 656.60L123.70 649.20L128.30 656.60Z" fill="#000"/><path d="M172.50 646.20L177.10 638.80L181.70 646.20Z" fill="#000"/><line x1="303.60" y1="612.50" x2="303.60" y2="635.60" stroke="#000" stroke-width="1.3"/><line x1="300.10" y1="612.50" x2="307.10" y2="612.50" stroke="#000" stroke-width="1.5"/><line x1="300.10" y1="635.60" x2="307.10" y2="635.60" stroke="#000" stroke-width="1.5"/><line x1="357.80" y1="561.00" x2="357.80" y2="597.80" stroke="#000" stroke-width="1.3"/><line x1="354.10" y1="561.00" x2="361.50" y2="561.00" stroke="#000" stroke-width="1.5"/><line x1="354.10" y1="597.80" x2="361.50" y2="597.80" stroke="#000" stroke-width="1.5"/><line x1="303.30" y1="641.30" x2="303.30" y2="648.50" stroke="#000" stroke-width="1.3"/><line x1="300.00" y1="641.30" x2="306.60" y2="641.30" stroke="#000" stroke-width="1.5"/><line x1="300.00" y1="648.50" x2="306.60" y2="648.50" stroke="#000" stroke-width="1.5"/><line x1="247.20" y1="644.50" x2="247.20" y2="653.50" stroke="#000" stroke-width="1.3"/><line x1="244.20" y1="644.50" x2="250.20" y2="644.50" stroke="#000" stroke-width="1.5"/><line x1="244.20" y1="653.50" x2="250.20" y2="653.50" stroke="#000" stroke-width="1.5"/><line x1="357.90" y1="624.60" x2="357.90" y2="630.00" stroke="#000" stroke-width="1.3"/><line x1="355.10" y1="624.60" x2="360.70" y2="624.60" stroke="#000" stroke-width="1.5"/><line x1="355.10" y1="630.00" x2="360.70" y2="630.00" stroke="#000" stroke-width="1.5"/><path d="M247.20 641.20L303.20 644.90L357.90 627.30" fill="none" stroke="#000" stroke-width="1.5"/><path d="M247.20 649.20L303.00 623.30L357.60 578.70" fill="none" stroke="#000" stroke-width="1.5"/><path d="M247.20 653.00L303.50 655.20L357.90 653.00" fill="none" stroke="#000" stroke-width="1.5"/><path d="M242.60 641.20L247.20 636.60L251.80 641.20L247.20 645.80Z" fill="#000"/><path d="M298.60 644.90L303.20 640.30L307.80 644.90L303.20 649.50Z" fill="#000"/><path d="M353.30 627.30L357.90 622.70L362.50 627.30L357.90 631.90Z" fill="#000"/><rect x="243.20" y="645.20" width="8.00" height="8.00" fill="#000"/><rect x="299.00" y="619.30" width="8.00" height="8.00" fill="#000"/><rect x="353.60" y="574.70" width="8.00" height="8.00" fill="#000"/><path d="M242.60 656.60L247.20 649.20L251.80 656.60Z" fill="#000"/><path d="M298.90 658.80L303.50 651.40L308.10 658.80Z" fill="#000"/><path d="M353.30 656.60L357.90 649.20L362.50 656.60Z" fill="#000"/><line x1="361.90" y1="495.00" x2="389.60" y2="495.00" stroke="#000" stroke-width="1.5"/><path d="M371.70 495.00L375.40 491.30L379.10 495.00L375.40 498.70Z" fill="#000"/><text x="392.60" y="498.60" font-size="11" textLength="43.60" lengthAdjust="spacingAndGlyphs">lv-hTERT</text><line x1="361.90" y1="516.90" x2="389.60" y2="516.90" stroke="#000" stroke-width="1.5"/><rect x="372.00" y="513.90" width="6.20" height="6.20" fill="#000"/><text x="392.60" y="520.50" font-size="11" textLength="103.90" lengthAdjust="spacingAndGlyphs">lv-hTERT+pY572/IFA</text><line x1="361.90" y1="538.80" x2="389.60" y2="538.80" stroke="#000" stroke-width="1.5"/><path d="M371.50 542.40L375.40 535.00L379.30 542.40Z" fill="#000"/><text x="392.60" y="542.40" font-size="11" textLength="31.80" lengthAdjust="spacingAndGlyphs">lv-GFP</text></g></svg></body></html>
